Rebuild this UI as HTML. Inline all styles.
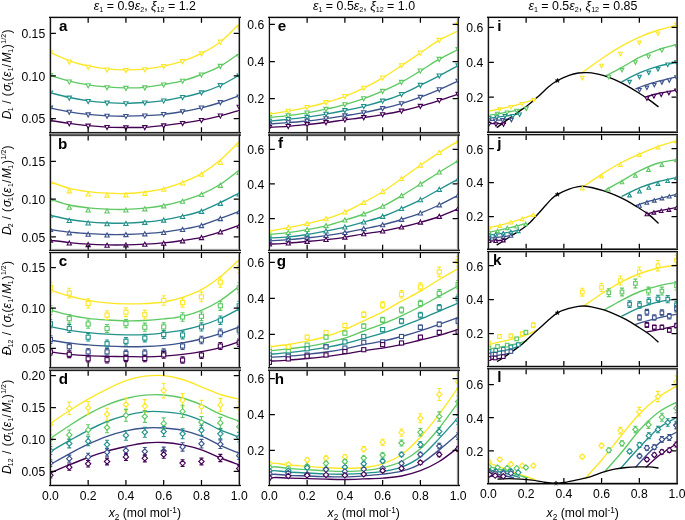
<!DOCTYPE html>
<html><head><meta charset="utf-8"><style>
html,body{margin:0;padding:0;background:#fff;}
svg{display:block;will-change:transform;}
text{font-family:"Liberation Sans",sans-serif;fill:#000;}
.tk{font-size:12.2px;}
.ti{font-size:12.4px;}
.yl{font-size:12.0px;}
.ys{font-size:7.0px;}
.ts{font-size:7.2px;}
.sb{font-size:8.3px;}
.lt{font-size:15.2px;font-weight:bold;}
.st{font-size:7px;}
</style></head><body>
<svg width="685" height="520" viewBox="0 0 685 520">
<rect width="685" height="520" fill="#fff"/>
<clipPath id="c11"><rect x="50.39" y="16.30" width="188.85" height="117.50"/></clipPath>
<g clip-path="url(#c11)">
<path d="M50.39,52.60 C53.54,53.97 62.98,58.58 69.28,60.80 C75.57,63.02 81.86,64.55 88.16,65.90 C94.45,67.25 100.75,68.25 107.05,68.90 C113.34,69.55 119.64,69.77 125.93,69.80 C132.22,69.83 138.52,69.72 144.81,69.10 C151.11,68.48 157.41,67.42 163.70,66.10 C170.00,64.78 176.29,63.32 182.59,61.20 C188.88,59.08 195.18,56.60 201.47,53.40 C207.77,50.20 214.06,46.92 220.36,42.00 C226.65,37.08 236.09,26.92 239.24,23.90" fill="none" stroke="#fde725" stroke-width="1.35"/>
<path d="M50.39,75.50 C53.54,76.43 62.98,79.55 69.28,81.10 C75.57,82.65 81.86,83.83 88.16,84.80 C94.45,85.77 100.75,86.40 107.05,86.90 C113.34,87.40 119.64,87.73 125.93,87.80 C132.22,87.87 138.52,87.85 144.81,87.30 C151.11,86.75 157.41,85.58 163.70,84.50 C170.00,83.42 176.29,82.47 182.59,80.80 C188.88,79.13 195.18,76.93 201.47,74.50 C207.77,72.07 214.06,69.70 220.36,66.20 C226.65,62.70 236.09,55.62 239.24,53.50" fill="none" stroke="#5ec962" stroke-width="1.35"/>
<path d="M50.39,92.80 C53.54,93.58 62.98,96.17 69.28,97.50 C75.57,98.83 81.86,99.95 88.16,100.80 C94.45,101.65 100.75,102.18 107.05,102.60 C113.34,103.02 119.64,103.32 125.93,103.30 C132.22,103.28 138.52,102.93 144.81,102.50 C151.11,102.07 157.41,101.58 163.70,100.70 C170.00,99.82 176.29,98.57 182.59,97.20 C188.88,95.83 195.18,94.45 201.47,92.50 C207.77,90.55 214.06,88.38 220.36,85.50 C226.65,82.62 236.09,76.92 239.24,75.20" fill="none" stroke="#21918c" stroke-width="1.35"/>
<path d="M50.39,108.00 C53.54,108.63 62.98,110.73 69.28,111.80 C75.57,112.87 81.86,113.73 88.16,114.40 C94.45,115.07 100.75,115.50 107.05,115.80 C113.34,116.10 119.64,116.22 125.93,116.20 C132.22,116.18 138.52,116.02 144.81,115.70 C151.11,115.38 157.41,115.00 163.70,114.30 C170.00,113.60 176.29,112.58 182.59,111.50 C188.88,110.42 195.18,109.30 201.47,107.80 C207.77,106.30 214.06,104.52 220.36,102.50 C226.65,100.48 236.09,96.83 239.24,95.70" fill="none" stroke="#3b528b" stroke-width="1.35"/>
<path d="M50.39,120.50 C53.54,120.97 62.98,122.43 69.28,123.30 C75.57,124.17 81.86,125.07 88.16,125.70 C94.45,126.33 100.75,126.80 107.05,127.10 C113.34,127.40 119.64,127.47 125.93,127.50 C132.22,127.53 138.52,127.62 144.81,127.30 C151.11,126.98 157.41,126.28 163.70,125.60 C170.00,124.92 176.29,124.10 182.59,123.20 C188.88,122.30 195.18,121.42 201.47,120.20 C207.77,118.98 214.06,117.53 220.36,115.90 C226.65,114.27 236.09,111.32 239.24,110.40" fill="none" stroke="#440154" stroke-width="1.35"/>
<path d="M48.24,50.77 L52.54,50.77 L50.39,54.86 Z" fill="#fff" stroke="#fde725" stroke-width="1.1"/>
<path d="M67.12,60.17 L71.43,60.17 L69.28,64.26 Z" fill="#fff" stroke="#fde725" stroke-width="1.1"/>
<path d="M86.01,65.27 L90.31,65.27 L88.16,69.36 Z" fill="#fff" stroke="#fde725" stroke-width="1.1"/>
<path d="M104.90,68.03 L109.20,68.03 L107.05,72.12 Z" fill="#fff" stroke="#fde725" stroke-width="1.1"/>
<path d="M123.78,68.47 L128.08,68.47 L125.93,72.56 Z" fill="#fff" stroke="#fde725" stroke-width="1.1"/>
<path d="M142.66,67.77 L146.97,67.77 L144.81,71.86 Z" fill="#fff" stroke="#fde725" stroke-width="1.1"/>
<path d="M161.55,64.57 L165.85,64.57 L163.70,68.66 Z" fill="#fff" stroke="#fde725" stroke-width="1.1"/>
<path d="M180.44,59.67 L184.74,59.67 L182.59,63.76 Z" fill="#fff" stroke="#fde725" stroke-width="1.1"/>
<path d="M199.32,51.87 L203.62,51.87 L201.47,55.96 Z" fill="#fff" stroke="#fde725" stroke-width="1.1"/>
<path d="M218.21,40.17 L222.51,40.17 L220.36,44.26 Z" fill="#fff" stroke="#fde725" stroke-width="1.1"/>
<path d="M237.09,26.17 L241.39,26.17 L239.24,30.26 Z" fill="#fff" stroke="#fde725" stroke-width="1.1"/>
<path d="M48.24,73.67 L52.54,73.67 L50.39,77.76 Z" fill="#fff" stroke="#5ec962" stroke-width="1.1"/>
<path d="M67.12,80.07 L71.43,80.07 L69.28,84.16 Z" fill="#fff" stroke="#5ec962" stroke-width="1.1"/>
<path d="M86.01,83.77 L90.31,83.77 L88.16,87.86 Z" fill="#fff" stroke="#5ec962" stroke-width="1.1"/>
<path d="M104.90,85.71 L109.20,85.71 L107.05,89.80 Z" fill="#fff" stroke="#5ec962" stroke-width="1.1"/>
<path d="M123.78,86.37 L128.08,86.37 L125.93,90.46 Z" fill="#fff" stroke="#5ec962" stroke-width="1.1"/>
<path d="M142.66,85.87 L146.97,85.87 L144.81,89.96 Z" fill="#fff" stroke="#5ec962" stroke-width="1.1"/>
<path d="M161.55,82.97 L165.85,82.97 L163.70,87.06 Z" fill="#fff" stroke="#5ec962" stroke-width="1.1"/>
<path d="M180.44,79.27 L184.74,79.27 L182.59,83.36 Z" fill="#fff" stroke="#5ec962" stroke-width="1.1"/>
<path d="M199.32,72.97 L203.62,72.97 L201.47,77.06 Z" fill="#fff" stroke="#5ec962" stroke-width="1.1"/>
<path d="M218.21,64.37 L222.51,64.37 L220.36,68.46 Z" fill="#fff" stroke="#5ec962" stroke-width="1.1"/>
<path d="M237.09,54.57 L241.39,54.57 L239.24,58.66 Z" fill="#fff" stroke="#5ec962" stroke-width="1.1"/>
<path d="M48.24,90.97 L52.54,90.97 L50.39,95.06 Z" fill="#fff" stroke="#21918c" stroke-width="1.1"/>
<path d="M67.12,96.17 L71.43,96.17 L69.28,100.26 Z" fill="#fff" stroke="#21918c" stroke-width="1.1"/>
<path d="M86.01,99.47 L90.31,99.47 L88.16,103.56 Z" fill="#fff" stroke="#21918c" stroke-width="1.1"/>
<path d="M104.90,101.17 L109.20,101.17 L107.05,105.26 Z" fill="#fff" stroke="#21918c" stroke-width="1.1"/>
<path d="M123.78,101.77 L128.08,101.77 L125.93,105.86 Z" fill="#fff" stroke="#21918c" stroke-width="1.1"/>
<path d="M142.66,100.97 L146.97,100.97 L144.81,105.06 Z" fill="#fff" stroke="#21918c" stroke-width="1.1"/>
<path d="M161.55,99.07 L165.85,99.07 L163.70,103.16 Z" fill="#fff" stroke="#21918c" stroke-width="1.1"/>
<path d="M180.44,95.57 L184.74,95.57 L182.59,99.66 Z" fill="#fff" stroke="#21918c" stroke-width="1.1"/>
<path d="M199.32,90.87 L203.62,90.87 L201.47,94.96 Z" fill="#fff" stroke="#21918c" stroke-width="1.1"/>
<path d="M218.21,83.67 L222.51,83.67 L220.36,87.76 Z" fill="#fff" stroke="#21918c" stroke-width="1.1"/>
<path d="M237.09,74.17 L241.39,74.17 L239.24,78.26 Z" fill="#fff" stroke="#21918c" stroke-width="1.1"/>
<path d="M48.24,106.17 L52.54,106.17 L50.39,110.26 Z" fill="#fff" stroke="#3b528b" stroke-width="1.1"/>
<path d="M67.12,110.27 L71.43,110.27 L69.28,114.36 Z" fill="#fff" stroke="#3b528b" stroke-width="1.1"/>
<path d="M86.01,112.87 L90.31,112.87 L88.16,116.96 Z" fill="#fff" stroke="#3b528b" stroke-width="1.1"/>
<path d="M104.90,114.21 L109.20,114.21 L107.05,118.30 Z" fill="#fff" stroke="#3b528b" stroke-width="1.1"/>
<path d="M123.78,114.57 L128.08,114.57 L125.93,118.66 Z" fill="#fff" stroke="#3b528b" stroke-width="1.1"/>
<path d="M142.66,114.07 L146.97,114.07 L144.81,118.16 Z" fill="#fff" stroke="#3b528b" stroke-width="1.1"/>
<path d="M161.55,112.57 L165.85,112.57 L163.70,116.66 Z" fill="#fff" stroke="#3b528b" stroke-width="1.1"/>
<path d="M180.44,109.77 L184.74,109.77 L182.59,113.86 Z" fill="#fff" stroke="#3b528b" stroke-width="1.1"/>
<path d="M199.32,106.07 L203.62,106.07 L201.47,110.16 Z" fill="#fff" stroke="#3b528b" stroke-width="1.1"/>
<path d="M218.21,100.67 L222.51,100.67 L220.36,104.76 Z" fill="#fff" stroke="#3b528b" stroke-width="1.1"/>
<path d="M237.09,95.17 L241.39,95.17 L239.24,99.26 Z" fill="#fff" stroke="#3b528b" stroke-width="1.1"/>
<path d="M48.24,118.67 L52.54,118.67 L50.39,122.76 Z" fill="#fff" stroke="#440154" stroke-width="1.1"/>
<path d="M67.12,121.77 L71.43,121.77 L69.28,125.86 Z" fill="#fff" stroke="#440154" stroke-width="1.1"/>
<path d="M86.01,124.17 L90.31,124.17 L88.16,128.26 Z" fill="#fff" stroke="#440154" stroke-width="1.1"/>
<path d="M104.90,125.51 L109.20,125.51 L107.05,129.60 Z" fill="#fff" stroke="#440154" stroke-width="1.1"/>
<path d="M123.78,125.87 L128.08,125.87 L125.93,129.96 Z" fill="#fff" stroke="#440154" stroke-width="1.1"/>
<path d="M142.66,125.67 L146.97,125.67 L144.81,129.76 Z" fill="#fff" stroke="#440154" stroke-width="1.1"/>
<path d="M161.55,123.87 L165.85,123.87 L163.70,127.96 Z" fill="#fff" stroke="#440154" stroke-width="1.1"/>
<path d="M180.44,121.47 L184.74,121.47 L182.59,125.56 Z" fill="#fff" stroke="#440154" stroke-width="1.1"/>
<path d="M199.32,118.47 L203.62,118.47 L201.47,122.56 Z" fill="#fff" stroke="#440154" stroke-width="1.1"/>
<path d="M218.21,114.07 L222.51,114.07 L220.36,118.16 Z" fill="#fff" stroke="#440154" stroke-width="1.1"/>
<path d="M237.09,105.27 L241.39,105.27 L239.24,109.36 Z" fill="#fff" stroke="#440154" stroke-width="1.1"/>
</g>
<path d="M50.39,33.30 H55.89 M239.24,33.30 H233.74 M50.39,75.95 H55.89 M239.24,75.95 H233.74 M50.39,118.60 H55.89 M239.24,118.60 H233.74 M88.16,17.30 V22.80 M88.16,132.80 V127.30 M125.93,17.30 V22.80 M125.93,132.80 V127.30 M163.70,17.30 V22.80 M163.70,132.80 V127.30 M201.47,17.30 V22.80 M201.47,132.80 V127.30 " stroke="#000" stroke-width="1.25" fill="none"/>
<text x="45.19" y="38.10" text-anchor="end" class="tk">0.15</text>
<text x="45.19" y="80.75" text-anchor="end" class="tk">0.10</text>
<text x="45.19" y="123.40" text-anchor="end" class="tk">0.05</text>
<text x="58.99" y="30.90" class="lt">a</text>
<clipPath id="c12"><rect x="50.39" y="134.10" width="188.85" height="117.10"/></clipPath>
<g clip-path="url(#c12)">
<path d="M50.39,181.90 C53.54,182.98 62.98,186.78 69.28,188.40 C75.57,190.02 81.86,190.80 88.16,191.60 C94.45,192.40 100.75,192.88 107.05,193.20 C113.34,193.52 119.64,193.70 125.93,193.50 C132.22,193.30 138.52,192.82 144.81,192.00 C151.11,191.18 157.41,190.20 163.70,188.60 C170.00,187.00 176.29,184.90 182.59,182.40 C188.88,179.90 195.18,177.33 201.47,173.60 C207.77,169.87 214.06,165.33 220.36,160.00 C226.65,154.67 236.09,144.67 239.24,141.60" fill="none" stroke="#fde725" stroke-width="1.35"/>
<path d="M50.39,199.20 C53.54,200.17 62.98,203.57 69.28,205.00 C75.57,206.43 81.86,207.10 88.16,207.80 C94.45,208.50 100.75,208.93 107.05,209.20 C113.34,209.47 119.64,209.57 125.93,209.40 C132.22,209.23 138.52,208.85 144.81,208.20 C151.11,207.55 157.41,206.72 163.70,205.50 C170.00,204.28 176.29,202.78 182.59,200.90 C188.88,199.02 195.18,196.97 201.47,194.20 C207.77,191.43 214.06,188.33 220.36,184.30 C226.65,180.27 236.09,172.38 239.24,170.00" fill="none" stroke="#5ec962" stroke-width="1.35"/>
<path d="M50.39,215.40 C53.54,216.08 62.98,218.42 69.28,219.50 C75.57,220.58 81.86,221.32 88.16,221.90 C94.45,222.48 100.75,222.78 107.05,223.00 C113.34,223.22 119.64,223.37 125.93,223.20 C132.22,223.03 138.52,222.57 144.81,222.00 C151.11,221.43 157.41,220.78 163.70,219.80 C170.00,218.82 176.29,217.57 182.59,216.10 C188.88,214.63 195.18,213.25 201.47,211.00 C207.77,208.75 214.06,205.60 220.36,202.60 C226.65,199.60 236.09,194.60 239.24,193.00" fill="none" stroke="#21918c" stroke-width="1.35"/>
<path d="M50.39,229.50 C53.54,229.95 62.98,231.52 69.28,232.20 C75.57,232.88 81.86,233.22 88.16,233.60 C94.45,233.98 100.75,234.35 107.05,234.50 C113.34,234.65 119.64,234.63 125.93,234.50 C132.22,234.37 138.52,234.08 144.81,233.70 C151.11,233.32 157.41,232.95 163.70,232.20 C170.00,231.45 176.29,230.35 182.59,229.20 C188.88,228.05 195.18,227.10 201.47,225.30 C207.77,223.50 214.06,220.73 220.36,218.40 C226.65,216.07 236.09,212.48 239.24,211.30" fill="none" stroke="#3b528b" stroke-width="1.35"/>
<path d="M50.39,240.30 C53.54,240.68 62.98,241.95 69.28,242.60 C75.57,243.25 81.86,243.82 88.16,244.20 C94.45,244.58 100.75,244.78 107.05,244.90 C113.34,245.02 119.64,245.02 125.93,244.90 C132.22,244.78 138.52,244.53 144.81,244.20 C151.11,243.87 157.41,243.52 163.70,242.90 C170.00,242.28 176.29,241.43 182.59,240.50 C188.88,239.57 195.18,238.75 201.47,237.30 C207.77,235.85 214.06,233.80 220.36,231.80 C226.65,229.80 236.09,226.38 239.24,225.30" fill="none" stroke="#440154" stroke-width="1.35"/>
<path d="M48.24,183.73 L52.54,183.73 L50.39,179.64 Z" fill="#fff" stroke="#fde725" stroke-width="1.1"/>
<path d="M67.12,192.83 L71.43,192.83 L69.28,188.74 Z" fill="#fff" stroke="#fde725" stroke-width="1.1"/>
<path d="M86.01,196.03 L90.31,196.03 L88.16,191.94 Z" fill="#fff" stroke="#fde725" stroke-width="1.1"/>
<path d="M104.90,197.11 L109.20,197.11 L107.05,193.02 Z" fill="#fff" stroke="#fde725" stroke-width="1.1"/>
<path d="M123.78,196.83 L128.08,196.83 L125.93,192.74 Z" fill="#fff" stroke="#fde725" stroke-width="1.1"/>
<path d="M142.66,195.33 L146.97,195.33 L144.81,191.24 Z" fill="#fff" stroke="#fde725" stroke-width="1.1"/>
<path d="M161.55,191.23 L165.85,191.23 L163.70,187.14 Z" fill="#fff" stroke="#fde725" stroke-width="1.1"/>
<path d="M180.44,185.03 L184.74,185.03 L182.59,180.94 Z" fill="#fff" stroke="#fde725" stroke-width="1.1"/>
<path d="M199.32,176.23 L203.62,176.23 L201.47,172.14 Z" fill="#fff" stroke="#fde725" stroke-width="1.1"/>
<path d="M218.21,164.33 L222.51,164.33 L220.36,160.24 Z" fill="#fff" stroke="#fde725" stroke-width="1.1"/>
<path d="M237.09,146.33 L241.39,146.33 L239.24,142.24 Z" fill="#fff" stroke="#fde725" stroke-width="1.1"/>
<path d="M48.24,201.03 L52.54,201.03 L50.39,196.94 Z" fill="#fff" stroke="#5ec962" stroke-width="1.1"/>
<path d="M67.12,209.23 L71.43,209.23 L69.28,205.14 Z" fill="#fff" stroke="#5ec962" stroke-width="1.1"/>
<path d="M86.01,212.03 L90.31,212.03 L88.16,207.94 Z" fill="#fff" stroke="#5ec962" stroke-width="1.1"/>
<path d="M104.90,212.95 L109.20,212.95 L107.05,208.86 Z" fill="#fff" stroke="#5ec962" stroke-width="1.1"/>
<path d="M123.78,212.03 L128.08,212.03 L125.93,207.94 Z" fill="#fff" stroke="#5ec962" stroke-width="1.1"/>
<path d="M142.66,210.83 L146.97,210.83 L144.81,206.74 Z" fill="#fff" stroke="#5ec962" stroke-width="1.1"/>
<path d="M161.55,207.83 L165.85,207.83 L163.70,203.74 Z" fill="#fff" stroke="#5ec962" stroke-width="1.1"/>
<path d="M180.44,203.23 L184.74,203.23 L182.59,199.14 Z" fill="#fff" stroke="#5ec962" stroke-width="1.1"/>
<path d="M199.32,196.53 L203.62,196.53 L201.47,192.44 Z" fill="#fff" stroke="#5ec962" stroke-width="1.1"/>
<path d="M218.21,187.33 L222.51,187.33 L220.36,183.24 Z" fill="#fff" stroke="#5ec962" stroke-width="1.1"/>
<path d="M237.09,174.33 L241.39,174.33 L239.24,170.24 Z" fill="#fff" stroke="#5ec962" stroke-width="1.1"/>
<path d="M48.24,217.23 L52.54,217.23 L50.39,213.14 Z" fill="#fff" stroke="#21918c" stroke-width="1.1"/>
<path d="M67.12,222.53 L71.43,222.53 L69.28,218.44 Z" fill="#fff" stroke="#21918c" stroke-width="1.1"/>
<path d="M86.01,224.93 L90.31,224.93 L88.16,220.84 Z" fill="#fff" stroke="#21918c" stroke-width="1.1"/>
<path d="M104.90,225.79 L109.20,225.79 L107.05,221.70 Z" fill="#fff" stroke="#21918c" stroke-width="1.1"/>
<path d="M123.78,225.53 L128.08,225.53 L125.93,221.44 Z" fill="#fff" stroke="#21918c" stroke-width="1.1"/>
<path d="M142.66,224.33 L146.97,224.33 L144.81,220.24 Z" fill="#fff" stroke="#21918c" stroke-width="1.1"/>
<path d="M161.55,222.13 L165.85,222.13 L163.70,218.04 Z" fill="#fff" stroke="#21918c" stroke-width="1.1"/>
<path d="M180.44,218.43 L184.74,218.43 L182.59,214.34 Z" fill="#fff" stroke="#21918c" stroke-width="1.1"/>
<path d="M199.32,213.33 L203.62,213.33 L201.47,209.24 Z" fill="#fff" stroke="#21918c" stroke-width="1.1"/>
<path d="M218.21,205.33 L222.51,205.33 L220.36,201.24 Z" fill="#fff" stroke="#21918c" stroke-width="1.1"/>
<path d="M237.09,195.83 L241.39,195.83 L239.24,191.74 Z" fill="#fff" stroke="#21918c" stroke-width="1.1"/>
<path d="M48.24,231.33 L52.54,231.33 L50.39,227.24 Z" fill="#fff" stroke="#3b528b" stroke-width="1.1"/>
<path d="M67.12,234.83 L71.43,234.83 L69.28,230.74 Z" fill="#fff" stroke="#3b528b" stroke-width="1.1"/>
<path d="M86.01,236.23 L90.31,236.23 L88.16,232.14 Z" fill="#fff" stroke="#3b528b" stroke-width="1.1"/>
<path d="M104.90,236.97 L109.20,236.97 L107.05,232.88 Z" fill="#fff" stroke="#3b528b" stroke-width="1.1"/>
<path d="M123.78,236.63 L128.08,236.63 L125.93,232.54 Z" fill="#fff" stroke="#3b528b" stroke-width="1.1"/>
<path d="M142.66,235.83 L146.97,235.83 L144.81,231.74 Z" fill="#fff" stroke="#3b528b" stroke-width="1.1"/>
<path d="M161.55,234.53 L165.85,234.53 L163.70,230.44 Z" fill="#fff" stroke="#3b528b" stroke-width="1.1"/>
<path d="M180.44,231.53 L184.74,231.53 L182.59,227.44 Z" fill="#fff" stroke="#3b528b" stroke-width="1.1"/>
<path d="M199.32,227.63 L203.62,227.63 L201.47,223.54 Z" fill="#fff" stroke="#3b528b" stroke-width="1.1"/>
<path d="M218.21,220.63 L222.51,220.63 L220.36,216.54 Z" fill="#fff" stroke="#3b528b" stroke-width="1.1"/>
<path d="M237.09,213.63 L241.39,213.63 L239.24,209.54 Z" fill="#fff" stroke="#3b528b" stroke-width="1.1"/>
<path d="M48.24,242.13 L52.54,242.13 L50.39,238.04 Z" fill="#fff" stroke="#440154" stroke-width="1.1"/>
<path d="M67.12,245.03 L71.43,245.03 L69.28,240.94 Z" fill="#fff" stroke="#440154" stroke-width="1.1"/>
<path d="M86.01,246.63 L90.31,246.63 L88.16,242.54 Z" fill="#fff" stroke="#440154" stroke-width="1.1"/>
<path d="M104.90,247.21 L109.20,247.21 L107.05,243.12 Z" fill="#fff" stroke="#440154" stroke-width="1.1"/>
<path d="M123.78,246.93 L128.08,246.93 L125.93,242.84 Z" fill="#fff" stroke="#440154" stroke-width="1.1"/>
<path d="M142.66,246.23 L146.97,246.23 L144.81,242.14 Z" fill="#fff" stroke="#440154" stroke-width="1.1"/>
<path d="M161.55,245.23 L165.85,245.23 L163.70,241.14 Z" fill="#fff" stroke="#440154" stroke-width="1.1"/>
<path d="M180.44,242.83 L184.74,242.83 L182.59,238.74 Z" fill="#fff" stroke="#440154" stroke-width="1.1"/>
<path d="M199.32,239.63 L203.62,239.63 L201.47,235.54 Z" fill="#fff" stroke="#440154" stroke-width="1.1"/>
<path d="M218.21,233.83 L222.51,233.83 L220.36,229.74 Z" fill="#fff" stroke="#440154" stroke-width="1.1"/>
<path d="M237.09,227.83 L241.39,227.83 L239.24,223.74 Z" fill="#fff" stroke="#440154" stroke-width="1.1"/>
</g>
<path d="M50.39,161.30 H55.89 M239.24,161.30 H233.74 M50.39,199.10 H55.89 M239.24,199.10 H233.74 M50.39,236.90 H55.89 M239.24,236.90 H233.74 M88.16,135.10 V140.60 M88.16,250.20 V244.70 M125.93,135.10 V140.60 M125.93,250.20 V244.70 M163.70,135.10 V140.60 M163.70,250.20 V244.70 M201.47,135.10 V140.60 M201.47,250.20 V244.70 " stroke="#000" stroke-width="1.25" fill="none"/>
<text x="45.19" y="166.10" text-anchor="end" class="tk">0.15</text>
<text x="45.19" y="203.90" text-anchor="end" class="tk">0.10</text>
<text x="45.19" y="241.70" text-anchor="end" class="tk">0.05</text>
<text x="58.09" y="148.50" class="lt">b</text>
<clipPath id="c13"><rect x="50.39" y="251.60" width="188.85" height="117.20"/></clipPath>
<g clip-path="url(#c13)">
<path d="M50.39,290.10 C53.54,291.08 62.98,294.28 69.28,296.00 C75.57,297.72 81.86,299.25 88.16,300.40 C94.45,301.55 100.75,302.32 107.05,302.90 C113.34,303.48 119.64,303.78 125.93,303.90 C132.22,304.02 138.52,303.92 144.81,303.60 C151.11,303.28 157.41,303.05 163.70,302.00 C170.00,300.95 176.29,299.37 182.59,297.30 C188.88,295.23 195.18,293.02 201.47,289.60 C207.77,286.18 214.06,281.80 220.36,276.80 C226.65,271.80 236.09,262.47 239.24,259.60" fill="none" stroke="#fde725" stroke-width="1.35"/>
<path d="M50.39,310.20 C53.54,311.02 62.98,313.73 69.28,315.10 C75.57,316.47 81.86,317.58 88.16,318.40 C94.45,319.22 100.75,319.60 107.05,320.00 C113.34,320.40 119.64,320.72 125.93,320.80 C132.22,320.88 138.52,320.82 144.81,320.50 C151.11,320.18 157.41,319.60 163.70,318.90 C170.00,318.20 176.29,317.72 182.59,316.30 C188.88,314.88 195.18,313.03 201.47,310.40 C207.77,307.77 214.06,304.52 220.36,300.50 C226.65,296.48 236.09,288.67 239.24,286.30" fill="none" stroke="#5ec962" stroke-width="1.35"/>
<path d="M50.39,326.60 C53.54,327.22 62.98,329.30 69.28,330.30 C75.57,331.30 81.86,331.95 88.16,332.60 C94.45,333.25 100.75,333.82 107.05,334.20 C113.34,334.58 119.64,334.82 125.93,334.90 C132.22,334.98 138.52,335.03 144.81,334.70 C151.11,334.37 157.41,333.67 163.70,332.90 C170.00,332.13 176.29,331.35 182.59,330.10 C188.88,328.85 195.18,327.33 201.47,325.40 C207.77,323.47 214.06,321.25 220.36,318.50 C226.65,315.75 236.09,310.50 239.24,308.90" fill="none" stroke="#21918c" stroke-width="1.35"/>
<path d="M50.39,340.10 C53.54,340.60 62.98,342.30 69.28,343.10 C75.57,343.90 81.86,344.38 88.16,344.90 C94.45,345.42 100.75,345.90 107.05,346.20 C113.34,346.50 119.64,346.65 125.93,346.70 C132.22,346.75 138.52,346.73 144.81,346.50 C151.11,346.27 157.41,345.92 163.70,345.30 C170.00,344.68 176.29,343.85 182.59,342.80 C188.88,341.75 195.18,340.52 201.47,339.00 C207.77,337.48 214.06,335.72 220.36,333.70 C226.65,331.68 236.09,328.03 239.24,326.90" fill="none" stroke="#3b528b" stroke-width="1.35"/>
<path d="M50.39,351.90 C53.54,352.30 62.98,353.67 69.28,354.30 C75.57,354.93 81.86,355.37 88.16,355.70 C94.45,356.03 100.75,356.15 107.05,356.30 C113.34,356.45 119.64,356.52 125.93,356.60 C132.22,356.68 138.52,356.88 144.81,356.80 C151.11,356.72 157.41,356.50 163.70,356.10 C170.00,355.70 176.29,355.13 182.59,354.40 C188.88,353.67 195.18,352.82 201.47,351.70 C207.77,350.58 214.06,349.37 220.36,347.70 C226.65,346.03 236.09,342.70 239.24,341.70" fill="none" stroke="#440154" stroke-width="1.35"/>
<path d="M50.39,282.37 V292.43 M48.39,282.37 H52.39 M48.39,292.43 H52.39" fill="none" stroke="#fde725" stroke-width="1.1"/>
<rect x="48.34" y="285.35" width="4.10" height="4.10" fill="#fff" stroke="#fde725" stroke-width="1.1"/>
<path d="M69.28,288.21 V297.99 M67.28,288.21 H71.28 M67.28,297.99 H71.28" fill="none" stroke="#fde725" stroke-width="1.1"/>
<rect x="67.23" y="291.05" width="4.10" height="4.10" fill="#fff" stroke="#fde725" stroke-width="1.1"/>
<path d="M88.16,298.77 V308.03 M86.16,298.77 H90.16 M86.16,308.03 H90.16" fill="none" stroke="#fde725" stroke-width="1.1"/>
<rect x="86.11" y="301.35" width="4.10" height="4.10" fill="#fff" stroke="#fde725" stroke-width="1.1"/>
<path d="M107.05,310.76 V319.44 M105.05,310.76 H109.05 M105.05,319.44 H109.05" fill="none" stroke="#fde725" stroke-width="1.1"/>
<rect x="105.00" y="313.05" width="4.10" height="4.10" fill="#fff" stroke="#fde725" stroke-width="1.1"/>
<path d="M125.93,307.79 V316.61 M123.93,307.79 H127.93 M123.93,316.61 H127.93" fill="none" stroke="#fde725" stroke-width="1.1"/>
<rect x="123.88" y="310.15" width="4.10" height="4.10" fill="#fff" stroke="#fde725" stroke-width="1.1"/>
<path d="M144.81,310.35 V319.05 M142.81,310.35 H146.81 M142.81,319.05 H146.81" fill="none" stroke="#fde725" stroke-width="1.1"/>
<rect x="142.76" y="312.65" width="4.10" height="4.10" fill="#fff" stroke="#fde725" stroke-width="1.1"/>
<path d="M163.70,295.80 V305.20 M161.70,295.80 H165.70 M161.70,305.20 H165.70" fill="none" stroke="#fde725" stroke-width="1.1"/>
<rect x="161.65" y="298.45" width="4.10" height="4.10" fill="#fff" stroke="#fde725" stroke-width="1.1"/>
<path d="M182.59,297.95 V307.25 M180.59,297.95 H184.59 M180.59,307.25 H184.59" fill="none" stroke="#fde725" stroke-width="1.1"/>
<rect x="180.54" y="300.55" width="4.10" height="4.10" fill="#fff" stroke="#fde725" stroke-width="1.1"/>
<path d="M201.47,292.10 V301.69 M199.47,292.10 H203.47 M199.47,301.69 H203.47" fill="none" stroke="#fde725" stroke-width="1.1"/>
<rect x="199.42" y="294.85" width="4.10" height="4.10" fill="#fff" stroke="#fde725" stroke-width="1.1"/>
<path d="M220.36,276.94 V287.27 M218.36,276.94 H222.36 M218.36,287.27 H222.36" fill="none" stroke="#fde725" stroke-width="1.1"/>
<rect x="218.31" y="280.05" width="4.10" height="4.10" fill="#fff" stroke="#fde725" stroke-width="1.1"/>
<path d="M239.24,261.76 V272.84 M237.24,261.76 H241.24 M237.24,272.84 H241.24" fill="none" stroke="#fde725" stroke-width="1.1"/>
<rect x="237.19" y="265.25" width="4.10" height="4.10" fill="#fff" stroke="#fde725" stroke-width="1.1"/>
<path d="M50.39,305.43 V314.37 M48.39,305.43 H52.39 M48.39,314.37 H52.39" fill="none" stroke="#5ec962" stroke-width="1.1"/>
<rect x="48.34" y="307.85" width="4.10" height="4.10" fill="#fff" stroke="#5ec962" stroke-width="1.1"/>
<path d="M69.28,314.45 V322.95 M67.28,314.45 H71.28 M67.28,322.95 H71.28" fill="none" stroke="#5ec962" stroke-width="1.1"/>
<rect x="67.23" y="316.65" width="4.10" height="4.10" fill="#fff" stroke="#5ec962" stroke-width="1.1"/>
<path d="M88.16,319.99 V328.22 M86.16,319.99 H90.16 M86.16,328.22 H90.16" fill="none" stroke="#5ec962" stroke-width="1.1"/>
<rect x="86.11" y="322.05" width="4.10" height="4.10" fill="#fff" stroke="#5ec962" stroke-width="1.1"/>
<path d="M107.05,324.50 V332.50 M105.05,324.50 H109.05 M105.05,332.50 H109.05" fill="none" stroke="#5ec962" stroke-width="1.1"/>
<rect x="105.00" y="326.45" width="4.10" height="4.10" fill="#fff" stroke="#5ec962" stroke-width="1.1"/>
<path d="M125.93,319.47 V327.73 M123.93,319.47 H127.93 M123.93,327.73 H127.93" fill="none" stroke="#5ec962" stroke-width="1.1"/>
<rect x="123.88" y="321.55" width="4.10" height="4.10" fill="#fff" stroke="#5ec962" stroke-width="1.1"/>
<path d="M144.81,323.16 V331.24 M142.81,323.16 H146.81 M142.81,331.24 H146.81" fill="none" stroke="#5ec962" stroke-width="1.1"/>
<rect x="142.76" y="325.15" width="4.10" height="4.10" fill="#fff" stroke="#5ec962" stroke-width="1.1"/>
<path d="M163.70,322.85 V330.94 M161.70,322.85 H165.70 M161.70,330.94 H165.70" fill="none" stroke="#5ec962" stroke-width="1.1"/>
<rect x="161.65" y="324.85" width="4.10" height="4.10" fill="#fff" stroke="#5ec962" stroke-width="1.1"/>
<path d="M182.59,312.71 V321.29 M180.59,312.71 H184.59 M180.59,321.29 H184.59" fill="none" stroke="#5ec962" stroke-width="1.1"/>
<rect x="180.54" y="314.95" width="4.10" height="4.10" fill="#fff" stroke="#5ec962" stroke-width="1.1"/>
<path d="M201.47,311.99 V320.61 M199.47,311.99 H203.47 M199.47,320.61 H203.47" fill="none" stroke="#5ec962" stroke-width="1.1"/>
<rect x="199.42" y="314.25" width="4.10" height="4.10" fill="#fff" stroke="#5ec962" stroke-width="1.1"/>
<path d="M220.36,301.23 V310.37 M218.36,301.23 H222.36 M218.36,310.37 H222.36" fill="none" stroke="#5ec962" stroke-width="1.1"/>
<rect x="218.31" y="303.75" width="4.10" height="4.10" fill="#fff" stroke="#5ec962" stroke-width="1.1"/>
<path d="M239.24,282.78 V292.82 M237.24,282.78 H241.24 M237.24,292.82 H241.24" fill="none" stroke="#5ec962" stroke-width="1.1"/>
<rect x="237.19" y="285.75" width="4.10" height="4.10" fill="#fff" stroke="#5ec962" stroke-width="1.1"/>
<path d="M50.39,319.68 V327.92 M48.39,319.68 H52.39 M48.39,327.92 H52.39" fill="none" stroke="#21918c" stroke-width="1.1"/>
<rect x="48.34" y="321.75" width="4.10" height="4.10" fill="#fff" stroke="#21918c" stroke-width="1.1"/>
<path d="M69.28,324.39 V332.41 M67.28,324.39 H71.28 M67.28,332.41 H71.28" fill="none" stroke="#21918c" stroke-width="1.1"/>
<rect x="67.23" y="326.35" width="4.10" height="4.10" fill="#fff" stroke="#21918c" stroke-width="1.1"/>
<path d="M88.16,333.41 V340.99 M86.16,333.41 H90.16 M86.16,340.99 H90.16" fill="none" stroke="#21918c" stroke-width="1.1"/>
<rect x="86.11" y="335.15" width="4.10" height="4.10" fill="#fff" stroke="#21918c" stroke-width="1.1"/>
<path d="M107.05,340.07 V347.32 M105.05,340.07 H109.05 M105.05,347.32 H109.05" fill="none" stroke="#21918c" stroke-width="1.1"/>
<rect x="105.00" y="341.65" width="4.10" height="4.10" fill="#fff" stroke="#21918c" stroke-width="1.1"/>
<path d="M125.93,337.62 V344.99 M123.93,337.62 H127.93 M123.93,344.99 H127.93" fill="none" stroke="#21918c" stroke-width="1.1"/>
<rect x="123.88" y="339.25" width="4.10" height="4.10" fill="#fff" stroke="#21918c" stroke-width="1.1"/>
<path d="M144.81,334.34 V341.87 M142.81,334.34 H146.81 M142.81,341.87 H146.81" fill="none" stroke="#21918c" stroke-width="1.1"/>
<rect x="142.76" y="336.05" width="4.10" height="4.10" fill="#fff" stroke="#21918c" stroke-width="1.1"/>
<path d="M163.70,330.64 V338.36 M161.70,330.64 H165.70 M161.70,338.36 H165.70" fill="none" stroke="#21918c" stroke-width="1.1"/>
<rect x="161.65" y="332.45" width="4.10" height="4.10" fill="#fff" stroke="#21918c" stroke-width="1.1"/>
<path d="M182.59,331.16 V338.84 M180.59,331.16 H184.59 M180.59,338.84 H184.59" fill="none" stroke="#21918c" stroke-width="1.1"/>
<rect x="180.54" y="332.95" width="4.10" height="4.10" fill="#fff" stroke="#21918c" stroke-width="1.1"/>
<path d="M201.47,322.85 V330.94 M199.47,322.85 H203.47 M199.47,330.94 H203.47" fill="none" stroke="#21918c" stroke-width="1.1"/>
<rect x="199.42" y="324.85" width="4.10" height="4.10" fill="#fff" stroke="#21918c" stroke-width="1.1"/>
<path d="M220.36,315.99 V324.41 M218.36,315.99 H222.36 M218.36,324.41 H222.36" fill="none" stroke="#21918c" stroke-width="1.1"/>
<rect x="218.31" y="318.15" width="4.10" height="4.10" fill="#fff" stroke="#21918c" stroke-width="1.1"/>
<path d="M239.24,301.23 V310.37 M237.24,301.23 H241.24 M237.24,310.37 H241.24" fill="none" stroke="#21918c" stroke-width="1.1"/>
<rect x="237.19" y="303.75" width="4.10" height="4.10" fill="#fff" stroke="#21918c" stroke-width="1.1"/>
<path d="M50.39,335.87 V343.33 M48.39,335.87 H52.39 M48.39,343.33 H52.39" fill="none" stroke="#3b528b" stroke-width="1.1"/>
<rect x="48.34" y="337.55" width="4.10" height="4.10" fill="#fff" stroke="#3b528b" stroke-width="1.1"/>
<path d="M69.28,343.15 V350.25 M67.28,343.15 H71.28 M67.28,350.25 H71.28" fill="none" stroke="#3b528b" stroke-width="1.1"/>
<rect x="67.23" y="344.65" width="4.10" height="4.10" fill="#fff" stroke="#3b528b" stroke-width="1.1"/>
<path d="M88.16,348.48 V355.32 M86.16,348.48 H90.16 M86.16,355.32 H90.16" fill="none" stroke="#3b528b" stroke-width="1.1"/>
<rect x="86.11" y="349.85" width="4.10" height="4.10" fill="#fff" stroke="#3b528b" stroke-width="1.1"/>
<path d="M107.05,348.48 V355.32 M105.05,348.48 H109.05 M105.05,355.32 H109.05" fill="none" stroke="#3b528b" stroke-width="1.1"/>
<rect x="105.00" y="349.85" width="4.10" height="4.10" fill="#fff" stroke="#3b528b" stroke-width="1.1"/>
<path d="M125.93,350.12 V356.88 M123.93,350.12 H127.93 M123.93,356.88 H127.93" fill="none" stroke="#3b528b" stroke-width="1.1"/>
<rect x="123.88" y="351.45" width="4.10" height="4.10" fill="#fff" stroke="#3b528b" stroke-width="1.1"/>
<path d="M144.81,349.71 V356.49 M142.81,349.71 H146.81 M142.81,356.49 H146.81" fill="none" stroke="#3b528b" stroke-width="1.1"/>
<rect x="142.76" y="351.05" width="4.10" height="4.10" fill="#fff" stroke="#3b528b" stroke-width="1.1"/>
<path d="M163.70,348.89 V355.71 M161.70,348.89 H165.70 M161.70,355.71 H165.70" fill="none" stroke="#3b528b" stroke-width="1.1"/>
<rect x="161.65" y="350.25" width="4.10" height="4.10" fill="#fff" stroke="#3b528b" stroke-width="1.1"/>
<path d="M182.59,342.43 V349.57 M180.59,342.43 H184.59 M180.59,349.57 H184.59" fill="none" stroke="#3b528b" stroke-width="1.1"/>
<rect x="180.54" y="343.95" width="4.10" height="4.10" fill="#fff" stroke="#3b528b" stroke-width="1.1"/>
<path d="M201.47,336.28 V343.72 M199.47,336.28 H203.47 M199.47,343.72 H203.47" fill="none" stroke="#3b528b" stroke-width="1.1"/>
<rect x="199.42" y="337.95" width="4.10" height="4.10" fill="#fff" stroke="#3b528b" stroke-width="1.1"/>
<path d="M220.36,329.00 V336.79 M218.36,329.00 H222.36 M218.36,336.79 H222.36" fill="none" stroke="#3b528b" stroke-width="1.1"/>
<rect x="218.31" y="330.85" width="4.10" height="4.10" fill="#fff" stroke="#3b528b" stroke-width="1.1"/>
<path d="M239.24,326.14 V334.06 M237.24,326.14 H241.24 M237.24,334.06 H241.24" fill="none" stroke="#3b528b" stroke-width="1.1"/>
<rect x="237.19" y="328.05" width="4.10" height="4.10" fill="#fff" stroke="#3b528b" stroke-width="1.1"/>
<path d="M50.39,348.48 V355.32 M48.39,348.48 H52.39 M48.39,355.32 H52.39" fill="none" stroke="#440154" stroke-width="1.1"/>
<rect x="48.34" y="349.85" width="4.10" height="4.10" fill="#fff" stroke="#440154" stroke-width="1.1"/>
<path d="M69.28,350.94 V357.66 M67.28,350.94 H71.28 M67.28,357.66 H71.28" fill="none" stroke="#440154" stroke-width="1.1"/>
<rect x="67.23" y="352.25" width="4.10" height="4.10" fill="#fff" stroke="#440154" stroke-width="1.1"/>
<path d="M88.16,355.55 V362.05 M86.16,355.55 H90.16 M86.16,362.05 H90.16" fill="none" stroke="#440154" stroke-width="1.1"/>
<rect x="86.11" y="356.75" width="4.10" height="4.10" fill="#fff" stroke="#440154" stroke-width="1.1"/>
<path d="M107.05,356.47 V362.93 M105.05,356.47 H109.05 M105.05,362.93 H109.05" fill="none" stroke="#440154" stroke-width="1.1"/>
<rect x="105.00" y="357.65" width="4.10" height="4.10" fill="#fff" stroke="#440154" stroke-width="1.1"/>
<path d="M125.93,355.14 V361.66 M123.93,355.14 H127.93 M123.93,361.66 H127.93" fill="none" stroke="#440154" stroke-width="1.1"/>
<rect x="123.88" y="356.35" width="4.10" height="4.10" fill="#fff" stroke="#440154" stroke-width="1.1"/>
<path d="M144.81,355.25 V361.75 M142.81,355.25 H146.81 M142.81,361.75 H146.81" fill="none" stroke="#440154" stroke-width="1.1"/>
<rect x="142.76" y="356.45" width="4.10" height="4.10" fill="#fff" stroke="#440154" stroke-width="1.1"/>
<path d="M163.70,351.55 V358.25 M161.70,351.55 H165.70 M161.70,358.25 H165.70" fill="none" stroke="#440154" stroke-width="1.1"/>
<rect x="161.65" y="352.85" width="4.10" height="4.10" fill="#fff" stroke="#440154" stroke-width="1.1"/>
<path d="M182.59,356.89 V363.31 M180.59,356.89 H184.59 M180.59,363.31 H184.59" fill="none" stroke="#440154" stroke-width="1.1"/>
<rect x="180.54" y="358.05" width="4.10" height="4.10" fill="#fff" stroke="#440154" stroke-width="1.1"/>
<path d="M201.47,351.76 V358.44 M199.47,351.76 H203.47 M199.47,358.44 H203.47" fill="none" stroke="#440154" stroke-width="1.1"/>
<rect x="199.42" y="353.05" width="4.10" height="4.10" fill="#fff" stroke="#440154" stroke-width="1.1"/>
<path d="M220.36,342.43 V349.57 M218.36,342.43 H222.36 M218.36,349.57 H222.36" fill="none" stroke="#440154" stroke-width="1.1"/>
<rect x="218.31" y="343.95" width="4.10" height="4.10" fill="#fff" stroke="#440154" stroke-width="1.1"/>
<path d="M239.24,339.15 V346.45 M237.24,339.15 H241.24 M237.24,346.45 H241.24" fill="none" stroke="#440154" stroke-width="1.1"/>
<rect x="237.19" y="340.75" width="4.10" height="4.10" fill="#fff" stroke="#440154" stroke-width="1.1"/>
</g>
<path d="M50.39,267.60 H55.89 M239.24,267.60 H233.74 M50.39,308.00 H55.89 M239.24,308.00 H233.74 M50.39,348.30 H55.89 M239.24,348.30 H233.74 M88.16,252.60 V258.10 M88.16,367.80 V362.30 M125.93,252.60 V258.10 M125.93,367.80 V362.30 M163.70,252.60 V258.10 M163.70,367.80 V362.30 M201.47,252.60 V258.10 M201.47,367.80 V362.30 " stroke="#000" stroke-width="1.25" fill="none"/>
<text x="45.19" y="272.40" text-anchor="end" class="tk">0.15</text>
<text x="45.19" y="312.80" text-anchor="end" class="tk">0.10</text>
<text x="45.19" y="353.10" text-anchor="end" class="tk">0.05</text>
<text x="58.79" y="266.20" class="lt">c</text>
<clipPath id="c14"><rect x="50.39" y="369.30" width="188.85" height="117.20"/></clipPath>
<g clip-path="url(#c14)">
<path d="M50.39,423.40 C53.54,421.28 62.98,414.73 69.28,410.70 C75.57,406.67 81.86,402.78 88.16,399.20 C94.45,395.62 100.75,392.28 107.05,389.20 C113.34,386.12 119.64,382.87 125.93,380.70 C132.22,378.53 138.52,377.05 144.81,376.20 C151.11,375.35 157.41,375.05 163.70,375.60 C170.00,376.15 176.29,377.62 182.59,379.50 C188.88,381.38 195.18,384.40 201.47,386.90 C207.77,389.40 214.06,392.45 220.36,394.50 C226.65,396.55 236.09,398.42 239.24,399.20" fill="none" stroke="#fde725" stroke-width="1.35"/>
<path d="M50.39,438.40 C53.54,436.28 62.98,429.73 69.28,425.70 C75.57,421.67 81.86,417.67 88.16,414.20 C94.45,410.73 100.75,407.52 107.05,404.90 C113.34,402.28 119.64,400.12 125.93,398.50 C132.22,396.88 138.52,395.78 144.81,395.20 C151.11,394.62 157.41,394.53 163.70,395.00 C170.00,395.47 176.29,396.35 182.59,398.00 C188.88,399.65 195.18,402.20 201.47,404.90 C207.77,407.60 214.06,411.50 220.36,414.20 C226.65,416.90 236.09,419.95 239.24,421.10" fill="none" stroke="#5ec962" stroke-width="1.35"/>
<path d="M50.39,451.50 C53.54,449.70 62.98,444.23 69.28,440.70 C75.57,437.17 81.86,433.50 88.16,430.30 C94.45,427.10 100.75,424.00 107.05,421.50 C113.34,419.00 119.64,416.92 125.93,415.30 C132.22,413.68 138.52,412.38 144.81,411.80 C151.11,411.22 157.41,411.40 163.70,411.80 C170.00,412.20 176.29,412.73 182.59,414.20 C188.88,415.67 195.18,417.98 201.47,420.60 C207.77,423.22 214.06,427.13 220.36,429.90 C226.65,432.67 236.09,435.98 239.24,437.20" fill="none" stroke="#21918c" stroke-width="1.35"/>
<path d="M50.39,464.50 C53.54,462.73 62.98,457.28 69.28,453.90 C75.57,450.52 81.86,447.13 88.16,444.20 C94.45,441.27 100.75,438.53 107.05,436.30 C113.34,434.07 119.64,432.18 125.93,430.80 C132.22,429.42 138.52,428.47 144.81,428.00 C151.11,427.53 157.41,427.62 163.70,428.00 C170.00,428.38 176.29,428.95 182.59,430.30 C188.88,431.65 195.18,433.60 201.47,436.10 C207.77,438.60 214.06,442.42 220.36,445.30 C226.65,448.18 236.09,452.05 239.24,453.40" fill="none" stroke="#3b528b" stroke-width="1.35"/>
<path d="M50.39,473.00 C53.54,471.65 62.98,467.48 69.28,464.90 C75.57,462.32 81.86,459.80 88.16,457.50 C94.45,455.20 100.75,452.93 107.05,451.10 C113.34,449.27 119.64,447.85 125.93,446.50 C132.22,445.15 138.52,443.67 144.81,443.00 C151.11,442.33 157.41,442.18 163.70,442.50 C170.00,442.82 176.29,443.67 182.59,444.90 C188.88,446.13 195.18,447.72 201.47,449.90 C207.77,452.08 214.06,455.50 220.36,458.00 C226.65,460.50 236.09,463.75 239.24,464.90" fill="none" stroke="#440154" stroke-width="1.35"/>
<path d="M50.39,419.07 V429.93 M48.39,419.07 H52.39 M48.39,429.93 H52.39" fill="none" stroke="#fde725" stroke-width="1.1"/>
<path d="M50.39,421.80 L53.09,424.50 L50.39,427.20 L47.69,424.50 Z" fill="#fff" stroke="#fde725" stroke-width="1.1"/>
<path d="M69.28,402.09 V414.71 M67.28,402.09 H71.28 M67.28,414.71 H71.28" fill="none" stroke="#fde725" stroke-width="1.1"/>
<path d="M69.28,405.70 L71.98,408.40 L69.28,411.10 L66.58,408.40 Z" fill="#fff" stroke="#fde725" stroke-width="1.1"/>
<path d="M88.16,401.56 V414.24 M86.16,401.56 H90.16 M86.16,414.24 H90.16" fill="none" stroke="#fde725" stroke-width="1.1"/>
<path d="M88.16,405.20 L90.86,407.90 L88.16,410.60 L85.46,407.90 Z" fill="#fff" stroke="#fde725" stroke-width="1.1"/>
<path d="M107.05,408.20 V420.19 M105.05,408.20 H109.05 M105.05,420.19 H109.05" fill="none" stroke="#fde725" stroke-width="1.1"/>
<path d="M107.05,411.50 L109.75,414.20 L107.05,416.90 L104.35,414.20 Z" fill="#fff" stroke="#fde725" stroke-width="1.1"/>
<path d="M125.93,397.97 V411.03 M123.93,397.97 H127.93 M123.93,411.03 H127.93" fill="none" stroke="#fde725" stroke-width="1.1"/>
<path d="M125.93,401.80 L128.63,404.50 L125.93,407.20 L123.23,404.50 Z" fill="#fff" stroke="#fde725" stroke-width="1.1"/>
<path d="M144.81,399.66 V412.54 M142.81,399.66 H146.81 M142.81,412.54 H146.81" fill="none" stroke="#fde725" stroke-width="1.1"/>
<path d="M144.81,403.40 L147.51,406.10 L144.81,408.80 L142.12,406.10 Z" fill="#fff" stroke="#fde725" stroke-width="1.1"/>
<path d="M163.70,383.31 V397.89 M161.70,383.31 H165.70 M161.70,397.89 H165.70" fill="none" stroke="#fde725" stroke-width="1.1"/>
<path d="M163.70,387.90 L166.40,390.60 L163.70,393.30 L161.00,390.60 Z" fill="#fff" stroke="#fde725" stroke-width="1.1"/>
<path d="M182.59,393.54 V407.06 M180.59,393.54 H184.59 M180.59,407.06 H184.59" fill="none" stroke="#fde725" stroke-width="1.1"/>
<path d="M182.59,397.60 L185.29,400.30 L182.59,403.00 L179.89,400.30 Z" fill="#fff" stroke="#fde725" stroke-width="1.1"/>
<path d="M201.47,400.40 V413.20 M199.47,400.40 H203.47 M199.47,413.20 H203.47" fill="none" stroke="#fde725" stroke-width="1.1"/>
<path d="M201.47,404.10 L204.17,406.80 L201.47,409.50 L198.77,406.80 Z" fill="#fff" stroke="#fde725" stroke-width="1.1"/>
<path d="M220.36,398.39 V411.41 M218.36,398.39 H222.36 M218.36,411.41 H222.36" fill="none" stroke="#fde725" stroke-width="1.1"/>
<path d="M220.36,402.20 L223.06,404.90 L220.36,407.60 L217.66,404.90 Z" fill="#fff" stroke="#fde725" stroke-width="1.1"/>
<path d="M239.24,401.35 V414.05 M237.24,401.35 H241.24 M237.24,414.05 H241.24" fill="none" stroke="#fde725" stroke-width="1.1"/>
<path d="M239.24,405.00 L241.94,407.70 L239.24,410.40 L236.54,407.70 Z" fill="#fff" stroke="#fde725" stroke-width="1.1"/>
<path d="M50.39,434.90 V444.10 M48.39,434.90 H52.39 M48.39,444.10 H52.39" fill="none" stroke="#5ec962" stroke-width="1.1"/>
<path d="M50.39,436.80 L53.09,439.50 L50.39,442.20 L47.69,439.50 Z" fill="#fff" stroke="#5ec962" stroke-width="1.1"/>
<path d="M69.28,430.04 V439.76 M67.28,430.04 H71.28 M67.28,439.76 H71.28" fill="none" stroke="#5ec962" stroke-width="1.1"/>
<path d="M69.28,432.20 L71.98,434.90 L69.28,437.60 L66.58,434.90 Z" fill="#fff" stroke="#5ec962" stroke-width="1.1"/>
<path d="M88.16,424.77 V435.03 M86.16,424.77 H90.16 M86.16,435.03 H90.16" fill="none" stroke="#5ec962" stroke-width="1.1"/>
<path d="M88.16,427.20 L90.86,429.90 L88.16,432.60 L85.46,429.90 Z" fill="#fff" stroke="#5ec962" stroke-width="1.1"/>
<path d="M107.05,422.24 V432.76 M105.05,422.24 H109.05 M105.05,432.76 H109.05" fill="none" stroke="#5ec962" stroke-width="1.1"/>
<path d="M107.05,424.80 L109.75,427.50 L107.05,430.20 L104.35,427.50 Z" fill="#fff" stroke="#5ec962" stroke-width="1.1"/>
<path d="M125.93,409.37 V421.23 M123.93,409.37 H127.93 M123.93,421.23 H127.93" fill="none" stroke="#5ec962" stroke-width="1.1"/>
<path d="M125.93,412.60 L128.63,415.30 L125.93,418.00 L123.23,415.30 Z" fill="#fff" stroke="#5ec962" stroke-width="1.1"/>
<path d="M144.81,410.63 V422.37 M142.81,410.63 H146.81 M142.81,422.37 H146.81" fill="none" stroke="#5ec962" stroke-width="1.1"/>
<path d="M144.81,413.80 L147.51,416.50 L144.81,419.20 L142.12,416.50 Z" fill="#fff" stroke="#5ec962" stroke-width="1.1"/>
<path d="M163.70,417.91 V428.89 M161.70,417.91 H165.70 M161.70,428.89 H165.70" fill="none" stroke="#5ec962" stroke-width="1.1"/>
<path d="M163.70,420.70 L166.40,423.40 L163.70,426.10 L161.00,423.40 Z" fill="#fff" stroke="#5ec962" stroke-width="1.1"/>
<path d="M182.59,405.25 V417.55 M180.59,405.25 H184.59 M180.59,417.55 H184.59" fill="none" stroke="#5ec962" stroke-width="1.1"/>
<path d="M182.59,408.70 L185.29,411.40 L182.59,414.10 L179.89,411.40 Z" fill="#fff" stroke="#5ec962" stroke-width="1.1"/>
<path d="M201.47,416.64 V427.75 M199.47,416.64 H203.47 M199.47,427.75 H203.47" fill="none" stroke="#5ec962" stroke-width="1.1"/>
<path d="M201.47,419.50 L204.17,422.20 L201.47,424.90 L198.77,422.20 Z" fill="#fff" stroke="#5ec962" stroke-width="1.1"/>
<path d="M220.36,417.38 V428.42 M218.36,417.38 H222.36 M218.36,428.42 H222.36" fill="none" stroke="#5ec962" stroke-width="1.1"/>
<path d="M220.36,420.20 L223.06,422.90 L220.36,425.60 L217.66,422.90 Z" fill="#fff" stroke="#5ec962" stroke-width="1.1"/>
<path d="M239.24,421.50 V432.10 M237.24,421.50 H241.24 M237.24,432.10 H241.24" fill="none" stroke="#5ec962" stroke-width="1.1"/>
<path d="M239.24,424.10 L241.94,426.80 L239.24,429.50 L236.54,426.80 Z" fill="#fff" stroke="#5ec962" stroke-width="1.1"/>
<path d="M50.39,446.61 V454.59 M48.39,446.61 H52.39 M48.39,454.59 H52.39" fill="none" stroke="#21918c" stroke-width="1.1"/>
<path d="M50.39,447.90 L53.09,450.60 L50.39,453.30 L47.69,450.60 Z" fill="#fff" stroke="#21918c" stroke-width="1.1"/>
<path d="M69.28,439.12 V447.88 M67.28,439.12 H71.28 M67.28,447.88 H71.28" fill="none" stroke="#21918c" stroke-width="1.1"/>
<path d="M69.28,440.80 L71.98,443.50 L69.28,446.20 L66.58,443.50 Z" fill="#fff" stroke="#21918c" stroke-width="1.1"/>
<path d="M88.16,436.69 V445.71 M86.16,436.69 H90.16 M86.16,445.71 H90.16" fill="none" stroke="#21918c" stroke-width="1.1"/>
<path d="M88.16,438.50 L90.86,441.20 L88.16,443.90 L85.46,441.20 Z" fill="#fff" stroke="#21918c" stroke-width="1.1"/>
<path d="M107.05,440.28 V448.92 M105.05,440.28 H109.05 M105.05,448.92 H109.05" fill="none" stroke="#21918c" stroke-width="1.1"/>
<path d="M107.05,441.90 L109.75,444.60 L107.05,447.30 L104.35,444.60 Z" fill="#fff" stroke="#21918c" stroke-width="1.1"/>
<path d="M125.93,430.57 V440.23 M123.93,430.57 H127.93 M123.93,440.23 H127.93" fill="none" stroke="#21918c" stroke-width="1.1"/>
<path d="M125.93,432.70 L128.63,435.40 L125.93,438.10 L123.23,435.40 Z" fill="#fff" stroke="#21918c" stroke-width="1.1"/>
<path d="M144.81,427.19 V437.20 M142.81,427.19 H146.81 M142.81,437.20 H146.81" fill="none" stroke="#21918c" stroke-width="1.1"/>
<path d="M144.81,429.50 L147.51,432.20 L144.81,434.90 L142.12,432.20 Z" fill="#fff" stroke="#21918c" stroke-width="1.1"/>
<path d="M163.70,426.46 V436.54 M161.70,426.46 H165.70 M161.70,436.54 H165.70" fill="none" stroke="#21918c" stroke-width="1.1"/>
<path d="M163.70,428.80 L166.40,431.50 L163.70,434.20 L161.00,431.50 Z" fill="#fff" stroke="#21918c" stroke-width="1.1"/>
<path d="M182.59,428.88 V438.72 M180.59,428.88 H184.59 M180.59,438.72 H184.59" fill="none" stroke="#21918c" stroke-width="1.1"/>
<path d="M182.59,431.10 L185.29,433.80 L182.59,436.50 L179.89,433.80 Z" fill="#fff" stroke="#21918c" stroke-width="1.1"/>
<path d="M201.47,425.19 V435.41 M199.47,425.19 H203.47 M199.47,435.41 H203.47" fill="none" stroke="#21918c" stroke-width="1.1"/>
<path d="M201.47,427.60 L204.17,430.30 L201.47,433.00 L198.77,430.30 Z" fill="#fff" stroke="#21918c" stroke-width="1.1"/>
<path d="M220.36,428.88 V438.72 M218.36,428.88 H222.36 M218.36,438.72 H222.36" fill="none" stroke="#21918c" stroke-width="1.1"/>
<path d="M220.36,431.10 L223.06,433.80 L220.36,436.50 L217.66,433.80 Z" fill="#fff" stroke="#21918c" stroke-width="1.1"/>
<path d="M239.24,432.47 V441.93 M237.24,432.47 H241.24 M237.24,441.93 H241.24" fill="none" stroke="#21918c" stroke-width="1.1"/>
<path d="M239.24,434.50 L241.94,437.20 L239.24,439.90 L236.54,437.20 Z" fill="#fff" stroke="#21918c" stroke-width="1.1"/>
<path d="M50.39,459.79 V466.41 M48.39,459.79 H52.39 M48.39,466.41 H52.39" fill="none" stroke="#3b528b" stroke-width="1.1"/>
<path d="M50.39,460.40 L53.09,463.10 L50.39,465.80 L47.69,463.10 Z" fill="#fff" stroke="#3b528b" stroke-width="1.1"/>
<path d="M69.28,455.15 V462.25 M67.28,455.15 H71.28 M67.28,462.25 H71.28" fill="none" stroke="#3b528b" stroke-width="1.1"/>
<path d="M69.28,456.00 L71.98,458.70 L69.28,461.40 L66.58,458.70 Z" fill="#fff" stroke="#3b528b" stroke-width="1.1"/>
<path d="M88.16,453.25 V460.55 M86.16,453.25 H90.16 M86.16,460.55 H90.16" fill="none" stroke="#3b528b" stroke-width="1.1"/>
<path d="M88.16,454.20 L90.86,456.90 L88.16,459.60 L85.46,456.90 Z" fill="#fff" stroke="#3b528b" stroke-width="1.1"/>
<path d="M107.05,448.30 V456.10 M105.05,448.30 H109.05 M105.05,456.10 H109.05" fill="none" stroke="#3b528b" stroke-width="1.1"/>
<path d="M107.05,449.50 L109.75,452.20 L107.05,454.90 L104.35,452.20 Z" fill="#fff" stroke="#3b528b" stroke-width="1.1"/>
<path d="M125.93,446.61 V454.59 M123.93,446.61 H127.93 M123.93,454.59 H127.93" fill="none" stroke="#3b528b" stroke-width="1.1"/>
<path d="M125.93,447.90 L128.63,450.60 L125.93,453.30 L123.23,450.60 Z" fill="#fff" stroke="#3b528b" stroke-width="1.1"/>
<path d="M144.81,447.56 V455.44 M142.81,447.56 H146.81 M142.81,455.44 H146.81" fill="none" stroke="#3b528b" stroke-width="1.1"/>
<path d="M144.81,448.80 L147.51,451.50 L144.81,454.20 L142.12,451.50 Z" fill="#fff" stroke="#3b528b" stroke-width="1.1"/>
<path d="M163.70,447.13 V455.07 M161.70,447.13 H165.70 M161.70,455.07 H165.70" fill="none" stroke="#3b528b" stroke-width="1.1"/>
<path d="M163.70,448.40 L166.40,451.10 L163.70,453.80 L161.00,451.10 Z" fill="#fff" stroke="#3b528b" stroke-width="1.1"/>
<path d="M182.59,442.70 V451.10 M180.59,442.70 H184.59 M180.59,451.10 H184.59" fill="none" stroke="#3b528b" stroke-width="1.1"/>
<path d="M182.59,444.20 L185.29,446.90 L182.59,449.60 L179.89,446.90 Z" fill="#fff" stroke="#3b528b" stroke-width="1.1"/>
<path d="M201.47,439.33 V448.07 M199.47,439.33 H203.47 M199.47,448.07 H203.47" fill="none" stroke="#3b528b" stroke-width="1.1"/>
<path d="M201.47,441.00 L204.17,443.70 L201.47,446.40 L198.77,443.70 Z" fill="#fff" stroke="#3b528b" stroke-width="1.1"/>
<path d="M220.36,439.85 V448.55 M218.36,439.85 H222.36 M218.36,448.55 H222.36" fill="none" stroke="#3b528b" stroke-width="1.1"/>
<path d="M220.36,441.50 L223.06,444.20 L220.36,446.90 L217.66,444.20 Z" fill="#fff" stroke="#3b528b" stroke-width="1.1"/>
<path d="M239.24,451.99 V459.41 M237.24,451.99 H241.24 M237.24,459.41 H241.24" fill="none" stroke="#3b528b" stroke-width="1.1"/>
<path d="M239.24,453.00 L241.94,455.70 L239.24,458.40 L236.54,455.70 Z" fill="#fff" stroke="#3b528b" stroke-width="1.1"/>
<path d="M50.39,472.67 V477.93 M48.39,472.67 H52.39 M48.39,477.93 H52.39" fill="none" stroke="#440154" stroke-width="1.1"/>
<path d="M50.39,472.60 L53.09,475.30 L50.39,478.00 L47.69,475.30 Z" fill="#fff" stroke="#440154" stroke-width="1.1"/>
<path d="M69.28,464.12 V470.28 M67.28,464.12 H71.28 M67.28,470.28 H71.28" fill="none" stroke="#440154" stroke-width="1.1"/>
<path d="M69.28,464.50 L71.98,467.20 L69.28,469.90 L66.58,467.20 Z" fill="#fff" stroke="#440154" stroke-width="1.1"/>
<path d="M88.16,460.53 V467.07 M86.16,460.53 H90.16 M86.16,467.07 H90.16" fill="none" stroke="#440154" stroke-width="1.1"/>
<path d="M88.16,461.10 L90.86,463.80 L88.16,466.50 L85.46,463.80 Z" fill="#fff" stroke="#440154" stroke-width="1.1"/>
<path d="M107.05,458.11 V464.89 M105.05,458.11 H109.05 M105.05,464.89 H109.05" fill="none" stroke="#440154" stroke-width="1.1"/>
<path d="M107.05,458.80 L109.75,461.50 L107.05,464.20 L104.35,461.50 Z" fill="#fff" stroke="#440154" stroke-width="1.1"/>
<path d="M125.93,453.25 V460.55 M123.93,453.25 H127.93 M123.93,460.55 H127.93" fill="none" stroke="#440154" stroke-width="1.1"/>
<path d="M125.93,454.20 L128.63,456.90 L125.93,459.60 L123.23,456.90 Z" fill="#fff" stroke="#440154" stroke-width="1.1"/>
<path d="M144.81,454.73 V461.87 M142.81,454.73 H146.81 M142.81,461.87 H146.81" fill="none" stroke="#440154" stroke-width="1.1"/>
<path d="M144.81,455.60 L147.51,458.30 L144.81,461.00 L142.12,458.30 Z" fill="#fff" stroke="#440154" stroke-width="1.1"/>
<path d="M163.70,450.72 V458.28 M161.70,450.72 H165.70 M161.70,458.28 H165.70" fill="none" stroke="#440154" stroke-width="1.1"/>
<path d="M163.70,451.80 L166.40,454.50 L163.70,457.20 L161.00,454.50 Z" fill="#fff" stroke="#440154" stroke-width="1.1"/>
<path d="M182.59,459.79 V466.41 M180.59,459.79 H184.59 M180.59,466.41 H184.59" fill="none" stroke="#440154" stroke-width="1.1"/>
<path d="M182.59,460.40 L185.29,463.10 L182.59,465.80 L179.89,463.10 Z" fill="#fff" stroke="#440154" stroke-width="1.1"/>
<path d="M201.47,458.11 V464.89 M199.47,458.11 H203.47 M199.47,464.89 H203.47" fill="none" stroke="#440154" stroke-width="1.1"/>
<path d="M201.47,458.80 L204.17,461.50 L201.47,464.20 L198.77,461.50 Z" fill="#fff" stroke="#440154" stroke-width="1.1"/>
<path d="M220.36,454.41 V461.59 M218.36,454.41 H222.36 M218.36,461.59 H222.36" fill="none" stroke="#440154" stroke-width="1.1"/>
<path d="M220.36,455.30 L223.06,458.00 L220.36,460.70 L217.66,458.00 Z" fill="#fff" stroke="#440154" stroke-width="1.1"/>
<path d="M239.24,465.39 V471.41 M237.24,465.39 H241.24 M237.24,471.41 H241.24" fill="none" stroke="#440154" stroke-width="1.1"/>
<path d="M239.24,465.70 L241.94,468.40 L239.24,471.10 L236.54,468.40 Z" fill="#fff" stroke="#440154" stroke-width="1.1"/>
</g>
<path d="M50.39,375.60 H55.89 M239.24,375.60 H233.74 M50.39,407.50 H55.89 M239.24,407.50 H233.74 M50.39,439.40 H55.89 M239.24,439.40 H233.74 M50.39,471.30 H55.89 M239.24,471.30 H233.74 M88.16,370.30 V375.80 M88.16,485.50 V480.00 M125.93,370.30 V375.80 M125.93,485.50 V480.00 M163.70,370.30 V375.80 M163.70,485.50 V480.00 M201.47,370.30 V375.80 M201.47,485.50 V480.00 " stroke="#000" stroke-width="1.25" fill="none"/>
<text x="45.19" y="380.40" text-anchor="end" class="tk">0.20</text>
<text x="45.19" y="412.30" text-anchor="end" class="tk">0.15</text>
<text x="45.19" y="444.20" text-anchor="end" class="tk">0.10</text>
<text x="45.19" y="476.10" text-anchor="end" class="tk">0.05</text>
<text x="58.69" y="383.70" class="lt">d</text>
<clipPath id="c21"><rect x="269.38" y="16.30" width="188.76" height="117.50"/></clipPath>
<g clip-path="url(#c21)">
<path d="M269.38,114.10 C272.53,113.60 281.96,112.22 288.26,111.10 C294.55,109.98 300.84,108.83 307.13,107.40 C313.42,105.97 319.72,104.35 326.01,102.50 C332.30,100.65 338.59,98.70 344.88,96.30 C351.18,93.90 357.47,91.17 363.76,88.10 C370.05,85.03 376.34,81.65 382.64,77.90 C388.93,74.15 395.22,69.77 401.51,65.60 C407.80,61.43 414.10,57.13 420.39,52.90 C426.68,48.67 432.97,43.85 439.26,40.20 C445.56,36.55 454.99,32.53 458.14,31.00" fill="none" stroke="#fde725" stroke-width="1.35"/>
<path d="M269.38,117.50 C272.53,117.20 281.96,116.47 288.26,115.70 C294.55,114.93 300.84,113.98 307.13,112.90 C313.42,111.82 319.72,110.58 326.01,109.20 C332.30,107.82 338.59,106.37 344.88,104.60 C351.18,102.83 357.47,100.83 363.76,98.60 C370.05,96.37 376.34,93.93 382.64,91.20 C388.93,88.47 395.22,85.58 401.51,82.20 C407.80,78.82 414.10,74.73 420.39,70.90 C426.68,67.07 432.97,62.77 439.26,59.20 C445.56,55.63 454.99,51.12 458.14,49.50" fill="none" stroke="#5ec962" stroke-width="1.35"/>
<path d="M269.38,121.10 C272.53,120.80 281.96,119.95 288.26,119.30 C294.55,118.65 300.84,118.07 307.13,117.20 C313.42,116.33 319.72,115.22 326.01,114.10 C332.30,112.98 338.59,111.80 344.88,110.50 C351.18,109.20 357.47,107.88 363.76,106.30 C370.05,104.72 376.34,103.00 382.64,101.00 C388.93,99.00 395.22,96.93 401.51,94.30 C407.80,91.67 414.10,88.28 420.39,85.20 C426.68,82.12 432.97,79.07 439.26,75.80 C445.56,72.53 454.99,67.30 458.14,65.60" fill="none" stroke="#21918c" stroke-width="1.35"/>
<path d="M269.38,124.00 C272.53,123.77 281.96,123.10 288.26,122.60 C294.55,122.10 300.84,121.67 307.13,121.00 C313.42,120.33 319.72,119.48 326.01,118.60 C332.30,117.72 338.59,116.70 344.88,115.70 C351.18,114.70 357.47,113.80 363.76,112.60 C370.05,111.40 376.34,110.00 382.64,108.50 C388.93,107.00 395.22,105.48 401.51,103.60 C407.80,101.72 414.10,99.53 420.39,97.20 C426.68,94.87 432.97,92.28 439.26,89.60 C445.56,86.92 454.99,82.52 458.14,81.10" fill="none" stroke="#3b528b" stroke-width="1.35"/>
<path d="M269.38,127.30 C272.53,127.13 281.96,126.77 288.26,126.30 C294.55,125.83 300.84,125.13 307.13,124.50 C313.42,123.87 319.72,123.27 326.01,122.50 C332.30,121.73 338.59,120.73 344.88,119.90 C351.18,119.07 357.47,118.38 363.76,117.50 C370.05,116.62 376.34,115.68 382.64,114.60 C388.93,113.52 395.22,112.40 401.51,111.00 C407.80,109.60 414.10,107.97 420.39,106.20 C426.68,104.43 432.97,102.40 439.26,100.40 C445.56,98.40 454.99,95.23 458.14,94.20" fill="none" stroke="#440154" stroke-width="1.35"/>
<path d="M267.23,112.27 L271.53,112.27 L269.38,116.36 Z" fill="#fff" stroke="#fde725" stroke-width="1.1"/>
<path d="M286.11,109.27 L290.41,109.27 L288.26,113.36 Z" fill="#fff" stroke="#fde725" stroke-width="1.1"/>
<path d="M304.98,105.57 L309.28,105.57 L307.13,109.66 Z" fill="#fff" stroke="#fde725" stroke-width="1.1"/>
<path d="M323.86,100.67 L328.16,100.67 L326.01,104.76 Z" fill="#fff" stroke="#fde725" stroke-width="1.1"/>
<path d="M342.73,94.47 L347.03,94.47 L344.88,98.56 Z" fill="#fff" stroke="#fde725" stroke-width="1.1"/>
<path d="M361.61,86.27 L365.91,86.27 L363.76,90.36 Z" fill="#fff" stroke="#fde725" stroke-width="1.1"/>
<path d="M380.49,76.07 L384.79,76.07 L382.64,80.16 Z" fill="#fff" stroke="#fde725" stroke-width="1.1"/>
<path d="M399.36,63.77 L403.66,63.77 L401.51,67.86 Z" fill="#fff" stroke="#fde725" stroke-width="1.1"/>
<path d="M418.24,51.07 L422.54,51.07 L420.39,55.16 Z" fill="#fff" stroke="#fde725" stroke-width="1.1"/>
<path d="M437.11,38.37 L441.41,38.37 L439.26,42.46 Z" fill="#fff" stroke="#fde725" stroke-width="1.1"/>
<path d="M455.99,22.87 L460.29,22.87 L458.14,26.96 Z" fill="#fff" stroke="#fde725" stroke-width="1.1"/>
<path d="M267.23,115.67 L271.53,115.67 L269.38,119.76 Z" fill="#fff" stroke="#5ec962" stroke-width="1.1"/>
<path d="M286.11,113.87 L290.41,113.87 L288.26,117.96 Z" fill="#fff" stroke="#5ec962" stroke-width="1.1"/>
<path d="M304.98,111.07 L309.28,111.07 L307.13,115.16 Z" fill="#fff" stroke="#5ec962" stroke-width="1.1"/>
<path d="M323.86,107.37 L328.16,107.37 L326.01,111.46 Z" fill="#fff" stroke="#5ec962" stroke-width="1.1"/>
<path d="M342.73,102.77 L347.03,102.77 L344.88,106.86 Z" fill="#fff" stroke="#5ec962" stroke-width="1.1"/>
<path d="M361.61,96.77 L365.91,96.77 L363.76,100.86 Z" fill="#fff" stroke="#5ec962" stroke-width="1.1"/>
<path d="M380.49,89.37 L384.79,89.37 L382.64,93.46 Z" fill="#fff" stroke="#5ec962" stroke-width="1.1"/>
<path d="M399.36,80.37 L403.66,80.37 L401.51,84.46 Z" fill="#fff" stroke="#5ec962" stroke-width="1.1"/>
<path d="M418.24,69.07 L422.54,69.07 L420.39,73.16 Z" fill="#fff" stroke="#5ec962" stroke-width="1.1"/>
<path d="M437.11,57.37 L441.41,57.37 L439.26,61.46 Z" fill="#fff" stroke="#5ec962" stroke-width="1.1"/>
<path d="M455.99,47.67 L460.29,47.67 L458.14,51.76 Z" fill="#fff" stroke="#5ec962" stroke-width="1.1"/>
<path d="M267.23,119.27 L271.53,119.27 L269.38,123.36 Z" fill="#fff" stroke="#21918c" stroke-width="1.1"/>
<path d="M286.11,117.47 L290.41,117.47 L288.26,121.56 Z" fill="#fff" stroke="#21918c" stroke-width="1.1"/>
<path d="M304.98,115.37 L309.28,115.37 L307.13,119.46 Z" fill="#fff" stroke="#21918c" stroke-width="1.1"/>
<path d="M323.86,112.27 L328.16,112.27 L326.01,116.36 Z" fill="#fff" stroke="#21918c" stroke-width="1.1"/>
<path d="M342.73,108.67 L347.03,108.67 L344.88,112.76 Z" fill="#fff" stroke="#21918c" stroke-width="1.1"/>
<path d="M361.61,104.47 L365.91,104.47 L363.76,108.56 Z" fill="#fff" stroke="#21918c" stroke-width="1.1"/>
<path d="M380.49,99.17 L384.79,99.17 L382.64,103.26 Z" fill="#fff" stroke="#21918c" stroke-width="1.1"/>
<path d="M399.36,92.47 L403.66,92.47 L401.51,96.56 Z" fill="#fff" stroke="#21918c" stroke-width="1.1"/>
<path d="M418.24,83.37 L422.54,83.37 L420.39,87.46 Z" fill="#fff" stroke="#21918c" stroke-width="1.1"/>
<path d="M437.11,73.97 L441.41,73.97 L439.26,78.06 Z" fill="#fff" stroke="#21918c" stroke-width="1.1"/>
<path d="M455.99,63.77 L460.29,63.77 L458.14,67.86 Z" fill="#fff" stroke="#21918c" stroke-width="1.1"/>
<path d="M267.23,122.17 L271.53,122.17 L269.38,126.26 Z" fill="#fff" stroke="#3b528b" stroke-width="1.1"/>
<path d="M286.11,120.77 L290.41,120.77 L288.26,124.86 Z" fill="#fff" stroke="#3b528b" stroke-width="1.1"/>
<path d="M304.98,119.17 L309.28,119.17 L307.13,123.26 Z" fill="#fff" stroke="#3b528b" stroke-width="1.1"/>
<path d="M323.86,116.77 L328.16,116.77 L326.01,120.86 Z" fill="#fff" stroke="#3b528b" stroke-width="1.1"/>
<path d="M342.73,113.87 L347.03,113.87 L344.88,117.96 Z" fill="#fff" stroke="#3b528b" stroke-width="1.1"/>
<path d="M361.61,110.77 L365.91,110.77 L363.76,114.86 Z" fill="#fff" stroke="#3b528b" stroke-width="1.1"/>
<path d="M380.49,106.67 L384.79,106.67 L382.64,110.76 Z" fill="#fff" stroke="#3b528b" stroke-width="1.1"/>
<path d="M399.36,101.77 L403.66,101.77 L401.51,105.86 Z" fill="#fff" stroke="#3b528b" stroke-width="1.1"/>
<path d="M418.24,95.37 L422.54,95.37 L420.39,99.46 Z" fill="#fff" stroke="#3b528b" stroke-width="1.1"/>
<path d="M437.11,87.77 L441.41,87.77 L439.26,91.86 Z" fill="#fff" stroke="#3b528b" stroke-width="1.1"/>
<path d="M455.99,79.27 L460.29,79.27 L458.14,83.36 Z" fill="#fff" stroke="#3b528b" stroke-width="1.1"/>
<path d="M267.23,125.47 L271.53,125.47 L269.38,129.56 Z" fill="#fff" stroke="#440154" stroke-width="1.1"/>
<path d="M286.11,124.47 L290.41,124.47 L288.26,128.56 Z" fill="#fff" stroke="#440154" stroke-width="1.1"/>
<path d="M304.98,122.67 L309.28,122.67 L307.13,126.76 Z" fill="#fff" stroke="#440154" stroke-width="1.1"/>
<path d="M323.86,120.67 L328.16,120.67 L326.01,124.76 Z" fill="#fff" stroke="#440154" stroke-width="1.1"/>
<path d="M342.73,118.07 L347.03,118.07 L344.88,122.16 Z" fill="#fff" stroke="#440154" stroke-width="1.1"/>
<path d="M361.61,115.67 L365.91,115.67 L363.76,119.76 Z" fill="#fff" stroke="#440154" stroke-width="1.1"/>
<path d="M380.49,112.77 L384.79,112.77 L382.64,116.86 Z" fill="#fff" stroke="#440154" stroke-width="1.1"/>
<path d="M399.36,109.17 L403.66,109.17 L401.51,113.26 Z" fill="#fff" stroke="#440154" stroke-width="1.1"/>
<path d="M418.24,104.37 L422.54,104.37 L420.39,108.46 Z" fill="#fff" stroke="#440154" stroke-width="1.1"/>
<path d="M437.11,98.57 L441.41,98.57 L439.26,102.66 Z" fill="#fff" stroke="#440154" stroke-width="1.1"/>
<path d="M455.99,92.37 L460.29,92.37 L458.14,96.46 Z" fill="#fff" stroke="#440154" stroke-width="1.1"/>
</g>
<path d="M269.38,24.35 H274.88 M458.14,24.35 H452.64 M269.38,61.50 H274.88 M458.14,61.50 H452.64 M269.38,98.65 H274.88 M458.14,98.65 H452.64 M307.13,17.30 V22.80 M307.13,132.80 V127.30 M344.88,17.30 V22.80 M344.88,132.80 V127.30 M382.64,17.30 V22.80 M382.64,132.80 V127.30 M420.39,17.30 V22.80 M420.39,132.80 V127.30 " stroke="#000" stroke-width="1.25" fill="none"/>
<text x="264.18" y="29.15" text-anchor="end" class="tk">0.6</text>
<text x="264.18" y="66.30" text-anchor="end" class="tk">0.4</text>
<text x="264.18" y="103.45" text-anchor="end" class="tk">0.2</text>
<text x="277.68" y="31.00" class="lt">e</text>
<clipPath id="c22"><rect x="269.38" y="134.10" width="188.76" height="117.10"/></clipPath>
<g clip-path="url(#c22)">
<path d="M269.38,231.10 C272.53,230.52 281.96,228.83 288.26,227.60 C294.55,226.37 300.84,225.15 307.13,223.70 C313.42,222.25 319.72,220.82 326.01,218.90 C332.30,216.98 338.59,214.93 344.88,212.20 C351.18,209.47 357.47,205.90 363.76,202.50 C370.05,199.10 376.34,195.77 382.64,191.80 C388.93,187.83 395.22,183.12 401.51,178.70 C407.80,174.28 414.10,169.65 420.39,165.30 C426.68,160.95 432.97,156.63 439.26,152.60 C445.56,148.57 454.99,143.02 458.14,141.10" fill="none" stroke="#fde725" stroke-width="1.35"/>
<path d="M269.38,234.50 C272.53,234.20 281.96,233.50 288.26,232.70 C294.55,231.90 300.84,230.85 307.13,229.70 C313.42,228.55 319.72,227.38 326.01,225.80 C332.30,224.22 338.59,222.17 344.88,220.20 C351.18,218.23 357.47,216.30 363.76,214.00 C370.05,211.70 376.34,209.43 382.64,206.40 C388.93,203.37 395.22,199.50 401.51,195.80 C407.80,192.10 414.10,188.13 420.39,184.20 C426.68,180.27 432.97,176.12 439.26,172.20 C445.56,168.28 454.99,162.62 458.14,160.70" fill="none" stroke="#5ec962" stroke-width="1.35"/>
<path d="M269.38,238.00 C272.53,237.82 281.96,237.48 288.26,236.90 C294.55,236.32 300.84,235.47 307.13,234.50 C313.42,233.53 319.72,232.32 326.01,231.10 C332.30,229.88 338.59,228.70 344.88,227.20 C351.18,225.70 357.47,223.88 363.76,222.10 C370.05,220.32 376.34,218.73 382.64,216.50 C388.93,214.27 395.22,211.47 401.51,208.70 C407.80,205.93 414.10,203.10 420.39,199.90 C426.68,196.70 432.97,192.95 439.26,189.50 C445.56,186.05 454.99,180.92 458.14,179.20" fill="none" stroke="#21918c" stroke-width="1.35"/>
<path d="M269.38,240.80 C272.53,240.60 281.96,240.07 288.26,239.60 C294.55,239.13 300.84,238.65 307.13,238.00 C313.42,237.35 319.72,236.58 326.01,235.70 C332.30,234.82 338.59,233.85 344.88,232.70 C351.18,231.55 357.47,230.10 363.76,228.80 C370.05,227.50 376.34,226.45 382.64,224.90 C388.93,223.35 395.22,221.47 401.51,219.50 C407.80,217.53 414.10,215.52 420.39,213.10 C426.68,210.68 432.97,207.97 439.26,205.00 C445.56,202.03 454.99,196.92 458.14,195.30" fill="none" stroke="#3b528b" stroke-width="1.35"/>
<path d="M269.38,244.20 C272.53,244.02 281.96,243.55 288.26,243.10 C294.55,242.65 300.84,242.08 307.13,241.50 C313.42,240.92 319.72,240.30 326.01,239.60 C332.30,238.90 338.59,238.25 344.88,237.30 C351.18,236.35 357.47,234.93 363.76,233.90 C370.05,232.87 376.34,232.22 382.64,231.10 C388.93,229.98 395.22,228.67 401.51,227.20 C407.80,225.73 414.10,224.08 420.39,222.30 C426.68,220.52 432.97,218.77 439.26,216.50 C445.56,214.23 454.99,210.00 458.14,208.70" fill="none" stroke="#440154" stroke-width="1.35"/>
<path d="M267.23,232.93 L271.53,232.93 L269.38,228.84 Z" fill="#fff" stroke="#fde725" stroke-width="1.1"/>
<path d="M286.11,229.43 L290.41,229.43 L288.26,225.34 Z" fill="#fff" stroke="#fde725" stroke-width="1.1"/>
<path d="M304.98,225.53 L309.28,225.53 L307.13,221.44 Z" fill="#fff" stroke="#fde725" stroke-width="1.1"/>
<path d="M323.86,220.73 L328.16,220.73 L326.01,216.64 Z" fill="#fff" stroke="#fde725" stroke-width="1.1"/>
<path d="M342.73,214.03 L347.03,214.03 L344.88,209.94 Z" fill="#fff" stroke="#fde725" stroke-width="1.1"/>
<path d="M361.61,204.33 L365.91,204.33 L363.76,200.24 Z" fill="#fff" stroke="#fde725" stroke-width="1.1"/>
<path d="M380.49,193.63 L384.79,193.63 L382.64,189.54 Z" fill="#fff" stroke="#fde725" stroke-width="1.1"/>
<path d="M399.36,180.53 L403.66,180.53 L401.51,176.44 Z" fill="#fff" stroke="#fde725" stroke-width="1.1"/>
<path d="M418.24,167.13 L422.54,167.13 L420.39,163.04 Z" fill="#fff" stroke="#fde725" stroke-width="1.1"/>
<path d="M437.11,154.43 L441.41,154.43 L439.26,150.34 Z" fill="#fff" stroke="#fde725" stroke-width="1.1"/>
<path d="M455.99,142.93 L460.29,142.93 L458.14,138.84 Z" fill="#fff" stroke="#fde725" stroke-width="1.1"/>
<path d="M267.23,236.33 L271.53,236.33 L269.38,232.24 Z" fill="#fff" stroke="#5ec962" stroke-width="1.1"/>
<path d="M286.11,234.53 L290.41,234.53 L288.26,230.44 Z" fill="#fff" stroke="#5ec962" stroke-width="1.1"/>
<path d="M304.98,231.53 L309.28,231.53 L307.13,227.44 Z" fill="#fff" stroke="#5ec962" stroke-width="1.1"/>
<path d="M323.86,227.63 L328.16,227.63 L326.01,223.54 Z" fill="#fff" stroke="#5ec962" stroke-width="1.1"/>
<path d="M342.73,222.03 L347.03,222.03 L344.88,217.94 Z" fill="#fff" stroke="#5ec962" stroke-width="1.1"/>
<path d="M361.61,215.83 L365.91,215.83 L363.76,211.74 Z" fill="#fff" stroke="#5ec962" stroke-width="1.1"/>
<path d="M380.49,208.23 L384.79,208.23 L382.64,204.14 Z" fill="#fff" stroke="#5ec962" stroke-width="1.1"/>
<path d="M399.36,197.63 L403.66,197.63 L401.51,193.54 Z" fill="#fff" stroke="#5ec962" stroke-width="1.1"/>
<path d="M418.24,186.03 L422.54,186.03 L420.39,181.94 Z" fill="#fff" stroke="#5ec962" stroke-width="1.1"/>
<path d="M437.11,174.03 L441.41,174.03 L439.26,169.94 Z" fill="#fff" stroke="#5ec962" stroke-width="1.1"/>
<path d="M455.99,162.53 L460.29,162.53 L458.14,158.44 Z" fill="#fff" stroke="#5ec962" stroke-width="1.1"/>
<path d="M267.23,239.83 L271.53,239.83 L269.38,235.74 Z" fill="#fff" stroke="#21918c" stroke-width="1.1"/>
<path d="M286.11,238.73 L290.41,238.73 L288.26,234.64 Z" fill="#fff" stroke="#21918c" stroke-width="1.1"/>
<path d="M304.98,236.33 L309.28,236.33 L307.13,232.24 Z" fill="#fff" stroke="#21918c" stroke-width="1.1"/>
<path d="M323.86,232.93 L328.16,232.93 L326.01,228.84 Z" fill="#fff" stroke="#21918c" stroke-width="1.1"/>
<path d="M342.73,229.03 L347.03,229.03 L344.88,224.94 Z" fill="#fff" stroke="#21918c" stroke-width="1.1"/>
<path d="M361.61,223.93 L365.91,223.93 L363.76,219.84 Z" fill="#fff" stroke="#21918c" stroke-width="1.1"/>
<path d="M380.49,218.33 L384.79,218.33 L382.64,214.24 Z" fill="#fff" stroke="#21918c" stroke-width="1.1"/>
<path d="M399.36,210.53 L403.66,210.53 L401.51,206.44 Z" fill="#fff" stroke="#21918c" stroke-width="1.1"/>
<path d="M418.24,201.73 L422.54,201.73 L420.39,197.64 Z" fill="#fff" stroke="#21918c" stroke-width="1.1"/>
<path d="M437.11,191.33 L441.41,191.33 L439.26,187.24 Z" fill="#fff" stroke="#21918c" stroke-width="1.1"/>
<path d="M455.99,181.03 L460.29,181.03 L458.14,176.94 Z" fill="#fff" stroke="#21918c" stroke-width="1.1"/>
<path d="M267.23,242.63 L271.53,242.63 L269.38,238.54 Z" fill="#fff" stroke="#3b528b" stroke-width="1.1"/>
<path d="M286.11,241.43 L290.41,241.43 L288.26,237.34 Z" fill="#fff" stroke="#3b528b" stroke-width="1.1"/>
<path d="M304.98,239.83 L309.28,239.83 L307.13,235.74 Z" fill="#fff" stroke="#3b528b" stroke-width="1.1"/>
<path d="M323.86,237.53 L328.16,237.53 L326.01,233.44 Z" fill="#fff" stroke="#3b528b" stroke-width="1.1"/>
<path d="M342.73,234.53 L347.03,234.53 L344.88,230.44 Z" fill="#fff" stroke="#3b528b" stroke-width="1.1"/>
<path d="M361.61,230.63 L365.91,230.63 L363.76,226.54 Z" fill="#fff" stroke="#3b528b" stroke-width="1.1"/>
<path d="M380.49,226.73 L384.79,226.73 L382.64,222.64 Z" fill="#fff" stroke="#3b528b" stroke-width="1.1"/>
<path d="M399.36,221.33 L403.66,221.33 L401.51,217.24 Z" fill="#fff" stroke="#3b528b" stroke-width="1.1"/>
<path d="M418.24,214.93 L422.54,214.93 L420.39,210.84 Z" fill="#fff" stroke="#3b528b" stroke-width="1.1"/>
<path d="M437.11,206.83 L441.41,206.83 L439.26,202.74 Z" fill="#fff" stroke="#3b528b" stroke-width="1.1"/>
<path d="M455.99,197.13 L460.29,197.13 L458.14,193.04 Z" fill="#fff" stroke="#3b528b" stroke-width="1.1"/>
<path d="M267.23,246.03 L271.53,246.03 L269.38,241.94 Z" fill="#fff" stroke="#440154" stroke-width="1.1"/>
<path d="M286.11,244.93 L290.41,244.93 L288.26,240.84 Z" fill="#fff" stroke="#440154" stroke-width="1.1"/>
<path d="M304.98,243.33 L309.28,243.33 L307.13,239.24 Z" fill="#fff" stroke="#440154" stroke-width="1.1"/>
<path d="M323.86,241.43 L328.16,241.43 L326.01,237.34 Z" fill="#fff" stroke="#440154" stroke-width="1.1"/>
<path d="M342.73,239.13 L347.03,239.13 L344.88,235.04 Z" fill="#fff" stroke="#440154" stroke-width="1.1"/>
<path d="M361.61,235.73 L365.91,235.73 L363.76,231.64 Z" fill="#fff" stroke="#440154" stroke-width="1.1"/>
<path d="M380.49,232.93 L384.79,232.93 L382.64,228.84 Z" fill="#fff" stroke="#440154" stroke-width="1.1"/>
<path d="M399.36,229.03 L403.66,229.03 L401.51,224.94 Z" fill="#fff" stroke="#440154" stroke-width="1.1"/>
<path d="M418.24,224.13 L422.54,224.13 L420.39,220.04 Z" fill="#fff" stroke="#440154" stroke-width="1.1"/>
<path d="M437.11,218.33 L441.41,218.33 L439.26,214.24 Z" fill="#fff" stroke="#440154" stroke-width="1.1"/>
<path d="M455.99,210.53 L460.29,210.53 L458.14,206.44 Z" fill="#fff" stroke="#440154" stroke-width="1.1"/>
</g>
<path d="M269.38,149.40 H274.88 M458.14,149.40 H452.64 M269.38,183.95 H274.88 M458.14,183.95 H452.64 M269.38,218.50 H274.88 M458.14,218.50 H452.64 M307.13,135.10 V140.60 M307.13,250.20 V244.70 M344.88,135.10 V140.60 M344.88,250.20 V244.70 M382.64,135.10 V140.60 M382.64,250.20 V244.70 M420.39,135.10 V140.60 M420.39,250.20 V244.70 " stroke="#000" stroke-width="1.25" fill="none"/>
<text x="264.18" y="154.20" text-anchor="end" class="tk">0.6</text>
<text x="264.18" y="188.75" text-anchor="end" class="tk">0.4</text>
<text x="264.18" y="223.30" text-anchor="end" class="tk">0.2</text>
<text x="277.98" y="148.30" class="lt">f</text>
<clipPath id="c23"><rect x="269.38" y="251.60" width="188.76" height="117.20"/></clipPath>
<g clip-path="url(#c23)">
<path d="M269.38,346.90 C272.53,346.50 281.96,345.45 288.26,344.50 C294.55,343.55 300.84,342.53 307.13,341.20 C313.42,339.87 319.72,338.43 326.01,336.50 C332.30,334.57 338.59,332.20 344.88,329.60 C351.18,327.00 357.47,323.87 363.76,320.90 C370.05,317.93 376.34,315.08 382.64,311.80 C388.93,308.52 395.22,304.65 401.51,301.20 C407.80,297.75 414.10,294.72 420.39,291.10 C426.68,287.48 432.97,283.27 439.26,279.50 C445.56,275.73 454.99,270.33 458.14,268.50" fill="none" stroke="#fde725" stroke-width="1.35"/>
<path d="M269.38,350.90 C272.53,350.55 281.96,349.53 288.26,348.80 C294.55,348.07 300.84,347.50 307.13,346.50 C313.42,345.50 319.72,344.18 326.01,342.80 C332.30,341.42 338.59,340.17 344.88,338.20 C351.18,336.23 357.47,333.38 363.76,331.00 C370.05,328.62 376.34,326.43 382.64,323.90 C388.93,321.37 395.22,318.70 401.51,315.80 C407.80,312.90 414.10,309.77 420.39,306.50 C426.68,303.23 432.97,299.65 439.26,296.20 C445.56,292.75 454.99,287.53 458.14,285.80" fill="none" stroke="#5ec962" stroke-width="1.35"/>
<path d="M269.38,354.30 C272.53,354.03 281.96,353.35 288.26,352.70 C294.55,352.05 300.84,351.28 307.13,350.40 C313.42,349.52 319.72,348.55 326.01,347.40 C332.30,346.25 338.59,345.00 344.88,343.50 C351.18,342.00 357.47,340.13 363.76,338.40 C370.05,336.67 376.34,335.07 382.64,333.10 C388.93,331.13 395.22,328.92 401.51,326.60 C407.80,324.28 414.10,321.77 420.39,319.20 C426.68,316.63 432.97,313.88 439.26,311.20 C445.56,308.52 454.99,304.45 458.14,303.10" fill="none" stroke="#21918c" stroke-width="1.35"/>
<path d="M269.38,357.30 C272.53,357.12 281.96,356.70 288.26,356.20 C294.55,355.70 300.84,355.00 307.13,354.30 C313.42,353.60 319.72,352.92 326.01,352.00 C332.30,351.08 338.59,350.03 344.88,348.80 C351.18,347.57 357.47,345.87 363.76,344.60 C370.05,343.33 376.34,342.55 382.64,341.20 C388.93,339.85 395.22,338.23 401.51,336.50 C407.80,334.77 414.10,332.83 420.39,330.80 C426.68,328.77 432.97,326.53 439.26,324.30 C445.56,322.07 454.99,318.55 458.14,317.40" fill="none" stroke="#3b528b" stroke-width="1.35"/>
<path d="M269.38,361.20 C272.53,361.02 281.96,360.55 288.26,360.10 C294.55,359.65 300.84,359.08 307.13,358.50 C313.42,357.92 319.72,357.37 326.01,356.60 C332.30,355.83 338.59,354.90 344.88,353.90 C351.18,352.90 357.47,351.57 363.76,350.60 C370.05,349.63 376.34,349.10 382.64,348.10 C388.93,347.10 395.22,345.95 401.51,344.60 C407.80,343.25 414.10,341.53 420.39,340.00 C426.68,338.47 432.97,337.13 439.26,335.40 C445.56,333.67 454.99,330.57 458.14,329.60" fill="none" stroke="#440154" stroke-width="1.35"/>
<path d="M269.38,346.80 V349.40 M267.38,346.80 H271.38 M267.38,349.40 H271.38" fill="none" stroke="#fde725" stroke-width="1.1"/>
<rect x="267.33" y="346.05" width="4.10" height="4.10" fill="#fff" stroke="#fde725" stroke-width="1.1"/>
<path d="M288.26,345.55 V348.25 M286.26,345.55 H290.26 M286.26,348.25 H290.26" fill="none" stroke="#fde725" stroke-width="1.1"/>
<rect x="286.21" y="344.85" width="4.10" height="4.10" fill="#fff" stroke="#fde725" stroke-width="1.1"/>
<path d="M307.13,335.41 V338.99 M305.13,335.41 H309.13 M305.13,338.99 H309.13" fill="none" stroke="#fde725" stroke-width="1.1"/>
<rect x="305.08" y="335.15" width="4.10" height="4.10" fill="#fff" stroke="#fde725" stroke-width="1.1"/>
<path d="M326.01,330.60 V334.60 M324.01,330.60 H328.01 M324.01,334.60 H328.01" fill="none" stroke="#fde725" stroke-width="1.1"/>
<rect x="323.96" y="330.55" width="4.10" height="4.10" fill="#fff" stroke="#fde725" stroke-width="1.1"/>
<path d="M344.88,323.18 V327.82 M342.88,323.18 H346.88 M342.88,327.82 H346.88" fill="none" stroke="#fde725" stroke-width="1.1"/>
<rect x="342.83" y="323.45" width="4.10" height="4.10" fill="#fff" stroke="#fde725" stroke-width="1.1"/>
<path d="M363.76,311.79 V317.41 M361.76,311.79 H365.76 M361.76,317.41 H365.76" fill="none" stroke="#fde725" stroke-width="1.1"/>
<rect x="361.71" y="312.55" width="4.10" height="4.10" fill="#fff" stroke="#fde725" stroke-width="1.1"/>
<path d="M382.64,301.66 V308.14 M380.64,301.66 H384.64 M380.64,308.14 H384.64" fill="none" stroke="#fde725" stroke-width="1.1"/>
<rect x="380.59" y="302.85" width="4.10" height="4.10" fill="#fff" stroke="#fde725" stroke-width="1.1"/>
<path d="M401.51,290.58 V298.02 M399.51,290.58 H403.51 M399.51,298.02 H403.51" fill="none" stroke="#fde725" stroke-width="1.1"/>
<rect x="399.46" y="292.25" width="4.10" height="4.10" fill="#fff" stroke="#fde725" stroke-width="1.1"/>
<path d="M420.39,282.85 V290.95 M418.39,282.85 H422.39 M418.39,290.95 H422.39" fill="none" stroke="#fde725" stroke-width="1.1"/>
<rect x="418.34" y="284.85" width="4.10" height="4.10" fill="#fff" stroke="#fde725" stroke-width="1.1"/>
<path d="M439.26,267.17 V276.63 M437.26,267.17 H441.26 M437.26,276.63 H441.26" fill="none" stroke="#fde725" stroke-width="1.1"/>
<rect x="437.21" y="269.85" width="4.10" height="4.10" fill="#fff" stroke="#fde725" stroke-width="1.1"/>
<path d="M458.14,256.30 V266.70 M456.14,256.30 H460.14 M456.14,266.70 H460.14" fill="none" stroke="#fde725" stroke-width="1.1"/>
<rect x="456.09" y="259.45" width="4.10" height="4.10" fill="#fff" stroke="#fde725" stroke-width="1.1"/>

<rect x="267.33" y="349.45" width="4.10" height="4.10" fill="#fff" stroke="#5ec962" stroke-width="1.1"/>

<rect x="286.21" y="349.45" width="4.10" height="4.10" fill="#fff" stroke="#5ec962" stroke-width="1.1"/>
<path d="M307.13,343.67 V346.53 M305.13,343.67 H309.13 M305.13,346.53 H309.13" fill="none" stroke="#5ec962" stroke-width="1.1"/>
<rect x="305.08" y="343.05" width="4.10" height="4.10" fill="#fff" stroke="#5ec962" stroke-width="1.1"/>
<path d="M326.01,335.41 V338.99 M324.01,335.41 H328.01 M324.01,338.99 H328.01" fill="none" stroke="#5ec962" stroke-width="1.1"/>
<rect x="323.96" y="335.15" width="4.10" height="4.10" fill="#fff" stroke="#5ec962" stroke-width="1.1"/>
<path d="M344.88,331.13 V335.07 M342.88,331.13 H346.88 M342.88,335.07 H346.88" fill="none" stroke="#5ec962" stroke-width="1.1"/>
<rect x="342.83" y="331.05" width="4.10" height="4.10" fill="#fff" stroke="#5ec962" stroke-width="1.1"/>
<path d="M363.76,323.92 V328.48 M361.76,323.92 H365.76 M361.76,328.48 H365.76" fill="none" stroke="#5ec962" stroke-width="1.1"/>
<rect x="361.71" y="324.15" width="4.10" height="4.10" fill="#fff" stroke="#5ec962" stroke-width="1.1"/>
<path d="M382.64,317.33 V322.47 M380.64,317.33 H384.64 M380.64,322.47 H384.64" fill="none" stroke="#5ec962" stroke-width="1.1"/>
<rect x="380.59" y="317.85" width="4.10" height="4.10" fill="#fff" stroke="#5ec962" stroke-width="1.1"/>
<path d="M401.51,306.99 V313.01 M399.51,306.99 H403.51 M399.51,313.01 H403.51" fill="none" stroke="#5ec962" stroke-width="1.1"/>
<rect x="399.46" y="307.95" width="4.10" height="4.10" fill="#fff" stroke="#5ec962" stroke-width="1.1"/>
<path d="M420.39,300.19 V306.81 M418.39,300.19 H422.39 M418.39,306.81 H422.39" fill="none" stroke="#5ec962" stroke-width="1.1"/>
<rect x="418.34" y="301.45" width="4.10" height="4.10" fill="#fff" stroke="#5ec962" stroke-width="1.1"/>
<path d="M439.26,289.64 V297.16 M437.26,289.64 H441.26 M437.26,297.16 H441.26" fill="none" stroke="#5ec962" stroke-width="1.1"/>
<rect x="437.21" y="291.35" width="4.10" height="4.10" fill="#fff" stroke="#5ec962" stroke-width="1.1"/>
<path d="M458.14,280.44 V288.76 M456.14,280.44 H460.14 M456.14,288.76 H460.14" fill="none" stroke="#5ec962" stroke-width="1.1"/>
<rect x="456.09" y="282.55" width="4.10" height="4.10" fill="#fff" stroke="#5ec962" stroke-width="1.1"/>

<rect x="267.33" y="352.95" width="4.10" height="4.10" fill="#fff" stroke="#21918c" stroke-width="1.1"/>

<rect x="286.21" y="352.95" width="4.10" height="4.10" fill="#fff" stroke="#21918c" stroke-width="1.1"/>
<path d="M307.13,347.53 V350.07 M305.13,347.53 H309.13 M305.13,350.07 H309.13" fill="none" stroke="#21918c" stroke-width="1.1"/>
<rect x="305.08" y="346.75" width="4.10" height="4.10" fill="#fff" stroke="#21918c" stroke-width="1.1"/>
<path d="M326.01,345.13 V347.87 M324.01,345.13 H328.01 M324.01,347.87 H328.01" fill="none" stroke="#21918c" stroke-width="1.1"/>
<rect x="323.96" y="344.45" width="4.10" height="4.10" fill="#fff" stroke="#21918c" stroke-width="1.1"/>
<path d="M344.88,340.32 V343.48 M342.88,340.32 H346.88 M342.88,343.48 H346.88" fill="none" stroke="#21918c" stroke-width="1.1"/>
<rect x="342.83" y="339.85" width="4.10" height="4.10" fill="#fff" stroke="#21918c" stroke-width="1.1"/>
<path d="M363.76,334.68 V338.32 M361.76,334.68 H365.76 M361.76,338.32 H365.76" fill="none" stroke="#21918c" stroke-width="1.1"/>
<rect x="361.71" y="334.45" width="4.10" height="4.10" fill="#fff" stroke="#21918c" stroke-width="1.1"/>
<path d="M382.64,327.47 V331.73 M380.64,327.47 H384.64 M380.64,331.73 H384.64" fill="none" stroke="#21918c" stroke-width="1.1"/>
<rect x="380.59" y="327.55" width="4.10" height="4.10" fill="#fff" stroke="#21918c" stroke-width="1.1"/>
<path d="M401.51,318.59 V323.61 M399.51,318.59 H403.51 M399.51,323.61 H403.51" fill="none" stroke="#21918c" stroke-width="1.1"/>
<rect x="399.46" y="319.05" width="4.10" height="4.10" fill="#fff" stroke="#21918c" stroke-width="1.1"/>
<path d="M420.39,312.32 V317.88 M418.39,312.32 H422.39 M418.39,317.88 H422.39" fill="none" stroke="#21918c" stroke-width="1.1"/>
<rect x="418.34" y="313.05" width="4.10" height="4.10" fill="#fff" stroke="#21918c" stroke-width="1.1"/>
<path d="M439.26,304.58 V310.82 M437.26,304.58 H441.26 M437.26,310.82 H441.26" fill="none" stroke="#21918c" stroke-width="1.1"/>
<rect x="437.21" y="305.65" width="4.10" height="4.10" fill="#fff" stroke="#21918c" stroke-width="1.1"/>
<path d="M458.14,294.97 V302.03 M456.14,294.97 H460.14 M456.14,302.03 H460.14" fill="none" stroke="#21918c" stroke-width="1.1"/>
<rect x="456.09" y="296.45" width="4.10" height="4.10" fill="#fff" stroke="#21918c" stroke-width="1.1"/>

<rect x="267.33" y="355.95" width="4.10" height="4.10" fill="#fff" stroke="#3b528b" stroke-width="1.1"/>

<rect x="286.21" y="354.15" width="4.10" height="4.10" fill="#fff" stroke="#3b528b" stroke-width="1.1"/>

<rect x="305.08" y="352.95" width="4.10" height="4.10" fill="#fff" stroke="#3b528b" stroke-width="1.1"/>
<path d="M326.01,345.55 V348.25 M324.01,345.55 H328.01 M324.01,348.25 H328.01" fill="none" stroke="#3b528b" stroke-width="1.1"/>
<rect x="323.96" y="344.85" width="4.10" height="4.10" fill="#fff" stroke="#3b528b" stroke-width="1.1"/>
<path d="M344.88,346.80 V349.40 M342.88,346.80 H346.88 M342.88,349.40 H346.88" fill="none" stroke="#3b528b" stroke-width="1.1"/>
<rect x="342.83" y="346.05" width="4.10" height="4.10" fill="#fff" stroke="#3b528b" stroke-width="1.1"/>
<path d="M363.76,340.74 V343.86 M361.76,340.74 H365.76 M361.76,343.86 H365.76" fill="none" stroke="#3b528b" stroke-width="1.1"/>
<rect x="361.71" y="340.25" width="4.10" height="4.10" fill="#fff" stroke="#3b528b" stroke-width="1.1"/>
<path d="M382.64,340.32 V343.48 M380.64,340.32 H384.64 M380.64,343.48 H384.64" fill="none" stroke="#3b528b" stroke-width="1.1"/>
<rect x="380.59" y="339.85" width="4.10" height="4.10" fill="#fff" stroke="#3b528b" stroke-width="1.1"/>
<path d="M401.51,334.68 V338.32 M399.51,334.68 H403.51 M399.51,338.32 H403.51" fill="none" stroke="#3b528b" stroke-width="1.1"/>
<rect x="399.46" y="334.45" width="4.10" height="4.10" fill="#fff" stroke="#3b528b" stroke-width="1.1"/>
<path d="M420.39,325.06 V329.54 M418.39,325.06 H422.39 M418.39,329.54 H422.39" fill="none" stroke="#3b528b" stroke-width="1.1"/>
<rect x="418.34" y="325.25" width="4.10" height="4.10" fill="#fff" stroke="#3b528b" stroke-width="1.1"/>
<path d="M439.26,321.93 V326.67 M437.26,321.93 H441.26 M437.26,326.67 H441.26" fill="none" stroke="#3b528b" stroke-width="1.1"/>
<rect x="437.21" y="322.25" width="4.10" height="4.10" fill="#fff" stroke="#3b528b" stroke-width="1.1"/>
<path d="M458.14,318.59 V323.61 M456.14,318.59 H460.14 M456.14,323.61 H460.14" fill="none" stroke="#3b528b" stroke-width="1.1"/>
<rect x="456.09" y="319.05" width="4.10" height="4.10" fill="#fff" stroke="#3b528b" stroke-width="1.1"/>

<rect x="267.33" y="360.35" width="4.10" height="4.10" fill="#fff" stroke="#440154" stroke-width="1.1"/>

<rect x="286.21" y="356.85" width="4.10" height="4.10" fill="#fff" stroke="#440154" stroke-width="1.1"/>

<rect x="305.08" y="354.15" width="4.10" height="4.10" fill="#fff" stroke="#440154" stroke-width="1.1"/>

<rect x="323.96" y="352.95" width="4.10" height="4.10" fill="#fff" stroke="#440154" stroke-width="1.1"/>

<rect x="342.83" y="349.45" width="4.10" height="4.10" fill="#fff" stroke="#440154" stroke-width="1.1"/>
<path d="M363.76,348.47 V350.93 M361.76,348.47 H365.76 M361.76,350.93 H365.76" fill="none" stroke="#440154" stroke-width="1.1"/>
<rect x="361.71" y="347.65" width="4.10" height="4.10" fill="#fff" stroke="#440154" stroke-width="1.1"/>
<path d="M382.64,343.14 V346.06 M380.64,343.14 H384.64 M380.64,346.06 H384.64" fill="none" stroke="#440154" stroke-width="1.1"/>
<rect x="380.59" y="342.55" width="4.10" height="4.10" fill="#fff" stroke="#440154" stroke-width="1.1"/>
<path d="M401.51,341.47 V344.53 M399.51,341.47 H403.51 M399.51,344.53 H403.51" fill="none" stroke="#440154" stroke-width="1.1"/>
<rect x="399.46" y="340.95" width="4.10" height="4.10" fill="#fff" stroke="#440154" stroke-width="1.1"/>
<path d="M420.39,335.41 V338.99 M418.39,335.41 H422.39 M418.39,338.99 H422.39" fill="none" stroke="#440154" stroke-width="1.1"/>
<rect x="418.34" y="335.15" width="4.10" height="4.10" fill="#fff" stroke="#440154" stroke-width="1.1"/>
<path d="M439.26,330.39 V334.41 M437.26,330.39 H441.26 M437.26,334.41 H441.26" fill="none" stroke="#440154" stroke-width="1.1"/>
<rect x="437.21" y="330.35" width="4.10" height="4.10" fill="#fff" stroke="#440154" stroke-width="1.1"/>
<path d="M458.14,329.87 V333.93 M456.14,329.87 H460.14 M456.14,333.93 H460.14" fill="none" stroke="#440154" stroke-width="1.1"/>
<rect x="456.09" y="329.85" width="4.10" height="4.10" fill="#fff" stroke="#440154" stroke-width="1.1"/>
</g>
<path d="M269.38,262.30 H274.88 M458.14,262.30 H452.64 M269.38,298.30 H274.88 M458.14,298.30 H452.64 M269.38,334.30 H274.88 M458.14,334.30 H452.64 M307.13,252.60 V258.10 M307.13,367.80 V362.30 M344.88,252.60 V258.10 M344.88,367.80 V362.30 M382.64,252.60 V258.10 M382.64,367.80 V362.30 M420.39,252.60 V258.10 M420.39,367.80 V362.30 " stroke="#000" stroke-width="1.25" fill="none"/>
<text x="264.18" y="267.10" text-anchor="end" class="tk">0.6</text>
<text x="264.18" y="303.10" text-anchor="end" class="tk">0.4</text>
<text x="264.18" y="339.10" text-anchor="end" class="tk">0.2</text>
<text x="276.78" y="266.40" class="lt">g</text>
<clipPath id="c24"><rect x="269.38" y="369.30" width="188.76" height="117.20"/></clipPath>
<g clip-path="url(#c24)">
<path d="M269.38,467.00 C270.01,466.37 270.01,463.53 273.16,463.20 C276.30,462.87 282.59,464.48 288.26,465.00 C293.92,465.52 300.84,465.85 307.13,466.30 C313.42,466.75 319.72,467.35 326.01,467.70 C332.30,468.05 338.59,468.43 344.88,468.40 C351.18,468.37 357.47,468.27 363.76,467.50 C370.05,466.73 376.34,465.97 382.64,463.80 C388.93,461.63 395.22,458.93 401.51,454.50 C407.80,450.07 414.10,443.92 420.39,437.20 C426.68,430.48 432.97,422.47 439.26,414.20 C445.56,405.93 454.99,392.03 458.14,387.60" fill="none" stroke="#fde725" stroke-width="1.35"/>
<path d="M269.38,470.00 C270.01,469.47 270.01,467.07 273.16,466.80 C276.30,466.53 282.59,467.92 288.26,468.40 C293.92,468.88 300.84,469.28 307.13,469.70 C313.42,470.12 319.72,470.62 326.01,470.90 C332.30,471.18 338.59,471.43 344.88,471.40 C351.18,471.37 357.47,471.32 363.76,470.70 C370.05,470.08 376.34,469.23 382.64,467.70 C388.93,466.17 395.22,464.65 401.51,461.50 C407.80,458.35 414.10,454.38 420.39,448.80 C426.68,443.22 432.97,435.70 439.26,428.00 C445.56,420.30 454.99,406.83 458.14,402.60" fill="none" stroke="#5ec962" stroke-width="1.35"/>
<path d="M269.38,473.50 C270.01,473.03 270.01,470.95 273.16,470.70 C276.30,470.45 282.59,471.62 288.26,472.00 C293.92,472.38 300.84,472.68 307.13,473.00 C313.42,473.32 319.72,473.70 326.01,473.90 C332.30,474.10 338.59,474.30 344.88,474.20 C351.18,474.10 357.47,473.77 363.76,473.30 C370.05,472.83 376.34,472.42 382.64,471.40 C388.93,470.38 395.22,469.62 401.51,467.20 C407.80,464.78 414.10,461.70 420.39,456.90 C426.68,452.10 432.97,444.95 439.26,438.40 C445.56,431.85 454.99,421.07 458.14,417.60" fill="none" stroke="#21918c" stroke-width="1.35"/>
<path d="M269.38,477.00 C270.01,476.55 270.01,474.58 273.16,474.30 C276.30,474.02 282.59,475.02 288.26,475.30 C293.92,475.58 300.84,475.77 307.13,476.00 C313.42,476.23 319.72,476.55 326.01,476.70 C332.30,476.85 338.59,477.03 344.88,476.90 C351.18,476.77 357.47,476.35 363.76,475.90 C370.05,475.45 376.34,474.98 382.64,474.20 C388.93,473.42 395.22,472.93 401.51,471.20 C407.80,469.47 414.10,467.35 420.39,463.80 C426.68,460.25 432.97,454.90 439.26,449.90 C445.56,444.90 454.99,436.48 458.14,433.80" fill="none" stroke="#3b528b" stroke-width="1.35"/>
<path d="M269.38,481.50 C270.01,480.87 270.01,478.27 273.16,477.70 C276.30,477.13 282.59,477.95 288.26,478.10 C293.92,478.25 300.84,478.42 307.13,478.60 C313.42,478.78 319.72,479.05 326.01,479.20 C332.30,479.35 338.59,479.55 344.88,479.50 C351.18,479.45 357.47,479.13 363.76,478.90 C370.05,478.67 376.34,478.58 382.64,478.10 C388.93,477.62 395.22,477.23 401.51,476.00 C407.80,474.77 414.10,473.12 420.39,470.70 C426.68,468.28 432.97,465.35 439.26,461.50 C445.56,457.65 454.99,449.92 458.14,447.60" fill="none" stroke="#440154" stroke-width="1.35"/>
<path d="M269.38,461.79 V465.21 M267.38,461.79 H271.38 M267.38,465.21 H271.38" fill="none" stroke="#fde725" stroke-width="1.1"/>
<path d="M269.38,460.80 L272.08,463.50 L269.38,466.20 L266.68,463.50 Z" fill="#fff" stroke="#fde725" stroke-width="1.1"/>
<path d="M288.26,462.85 V466.15 M286.26,462.85 H290.26 M286.26,466.15 H290.26" fill="none" stroke="#fde725" stroke-width="1.1"/>
<path d="M288.26,461.80 L290.96,464.50 L288.26,467.20 L285.56,464.50 Z" fill="#fff" stroke="#fde725" stroke-width="1.1"/>
<path d="M307.13,457.96 V461.84 M305.13,457.96 H309.13 M305.13,461.84 H309.13" fill="none" stroke="#fde725" stroke-width="1.1"/>
<path d="M307.13,457.20 L309.83,459.90 L307.13,462.60 L304.43,459.90 Z" fill="#fff" stroke="#fde725" stroke-width="1.1"/>
<path d="M326.01,455.95 V460.05 M324.01,455.95 H328.01 M324.01,460.05 H328.01" fill="none" stroke="#fde725" stroke-width="1.1"/>
<path d="M326.01,455.30 L328.71,458.00 L326.01,460.70 L323.31,458.00 Z" fill="#fff" stroke="#fde725" stroke-width="1.1"/>
<path d="M344.88,454.78 V459.02 M342.88,454.78 H346.88 M342.88,459.02 H346.88" fill="none" stroke="#fde725" stroke-width="1.1"/>
<path d="M344.88,454.20 L347.58,456.90 L344.88,459.60 L342.18,456.90 Z" fill="#fff" stroke="#fde725" stroke-width="1.1"/>
<path d="M363.76,446.60 V451.80 M361.76,446.60 H365.76 M361.76,451.80 H365.76" fill="none" stroke="#fde725" stroke-width="1.1"/>
<path d="M363.76,446.50 L366.46,449.20 L363.76,451.90 L361.06,449.20 Z" fill="#fff" stroke="#fde725" stroke-width="1.1"/>
<path d="M382.64,439.27 V445.33 M380.64,439.27 H384.64 M380.64,445.33 H384.64" fill="none" stroke="#fde725" stroke-width="1.1"/>
<path d="M382.64,439.60 L385.34,442.30 L382.64,445.00 L379.94,442.30 Z" fill="#fff" stroke="#fde725" stroke-width="1.1"/>
<path d="M401.51,428.97 V436.23 M399.51,428.97 H403.51 M399.51,436.23 H403.51" fill="none" stroke="#fde725" stroke-width="1.1"/>
<path d="M401.51,429.90 L404.21,432.60 L401.51,435.30 L398.81,432.60 Z" fill="#fff" stroke="#fde725" stroke-width="1.1"/>
<path d="M420.39,413.78 V422.82 M418.39,413.78 H422.39 M418.39,422.82 H422.39" fill="none" stroke="#fde725" stroke-width="1.1"/>
<path d="M420.39,415.60 L423.09,418.30 L420.39,421.00 L417.69,418.30 Z" fill="#fff" stroke="#fde725" stroke-width="1.1"/>
<path d="M439.26,388.51 V400.49 M437.26,388.51 H441.26 M437.26,400.49 H441.26" fill="none" stroke="#fde725" stroke-width="1.1"/>
<path d="M439.26,391.80 L441.96,394.50 L439.26,397.20 L436.56,394.50 Z" fill="#fff" stroke="#fde725" stroke-width="1.1"/>
<path d="M458.14,375.02 V388.58 M456.14,375.02 H460.14 M456.14,388.58 H460.14" fill="none" stroke="#fde725" stroke-width="1.1"/>
<path d="M458.14,379.10 L460.84,381.80 L458.14,384.50 L455.44,381.80 Z" fill="#fff" stroke="#fde725" stroke-width="1.1"/>
<path d="M269.38,465.72 V468.68 M267.38,465.72 H271.38 M267.38,468.68 H271.38" fill="none" stroke="#5ec962" stroke-width="1.1"/>
<path d="M269.38,464.50 L272.08,467.20 L269.38,469.90 L266.68,467.20 Z" fill="#fff" stroke="#5ec962" stroke-width="1.1"/>
<path d="M288.26,466.99 V469.81 M286.26,466.99 H290.26 M286.26,469.81 H290.26" fill="none" stroke="#5ec962" stroke-width="1.1"/>
<path d="M288.26,465.70 L290.96,468.40 L288.26,471.10 L285.56,468.40 Z" fill="#fff" stroke="#5ec962" stroke-width="1.1"/>
<path d="M307.13,464.55 V467.65 M305.13,464.55 H309.13 M305.13,467.65 H309.13" fill="none" stroke="#5ec962" stroke-width="1.1"/>
<path d="M307.13,463.40 L309.83,466.10 L307.13,468.80 L304.43,466.10 Z" fill="#fff" stroke="#5ec962" stroke-width="1.1"/>
<path d="M326.01,461.57 V465.03 M324.01,461.57 H328.01 M324.01,465.03 H328.01" fill="none" stroke="#5ec962" stroke-width="1.1"/>
<path d="M326.01,460.60 L328.71,463.30 L326.01,466.00 L323.31,463.30 Z" fill="#fff" stroke="#5ec962" stroke-width="1.1"/>
<path d="M344.88,459.66 V463.34 M342.88,459.66 H346.88 M342.88,463.34 H346.88" fill="none" stroke="#5ec962" stroke-width="1.1"/>
<path d="M344.88,458.80 L347.58,461.50 L344.88,464.20 L342.18,461.50 Z" fill="#fff" stroke="#5ec962" stroke-width="1.1"/>
<path d="M363.76,455.95 V460.05 M361.76,455.95 H365.76 M361.76,460.05 H365.76" fill="none" stroke="#5ec962" stroke-width="1.1"/>
<path d="M363.76,455.30 L366.46,458.00 L363.76,460.70 L361.06,458.00 Z" fill="#fff" stroke="#5ec962" stroke-width="1.1"/>
<path d="M382.64,452.76 V457.24 M380.64,452.76 H384.64 M380.64,457.24 H384.64" fill="none" stroke="#5ec962" stroke-width="1.1"/>
<path d="M382.64,452.30 L385.34,455.00 L382.64,457.70 L379.94,455.00 Z" fill="#fff" stroke="#5ec962" stroke-width="1.1"/>
<path d="M401.51,440.02 V445.98 M399.51,440.02 H403.51 M399.51,445.98 H403.51" fill="none" stroke="#5ec962" stroke-width="1.1"/>
<path d="M401.51,440.30 L404.21,443.00 L401.51,445.70 L398.81,443.00 Z" fill="#fff" stroke="#5ec962" stroke-width="1.1"/>
<path d="M420.39,428.55 V435.85 M418.39,428.55 H422.39 M418.39,435.85 H422.39" fill="none" stroke="#5ec962" stroke-width="1.1"/>
<path d="M420.39,429.50 L423.09,432.20 L420.39,434.90 L417.69,432.20 Z" fill="#fff" stroke="#5ec962" stroke-width="1.1"/>
<path d="M439.26,411.87 V421.13 M437.26,411.87 H441.26 M437.26,421.13 H441.26" fill="none" stroke="#5ec962" stroke-width="1.1"/>
<path d="M439.26,413.80 L441.96,416.50 L439.26,419.20 L436.56,416.50 Z" fill="#fff" stroke="#5ec962" stroke-width="1.1"/>
<path d="M458.14,395.94 V407.06 M456.14,395.94 H460.14 M456.14,407.06 H460.14" fill="none" stroke="#5ec962" stroke-width="1.1"/>
<path d="M458.14,398.80 L460.84,401.50 L458.14,404.20 L455.44,401.50 Z" fill="#fff" stroke="#5ec962" stroke-width="1.1"/>
<path d="M269.38,469.43 V471.97 M267.38,469.43 H271.38 M267.38,471.97 H271.38" fill="none" stroke="#21918c" stroke-width="1.1"/>
<path d="M269.38,468.00 L272.08,470.70 L269.38,473.40 L266.68,470.70 Z" fill="#fff" stroke="#21918c" stroke-width="1.1"/>
<path d="M288.26,469.43 V471.97 M286.26,469.43 H290.26 M286.26,471.97 H290.26" fill="none" stroke="#21918c" stroke-width="1.1"/>
<path d="M288.26,468.00 L290.96,470.70 L288.26,473.40 L285.56,470.70 Z" fill="#fff" stroke="#21918c" stroke-width="1.1"/>
<path d="M307.13,466.25 V469.15 M305.13,466.25 H309.13 M305.13,469.15 H309.13" fill="none" stroke="#21918c" stroke-width="1.1"/>
<path d="M307.13,465.00 L309.83,467.70 L307.13,470.40 L304.43,467.70 Z" fill="#fff" stroke="#21918c" stroke-width="1.1"/>
<path d="M326.01,467.52 V470.28 M324.01,467.52 H328.01 M324.01,470.28 H328.01" fill="none" stroke="#21918c" stroke-width="1.1"/>
<path d="M326.01,466.20 L328.71,468.90 L326.01,471.60 L323.31,468.90 Z" fill="#fff" stroke="#21918c" stroke-width="1.1"/>
<path d="M344.88,465.72 V468.68 M342.88,465.72 H346.88 M342.88,468.68 H346.88" fill="none" stroke="#21918c" stroke-width="1.1"/>
<path d="M344.88,464.50 L347.58,467.20 L344.88,469.90 L342.18,467.20 Z" fill="#fff" stroke="#21918c" stroke-width="1.1"/>
<path d="M363.76,462.11 V465.50 M361.76,462.11 H365.76 M361.76,465.50 H365.76" fill="none" stroke="#21918c" stroke-width="1.1"/>
<path d="M363.76,461.10 L366.46,463.80 L363.76,466.50 L361.06,463.80 Z" fill="#fff" stroke="#21918c" stroke-width="1.1"/>
<path d="M382.64,459.13 V462.87 M380.64,459.13 H384.64 M380.64,462.87 H384.64" fill="none" stroke="#21918c" stroke-width="1.1"/>
<path d="M382.64,458.30 L385.34,461.00 L382.64,463.70 L379.94,461.00 Z" fill="#fff" stroke="#21918c" stroke-width="1.1"/>
<path d="M401.51,452.23 V456.77 M399.51,452.23 H403.51 M399.51,456.77 H403.51" fill="none" stroke="#21918c" stroke-width="1.1"/>
<path d="M401.51,451.80 L404.21,454.50 L401.51,457.20 L398.81,454.50 Z" fill="#fff" stroke="#21918c" stroke-width="1.1"/>
<path d="M420.39,441.71 V447.49 M418.39,441.71 H422.39 M418.39,447.49 H422.39" fill="none" stroke="#21918c" stroke-width="1.1"/>
<path d="M420.39,441.90 L423.09,444.60 L420.39,447.30 L417.69,444.60 Z" fill="#fff" stroke="#21918c" stroke-width="1.1"/>
<path d="M439.26,427.80 V435.20 M437.26,427.80 H441.26 M437.26,435.20 H441.26" fill="none" stroke="#21918c" stroke-width="1.1"/>
<path d="M439.26,428.80 L441.96,431.50 L439.26,434.20 L436.56,431.50 Z" fill="#fff" stroke="#21918c" stroke-width="1.1"/>
<path d="M458.14,415.48 V424.32 M456.14,415.48 H460.14 M456.14,424.32 H460.14" fill="none" stroke="#21918c" stroke-width="1.1"/>
<path d="M458.14,417.20 L460.84,419.90 L458.14,422.60 L455.44,419.90 Z" fill="#fff" stroke="#21918c" stroke-width="1.1"/>

<path d="M269.38,470.80 L272.08,473.50 L269.38,476.20 L266.68,473.50 Z" fill="#fff" stroke="#3b528b" stroke-width="1.1"/>

<path d="M288.26,470.30 L290.96,473.00 L288.26,475.70 L285.56,473.00 Z" fill="#fff" stroke="#3b528b" stroke-width="1.1"/>

<path d="M307.13,471.50 L309.83,474.20 L307.13,476.90 L304.43,474.20 Z" fill="#fff" stroke="#3b528b" stroke-width="1.1"/>
<path d="M326.01,468.16 V470.84 M324.01,468.16 H328.01 M324.01,470.84 H328.01" fill="none" stroke="#3b528b" stroke-width="1.1"/>
<path d="M326.01,466.80 L328.71,469.50 L326.01,472.20 L323.31,469.50 Z" fill="#fff" stroke="#3b528b" stroke-width="1.1"/>
<path d="M344.88,470.18 V472.62 M342.88,470.18 H346.88 M342.88,472.62 H346.88" fill="none" stroke="#3b528b" stroke-width="1.1"/>
<path d="M344.88,468.70 L347.58,471.40 L344.88,474.10 L342.18,471.40 Z" fill="#fff" stroke="#3b528b" stroke-width="1.1"/>
<path d="M363.76,467.73 V470.47 M361.76,467.73 H365.76 M361.76,470.47 H365.76" fill="none" stroke="#3b528b" stroke-width="1.1"/>
<path d="M363.76,466.40 L366.46,469.10 L363.76,471.80 L361.06,469.10 Z" fill="#fff" stroke="#3b528b" stroke-width="1.1"/>
<path d="M382.64,466.99 V469.81 M380.64,466.99 H384.64 M380.64,469.81 H384.64" fill="none" stroke="#3b528b" stroke-width="1.1"/>
<path d="M382.64,465.70 L385.34,468.40 L382.64,471.10 L379.94,468.40 Z" fill="#fff" stroke="#3b528b" stroke-width="1.1"/>
<path d="M401.51,461.57 V465.03 M399.51,461.57 H403.51 M399.51,465.03 H403.51" fill="none" stroke="#3b528b" stroke-width="1.1"/>
<path d="M401.51,460.60 L404.21,463.30 L401.51,466.00 L398.81,463.30 Z" fill="#fff" stroke="#3b528b" stroke-width="1.1"/>
<path d="M420.39,452.23 V456.77 M418.39,452.23 H422.39 M418.39,456.77 H422.39" fill="none" stroke="#3b528b" stroke-width="1.1"/>
<path d="M420.39,451.80 L423.09,454.50 L420.39,457.20 L417.69,454.50 Z" fill="#fff" stroke="#3b528b" stroke-width="1.1"/>
<path d="M439.26,443.20 V448.80 M437.26,443.20 H441.26 M437.26,448.80 H441.26" fill="none" stroke="#3b528b" stroke-width="1.1"/>
<path d="M439.26,443.30 L441.96,446.00 L439.26,448.70 L436.56,446.00 Z" fill="#fff" stroke="#3b528b" stroke-width="1.1"/>
<path d="M458.14,432.69 V439.51 M456.14,432.69 H460.14 M456.14,439.51 H460.14" fill="none" stroke="#3b528b" stroke-width="1.1"/>
<path d="M458.14,433.40 L460.84,436.10 L458.14,438.80 L455.44,436.10 Z" fill="#fff" stroke="#3b528b" stroke-width="1.1"/>

<path d="M269.38,474.90 L272.08,477.60 L269.38,480.30 L266.68,477.60 Z" fill="#fff" stroke="#440154" stroke-width="1.1"/>

<path d="M288.26,473.30 L290.96,476.00 L288.26,478.70 L285.56,476.00 Z" fill="#fff" stroke="#440154" stroke-width="1.1"/>

<path d="M307.13,472.60 L309.83,475.30 L307.13,478.00 L304.43,475.30 Z" fill="#fff" stroke="#440154" stroke-width="1.1"/>

<path d="M326.01,472.20 L328.71,474.90 L326.01,477.60 L323.31,474.90 Z" fill="#fff" stroke="#440154" stroke-width="1.1"/>

<path d="M344.88,472.60 L347.58,475.30 L344.88,478.00 L342.18,475.30 Z" fill="#fff" stroke="#440154" stroke-width="1.1"/>

<path d="M363.76,471.50 L366.46,474.20 L363.76,476.90 L361.06,474.20 Z" fill="#fff" stroke="#440154" stroke-width="1.1"/>
<path d="M382.64,469.43 V471.97 M380.64,469.43 H384.64 M380.64,471.97 H384.64" fill="none" stroke="#440154" stroke-width="1.1"/>
<path d="M382.64,468.00 L385.34,470.70 L382.64,473.40 L379.94,470.70 Z" fill="#fff" stroke="#440154" stroke-width="1.1"/>
<path d="M401.51,466.99 V469.81 M399.51,466.99 H403.51 M399.51,469.81 H403.51" fill="none" stroke="#440154" stroke-width="1.1"/>
<path d="M401.51,465.70 L404.21,468.40 L401.51,471.10 L398.81,468.40 Z" fill="#fff" stroke="#440154" stroke-width="1.1"/>
<path d="M420.39,460.83 V464.37 M418.39,460.83 H422.39 M418.39,464.37 H422.39" fill="none" stroke="#440154" stroke-width="1.1"/>
<path d="M420.39,459.90 L423.09,462.60 L420.39,465.30 L417.69,462.60 Z" fill="#fff" stroke="#440154" stroke-width="1.1"/>
<path d="M439.26,452.23 V456.77 M437.26,452.23 H441.26 M437.26,456.77 H441.26" fill="none" stroke="#440154" stroke-width="1.1"/>
<path d="M439.26,451.80 L441.96,454.50 L439.26,457.20 L436.56,454.50 Z" fill="#fff" stroke="#440154" stroke-width="1.1"/>
<path d="M458.14,446.18 V451.43 M456.14,446.18 H460.14 M456.14,451.43 H460.14" fill="none" stroke="#440154" stroke-width="1.1"/>
<path d="M458.14,446.10 L460.84,448.80 L458.14,451.50 L455.44,448.80 Z" fill="#fff" stroke="#440154" stroke-width="1.1"/>
</g>
<path d="M269.38,378.60 H274.88 M458.14,378.60 H452.64 M269.38,414.50 H274.88 M458.14,414.50 H452.64 M269.38,450.40 H274.88 M458.14,450.40 H452.64 M307.13,370.30 V375.80 M307.13,485.50 V480.00 M344.88,370.30 V375.80 M344.88,485.50 V480.00 M382.64,370.30 V375.80 M382.64,485.50 V480.00 M420.39,370.30 V375.80 M420.39,485.50 V480.00 " stroke="#000" stroke-width="1.25" fill="none"/>
<text x="264.18" y="383.40" text-anchor="end" class="tk">0.6</text>
<text x="264.18" y="419.30" text-anchor="end" class="tk">0.4</text>
<text x="264.18" y="455.20" text-anchor="end" class="tk">0.2</text>
<text x="274.78" y="383.80" class="lt">h</text>
<clipPath id="c31"><rect x="488.39" y="16.30" width="188.68" height="117.00"/></clipPath>
<g clip-path="url(#c31)">
<path d="M488.60,111.20 C490.43,110.82 495.87,109.70 499.60,108.90 C503.33,108.10 507.28,107.33 511.00,106.40 C514.72,105.47 518.12,104.48 521.90,103.30 C525.68,102.12 531.08,100.37 533.70,99.30 C536.32,98.23 536.95,97.30 537.60,96.90" fill="none" stroke="#fde725" stroke-width="1.35"/>
<path d="M582.50,72.40 C585.93,69.95 596.60,62.07 603.10,57.70 C609.60,53.33 615.35,49.67 621.50,46.20 C627.65,42.73 633.83,39.60 640.00,36.90 C646.17,34.20 652.30,31.95 658.50,30.00 C664.70,28.05 674.08,26.00 677.20,25.20" fill="none" stroke="#fde725" stroke-width="1.35"/>
<path d="M488.60,115.40 C490.07,115.15 494.33,114.43 497.40,113.90 C500.47,113.37 503.80,112.80 507.00,112.20 C510.20,111.60 513.38,111.02 516.60,110.30 C519.82,109.58 524.32,108.48 526.30,107.90 C528.28,107.32 528.13,106.98 528.50,106.80" fill="none" stroke="#5ec962" stroke-width="1.35"/>
<path d="M605.40,76.20 C608.08,74.77 615.73,70.77 621.50,67.60 C627.27,64.43 633.83,60.20 640.00,57.20 C646.17,54.20 652.30,51.72 658.50,49.60 C664.70,47.48 674.08,45.35 677.20,44.50" fill="none" stroke="#5ec962" stroke-width="1.35"/>
<path d="M488.60,118.20 C489.97,118.03 494.07,117.53 496.80,117.20 C499.53,116.87 502.32,116.57 505.00,116.20 C507.68,115.83 510.43,115.45 512.90,115.00 C515.37,114.55 518.65,113.75 519.80,113.50" fill="none" stroke="#21918c" stroke-width="1.35"/>
<path d="M621.50,81.90 C624.58,80.37 633.83,75.32 640.00,72.70 C646.17,70.08 652.30,67.93 658.50,66.20 C664.70,64.47 674.08,62.95 677.20,62.30" fill="none" stroke="#21918c" stroke-width="1.35"/>
<path d="M488.60,120.50 C489.67,120.45 492.77,120.32 495.00,120.20 C497.23,120.08 499.58,120.00 502.00,119.80 C504.42,119.60 507.75,119.22 509.50,119.00 C511.25,118.78 512.00,118.58 512.50,118.50" fill="none" stroke="#3b528b" stroke-width="1.35"/>
<path d="M635.40,88.80 C637.70,87.97 644.58,85.25 649.20,83.80 C653.82,82.35 658.43,81.25 663.10,80.10 C667.77,78.95 674.85,77.43 677.20,76.90" fill="none" stroke="#3b528b" stroke-width="1.35"/>
<path d="M488.60,123.70 C489.83,123.68 493.52,123.62 496.00,123.60 C498.48,123.58 501.83,123.70 503.50,123.60 C505.17,123.50 505.58,123.10 506.00,123.00" fill="none" stroke="#440154" stroke-width="1.35"/>
<path d="M645.80,96.90 C647.92,96.33 653.27,94.65 658.50,93.50 C663.73,92.35 674.08,90.58 677.20,90.00" fill="none" stroke="#440154" stroke-width="1.35"/>
<path d="M496.80,127.60 C499.38,125.72 507.23,119.93 512.30,116.30 C517.37,112.67 522.83,109.15 527.20,105.80 C531.57,102.45 534.98,99.33 538.50,96.20 C542.02,93.07 545.13,89.62 548.30,87.00 C551.47,84.38 554.03,82.45 557.50,80.50 C560.97,78.55 565.63,76.55 569.10,75.30 C572.57,74.05 575.48,73.45 578.30,73.00 C581.12,72.55 583.80,72.62 586.00,72.60 C588.20,72.58 588.65,72.45 591.50,72.90 C594.35,73.35 599.25,74.18 603.10,75.30 C606.95,76.42 610.75,77.92 614.60,79.60 C618.45,81.28 622.35,83.28 626.20,85.40 C630.05,87.52 633.87,89.88 637.70,92.30 C641.53,94.72 645.73,97.47 649.20,99.90 C652.67,102.33 656.95,105.73 658.50,106.90" fill="none" stroke="#000" stroke-width="1.35"/>
<path d="M497.75,107.83 L501.45,107.83 L499.60,111.34 Z" fill="#fff" stroke="#fde725" stroke-width="1.1"/>
<path d="M509.15,105.43 L512.85,105.43 L511.00,108.94 Z" fill="#fff" stroke="#fde725" stroke-width="1.1"/>
<path d="M520.05,102.43 L523.75,102.43 L521.90,105.94 Z" fill="#fff" stroke="#fde725" stroke-width="1.1"/>
<path d="M531.85,98.43 L535.55,98.43 L533.70,101.94 Z" fill="#fff" stroke="#fde725" stroke-width="1.1"/>
<path d="M580.45,76.23 L584.15,76.23 L582.30,79.74 Z" fill="#fff" stroke="#fde725" stroke-width="1.1"/>
<path d="M599.65,64.23 L603.35,64.23 L601.50,67.74 Z" fill="#fff" stroke="#fde725" stroke-width="1.1"/>
<path d="M618.55,52.23 L622.25,52.23 L620.40,55.74 Z" fill="#fff" stroke="#fde725" stroke-width="1.1"/>
<path d="M637.45,41.13 L641.15,41.13 L639.30,44.64 Z" fill="#fff" stroke="#fde725" stroke-width="1.1"/>
<path d="M656.15,31.93 L659.85,31.93 L658.00,35.44 Z" fill="#fff" stroke="#fde725" stroke-width="1.1"/>
<path d="M674.65,23.13 L678.35,23.13 L676.50,26.64 Z" fill="#fff" stroke="#fde725" stroke-width="1.1"/>
<path d="M495.55,112.23 L499.25,112.23 L497.40,115.74 Z" fill="#fff" stroke="#5ec962" stroke-width="1.1"/>
<path d="M505.15,110.93 L508.85,110.93 L507.00,114.44 Z" fill="#fff" stroke="#5ec962" stroke-width="1.1"/>
<path d="M514.75,109.23 L518.45,109.23 L516.60,112.74 Z" fill="#fff" stroke="#5ec962" stroke-width="1.1"/>
<path d="M524.45,107.03 L528.15,107.03 L526.30,110.54 Z" fill="#fff" stroke="#5ec962" stroke-width="1.1"/>
<path d="M606.95,75.23 L610.65,75.23 L608.80,78.74 Z" fill="#fff" stroke="#5ec962" stroke-width="1.1"/>
<path d="M620.15,68.33 L623.85,68.33 L622.00,71.84 Z" fill="#fff" stroke="#5ec962" stroke-width="1.1"/>
<path d="M633.55,60.73 L637.25,60.73 L635.40,64.24 Z" fill="#fff" stroke="#5ec962" stroke-width="1.1"/>
<path d="M646.65,54.93 L650.35,54.93 L648.50,58.44 Z" fill="#fff" stroke="#5ec962" stroke-width="1.1"/>
<path d="M660.05,48.53 L663.75,48.53 L661.90,52.04 Z" fill="#fff" stroke="#5ec962" stroke-width="1.1"/>
<path d="M674.65,44.63 L678.35,44.63 L676.50,48.14 Z" fill="#fff" stroke="#5ec962" stroke-width="1.1"/>
<path d="M487.15,116.43 L490.85,116.43 L489.00,119.94 Z" fill="#fff" stroke="#21918c" stroke-width="1.1"/>
<path d="M494.95,115.73 L498.65,115.73 L496.80,119.24 Z" fill="#fff" stroke="#21918c" stroke-width="1.1"/>
<path d="M503.15,114.63 L506.85,114.63 L505.00,118.14 Z" fill="#fff" stroke="#21918c" stroke-width="1.1"/>
<path d="M511.05,114.43 L514.75,114.43 L512.90,117.94 Z" fill="#fff" stroke="#21918c" stroke-width="1.1"/>
<path d="M517.75,113.03 L521.45,113.03 L519.60,116.54 Z" fill="#fff" stroke="#21918c" stroke-width="1.1"/>
<path d="M627.75,80.33 L631.45,80.33 L629.60,83.84 Z" fill="#fff" stroke="#21918c" stroke-width="1.1"/>
<path d="M637.65,75.23 L641.35,75.23 L639.50,78.74 Z" fill="#fff" stroke="#21918c" stroke-width="1.1"/>
<path d="M646.95,71.13 L650.65,71.13 L648.80,74.64 Z" fill="#fff" stroke="#21918c" stroke-width="1.1"/>
<path d="M656.15,67.63 L659.85,67.63 L658.00,71.14 Z" fill="#fff" stroke="#21918c" stroke-width="1.1"/>
<path d="M665.85,63.03 L669.55,63.03 L667.70,66.54 Z" fill="#fff" stroke="#21918c" stroke-width="1.1"/>
<path d="M674.65,60.73 L678.35,60.73 L676.50,64.24 Z" fill="#fff" stroke="#21918c" stroke-width="1.1"/>
<path d="M487.15,118.93 L490.85,118.93 L489.00,122.44 Z" fill="#fff" stroke="#3b528b" stroke-width="1.1"/>
<path d="M493.65,119.03 L497.35,119.03 L495.50,122.54 Z" fill="#fff" stroke="#3b528b" stroke-width="1.1"/>
<path d="M500.65,118.63 L504.35,118.63 L502.50,122.14 Z" fill="#fff" stroke="#3b528b" stroke-width="1.1"/>
<path d="M509.55,118.23 L513.25,118.23 L511.40,121.74 Z" fill="#fff" stroke="#3b528b" stroke-width="1.1"/>
<path d="M637.65,88.43 L641.35,88.43 L639.50,91.94 Z" fill="#fff" stroke="#3b528b" stroke-width="1.1"/>
<path d="M645.05,86.13 L648.75,86.13 L646.90,89.64 Z" fill="#fff" stroke="#3b528b" stroke-width="1.1"/>
<path d="M652.45,83.33 L656.15,83.33 L654.30,86.84 Z" fill="#fff" stroke="#3b528b" stroke-width="1.1"/>
<path d="M660.05,80.83 L663.75,80.83 L661.90,84.34 Z" fill="#fff" stroke="#3b528b" stroke-width="1.1"/>
<path d="M667.45,78.73 L671.15,78.73 L669.30,82.24 Z" fill="#fff" stroke="#3b528b" stroke-width="1.1"/>
<path d="M674.65,75.73 L678.35,75.73 L676.50,79.24 Z" fill="#fff" stroke="#3b528b" stroke-width="1.1"/>
<path d="M487.15,122.43 L490.85,122.43 L489.00,125.94 Z" fill="#fff" stroke="#440154" stroke-width="1.1"/>
<path d="M494.15,122.83 L497.85,122.83 L496.00,126.34 Z" fill="#fff" stroke="#440154" stroke-width="1.1"/>
<path d="M501.65,122.83 L505.35,122.83 L503.50,126.34 Z" fill="#fff" stroke="#440154" stroke-width="1.1"/>
<path d="M645.05,96.93 L648.75,96.93 L646.90,100.44 Z" fill="#fff" stroke="#440154" stroke-width="1.1"/>
<path d="M652.05,94.63 L655.75,94.63 L653.90,98.14 Z" fill="#fff" stroke="#440154" stroke-width="1.1"/>
<path d="M659.35,93.03 L663.05,93.03 L661.20,96.54 Z" fill="#fff" stroke="#440154" stroke-width="1.1"/>
<path d="M667.05,91.23 L670.75,91.23 L668.90,94.74 Z" fill="#fff" stroke="#440154" stroke-width="1.1"/>
<path d="M674.65,88.93 L678.35,88.93 L676.50,92.44 Z" fill="#fff" stroke="#440154" stroke-width="1.1"/>
</g>
<polygon points="557.50,78.15 558.12,79.75 559.83,79.84 558.50,80.92 558.94,82.58 557.50,81.65 556.06,82.58 556.50,80.92 555.17,79.84 556.88,79.75" fill="#000" stroke="#000" stroke-width="0.4"/>
<path d="M488.39,27.30 H493.89 M677.07,27.30 H671.57 M488.39,62.25 H493.89 M677.07,62.25 H671.57 M488.39,97.20 H493.89 M677.07,97.20 H671.57 M526.13,17.30 V22.80 M526.13,132.30 V126.80 M563.86,17.30 V22.80 M563.86,132.30 V126.80 M601.60,17.30 V22.80 M601.60,132.30 V126.80 M639.33,17.30 V22.80 M639.33,132.30 V126.80 " stroke="#000" stroke-width="1.25" fill="none"/>
<text x="483.19" y="32.10" text-anchor="end" class="tk">0.6</text>
<text x="483.19" y="67.05" text-anchor="end" class="tk">0.4</text>
<text x="483.19" y="102.00" text-anchor="end" class="tk">0.2</text>
<text x="497.29" y="30.70" class="lt">i</text>
<clipPath id="c32"><rect x="488.39" y="133.60" width="188.68" height="116.70"/></clipPath>
<g clip-path="url(#c32)">
<path d="M488.60,227.60 C490.47,227.22 496.08,226.20 499.80,225.30 C503.52,224.40 507.17,223.28 510.90,222.20 C514.63,221.12 518.35,220.07 522.20,218.80 C526.05,217.53 532.03,215.30 534.00,214.60" fill="none" stroke="#fde725" stroke-width="1.35"/>
<path d="M583.50,186.50 C586.77,184.32 596.77,177.40 603.10,173.40 C609.43,169.40 615.35,165.77 621.50,162.50 C627.65,159.23 633.83,156.48 640.00,153.80 C646.17,151.12 652.30,148.60 658.50,146.40 C664.70,144.20 674.08,141.57 677.20,140.60" fill="none" stroke="#fde725" stroke-width="1.35"/>
<path d="M488.60,232.20 C490.08,231.93 494.40,231.25 497.50,230.60 C500.60,229.95 504.00,229.07 507.20,228.30 C510.40,227.53 513.82,226.78 516.70,226.00 C519.58,225.22 523.20,224.00 524.50,223.60" fill="none" stroke="#5ec962" stroke-width="1.35"/>
<path d="M605.40,190.20 C608.08,188.67 615.73,184.27 621.50,181.00 C627.27,177.73 633.83,173.60 640.00,170.60 C646.17,167.60 652.30,164.85 658.50,163.00 C664.70,161.15 674.08,160.08 677.20,159.50" fill="none" stroke="#5ec962" stroke-width="1.35"/>
<path d="M488.60,235.20 C489.78,235.05 493.25,234.63 495.70,234.30 C498.15,233.97 500.77,233.58 503.30,233.20 C505.83,232.82 508.37,232.53 510.90,232.00 C513.43,231.47 517.23,230.33 518.50,230.00" fill="none" stroke="#21918c" stroke-width="1.35"/>
<path d="M621.50,196.50 C624.58,195.03 633.83,190.20 640.00,187.70 C646.17,185.20 652.30,183.23 658.50,181.50 C664.70,179.77 674.08,178.00 677.20,177.30" fill="none" stroke="#21918c" stroke-width="1.35"/>
<path d="M488.60,238.00 C489.70,237.93 492.75,237.82 495.20,237.60 C497.65,237.38 500.58,237.08 503.30,236.70 C506.02,236.32 510.13,235.53 511.50,235.30" fill="none" stroke="#3b528b" stroke-width="1.35"/>
<path d="M635.40,205.70 C637.70,204.93 644.58,202.45 649.20,201.10 C653.82,199.75 658.43,198.75 663.10,197.60 C667.77,196.45 674.85,194.77 677.20,194.20" fill="none" stroke="#3b528b" stroke-width="1.35"/>
<path d="M488.60,241.00 C489.78,240.97 493.25,240.97 495.70,240.80 C498.15,240.63 501.67,240.23 503.30,240.00 C504.93,239.77 505.13,239.50 505.50,239.40" fill="none" stroke="#440154" stroke-width="1.35"/>
<path d="M645.80,214.20 C647.92,213.67 653.27,212.15 658.50,211.00 C663.73,209.85 674.08,207.92 677.20,207.30" fill="none" stroke="#440154" stroke-width="1.35"/>
<path d="M496.60,245.00 C497.92,244.22 501.88,241.93 504.50,240.30 C507.12,238.67 509.88,236.75 512.30,235.20 C514.72,233.65 516.82,232.45 519.00,231.00 C521.18,229.55 523.57,227.92 525.40,226.50 C527.23,225.08 528.53,223.90 530.00,222.50 C531.47,221.10 532.53,219.88 534.20,218.10 C535.87,216.32 538.03,213.98 540.00,211.80 C541.97,209.62 544.08,207.13 546.00,205.00 C547.92,202.87 549.58,200.77 551.50,199.00 C553.42,197.23 554.57,196.05 557.50,194.40 C560.43,192.75 565.63,190.38 569.10,189.10 C572.57,187.82 575.82,187.17 578.30,186.70 C580.78,186.23 581.80,186.17 584.00,186.30 C586.20,186.43 588.32,186.77 591.50,187.50 C594.68,188.23 599.25,189.47 603.10,190.70 C606.95,191.93 610.75,193.28 614.60,194.90 C618.45,196.52 622.35,198.33 626.20,200.40 C630.05,202.47 633.87,204.88 637.70,207.30 C641.53,209.72 645.73,212.20 649.20,214.90 C652.67,217.60 656.95,222.07 658.50,223.50" fill="none" stroke="#000" stroke-width="1.35"/>
<path d="M487.15,229.07 L490.85,229.07 L489.00,225.56 Z" fill="#fff" stroke="#fde725" stroke-width="1.1"/>
<path d="M497.95,227.37 L501.65,227.37 L499.80,223.86 Z" fill="#fff" stroke="#fde725" stroke-width="1.1"/>
<path d="M509.05,224.07 L512.75,224.07 L510.90,220.56 Z" fill="#fff" stroke="#fde725" stroke-width="1.1"/>
<path d="M520.35,220.67 L524.05,220.67 L522.20,217.16 Z" fill="#fff" stroke="#fde725" stroke-width="1.1"/>
<path d="M531.45,216.47 L535.15,216.47 L533.30,212.96 Z" fill="#fff" stroke="#fde725" stroke-width="1.1"/>
<path d="M580.45,189.97 L584.15,189.97 L582.30,186.46 Z" fill="#fff" stroke="#fde725" stroke-width="1.1"/>
<path d="M599.65,177.97 L603.35,177.97 L601.50,174.46 Z" fill="#fff" stroke="#fde725" stroke-width="1.1"/>
<path d="M618.55,166.37 L622.25,166.37 L620.40,162.86 Z" fill="#fff" stroke="#fde725" stroke-width="1.1"/>
<path d="M637.45,156.47 L641.15,156.47 L639.30,152.96 Z" fill="#fff" stroke="#fde725" stroke-width="1.1"/>
<path d="M656.15,148.87 L659.85,148.87 L658.00,145.36 Z" fill="#fff" stroke="#fde725" stroke-width="1.1"/>
<path d="M674.65,142.67 L678.35,142.67 L676.50,139.16 Z" fill="#fff" stroke="#fde725" stroke-width="1.1"/>
<path d="M487.15,233.57 L490.85,233.57 L489.00,230.06 Z" fill="#fff" stroke="#5ec962" stroke-width="1.1"/>
<path d="M495.65,232.67 L499.35,232.67 L497.50,229.16 Z" fill="#fff" stroke="#5ec962" stroke-width="1.1"/>
<path d="M505.35,229.67 L509.05,229.67 L507.20,226.16 Z" fill="#fff" stroke="#5ec962" stroke-width="1.1"/>
<path d="M514.85,228.07 L518.55,228.07 L516.70,224.56 Z" fill="#fff" stroke="#5ec962" stroke-width="1.1"/>
<path d="M523.85,225.77 L527.55,225.77 L525.70,222.26 Z" fill="#fff" stroke="#5ec962" stroke-width="1.1"/>
<path d="M606.35,191.07 L610.05,191.07 L608.20,187.56 Z" fill="#fff" stroke="#5ec962" stroke-width="1.1"/>
<path d="M620.15,183.77 L623.85,183.77 L622.00,180.26 Z" fill="#fff" stroke="#5ec962" stroke-width="1.1"/>
<path d="M633.55,177.27 L637.25,177.27 L635.40,173.76 Z" fill="#fff" stroke="#5ec962" stroke-width="1.1"/>
<path d="M646.65,171.47 L650.35,171.47 L648.50,167.96 Z" fill="#fff" stroke="#5ec962" stroke-width="1.1"/>
<path d="M660.05,166.37 L663.75,166.37 L661.90,162.86 Z" fill="#fff" stroke="#5ec962" stroke-width="1.1"/>
<path d="M674.65,161.77 L678.35,161.77 L676.50,158.26 Z" fill="#fff" stroke="#5ec962" stroke-width="1.1"/>
<path d="M487.15,236.57 L490.85,236.57 L489.00,233.06 Z" fill="#fff" stroke="#21918c" stroke-width="1.1"/>
<path d="M493.85,236.07 L497.55,236.07 L495.70,232.56 Z" fill="#fff" stroke="#21918c" stroke-width="1.1"/>
<path d="M501.45,234.97 L505.15,234.97 L503.30,231.46 Z" fill="#fff" stroke="#21918c" stroke-width="1.1"/>
<path d="M509.05,233.77 L512.75,233.77 L510.90,230.26 Z" fill="#fff" stroke="#21918c" stroke-width="1.1"/>
<path d="M516.45,232.67 L520.15,232.67 L518.30,229.16 Z" fill="#fff" stroke="#21918c" stroke-width="1.1"/>
<path d="M627.75,196.87 L631.45,196.87 L629.60,193.36 Z" fill="#fff" stroke="#21918c" stroke-width="1.1"/>
<path d="M637.65,192.97 L641.35,192.97 L639.50,189.46 Z" fill="#fff" stroke="#21918c" stroke-width="1.1"/>
<path d="M646.95,189.27 L650.65,189.27 L648.80,185.76 Z" fill="#fff" stroke="#21918c" stroke-width="1.1"/>
<path d="M656.15,185.37 L659.85,185.37 L658.00,181.86 Z" fill="#fff" stroke="#21918c" stroke-width="1.1"/>
<path d="M665.85,182.57 L669.55,182.57 L667.70,179.06 Z" fill="#fff" stroke="#21918c" stroke-width="1.1"/>
<path d="M674.65,179.57 L678.35,179.57 L676.50,176.06 Z" fill="#fff" stroke="#21918c" stroke-width="1.1"/>
<path d="M487.15,239.57 L490.85,239.57 L489.00,236.06 Z" fill="#fff" stroke="#3b528b" stroke-width="1.1"/>
<path d="M493.35,239.57 L497.05,239.57 L495.20,236.06 Z" fill="#fff" stroke="#3b528b" stroke-width="1.1"/>
<path d="M501.45,238.47 L505.15,238.47 L503.30,234.96 Z" fill="#fff" stroke="#3b528b" stroke-width="1.1"/>
<path d="M509.05,237.27 L512.75,237.27 L510.90,233.76 Z" fill="#fff" stroke="#3b528b" stroke-width="1.1"/>
<path d="M637.65,207.27 L641.35,207.27 L639.50,203.76 Z" fill="#fff" stroke="#3b528b" stroke-width="1.1"/>
<path d="M645.05,204.27 L648.75,204.27 L646.90,200.76 Z" fill="#fff" stroke="#3b528b" stroke-width="1.1"/>
<path d="M652.45,202.17 L656.15,202.17 L654.30,198.66 Z" fill="#fff" stroke="#3b528b" stroke-width="1.1"/>
<path d="M660.05,199.87 L663.75,199.87 L661.90,196.36 Z" fill="#fff" stroke="#3b528b" stroke-width="1.1"/>
<path d="M667.45,198.07 L671.15,198.07 L669.30,194.56 Z" fill="#fff" stroke="#3b528b" stroke-width="1.1"/>
<path d="M674.65,196.47 L678.35,196.47 L676.50,192.96 Z" fill="#fff" stroke="#3b528b" stroke-width="1.1"/>
<path d="M487.15,242.57 L490.85,242.57 L489.00,239.06 Z" fill="#fff" stroke="#440154" stroke-width="1.1"/>
<path d="M493.85,242.57 L497.55,242.57 L495.70,239.06 Z" fill="#fff" stroke="#440154" stroke-width="1.1"/>
<path d="M501.45,241.87 L505.15,241.87 L503.30,238.36 Z" fill="#fff" stroke="#440154" stroke-width="1.1"/>
<path d="M645.05,215.77 L648.75,215.77 L646.90,212.26 Z" fill="#fff" stroke="#440154" stroke-width="1.1"/>
<path d="M652.05,214.17 L655.75,214.17 L653.90,210.66 Z" fill="#fff" stroke="#440154" stroke-width="1.1"/>
<path d="M659.35,212.57 L663.05,212.57 L661.20,209.06 Z" fill="#fff" stroke="#440154" stroke-width="1.1"/>
<path d="M667.05,211.37 L670.75,211.37 L668.90,207.86 Z" fill="#fff" stroke="#440154" stroke-width="1.1"/>
<path d="M674.65,209.57 L678.35,209.57 L676.50,206.06 Z" fill="#fff" stroke="#440154" stroke-width="1.1"/>
</g>
<polygon points="557.50,191.95 558.12,193.55 559.83,193.64 558.50,194.72 558.94,196.38 557.50,195.45 556.06,196.38 556.50,194.72 555.17,193.64 556.88,193.55" fill="#000" stroke="#000" stroke-width="0.4"/>
<path d="M488.39,148.70 H493.89 M677.07,148.70 H671.57 M488.39,182.65 H493.89 M677.07,182.65 H671.57 M488.39,216.60 H493.89 M677.07,216.60 H671.57 M526.13,134.60 V140.10 M526.13,249.30 V243.80 M563.86,134.60 V140.10 M563.86,249.30 V243.80 M601.60,134.60 V140.10 M601.60,249.30 V243.80 M639.33,134.60 V140.10 M639.33,249.30 V243.80 " stroke="#000" stroke-width="1.25" fill="none"/>
<text x="483.19" y="153.50" text-anchor="end" class="tk">0.6</text>
<text x="483.19" y="187.45" text-anchor="end" class="tk">0.4</text>
<text x="483.19" y="221.40" text-anchor="end" class="tk">0.2</text>
<text x="497.29" y="148.20" class="lt">j</text>
<clipPath id="c33"><rect x="488.39" y="250.60" width="188.68" height="116.90"/></clipPath>
<g clip-path="url(#c33)">
<path d="M488.60,344.60 C490.50,344.17 496.10,342.90 500.00,342.00 C503.90,341.10 508.00,340.23 512.00,339.20 C516.00,338.17 519.75,337.42 524.00,335.80 C528.25,334.18 535.25,330.55 537.50,329.50" fill="none" stroke="#fde725" stroke-width="1.35"/>
<path d="M583.80,306.00 C587.02,303.78 596.82,296.73 603.10,292.70 C609.38,288.67 615.35,285.00 621.50,281.80 C627.65,278.60 633.83,275.80 640.00,273.50 C646.17,271.20 652.30,269.42 658.50,268.00 C664.70,266.58 674.08,265.50 677.20,265.00" fill="none" stroke="#fde725" stroke-width="1.35"/>
<path d="M488.60,349.20 C490.17,348.93 494.77,348.17 498.00,347.60 C501.23,347.03 504.67,346.48 508.00,345.80 C511.33,345.12 514.83,344.38 518.00,343.50 C521.17,342.62 525.50,341.00 527.00,340.50" fill="none" stroke="#5ec962" stroke-width="1.35"/>
<path d="M604.20,310.00 C607.08,308.38 615.53,303.38 621.50,300.30 C627.47,297.22 633.83,293.92 640.00,291.50 C646.17,289.08 652.30,287.33 658.50,285.80 C664.70,284.27 674.08,282.88 677.20,282.30" fill="none" stroke="#5ec962" stroke-width="1.35"/>
<path d="M488.60,352.80 C489.83,352.63 493.43,352.18 496.00,351.80 C498.57,351.42 501.33,351.03 504.00,350.50 C506.67,349.97 509.50,349.35 512.00,348.60 C514.50,347.85 517.83,346.43 519.00,346.00" fill="none" stroke="#21918c" stroke-width="1.35"/>
<path d="M621.50,316.20 C624.58,314.78 633.83,310.08 640.00,307.70 C646.17,305.32 652.30,303.37 658.50,301.90 C664.70,300.43 674.08,299.40 677.20,298.90" fill="none" stroke="#21918c" stroke-width="1.35"/>
<path d="M488.60,356.30 C489.83,356.18 493.43,355.93 496.00,355.60 C498.57,355.27 501.33,354.77 504.00,354.30 C506.67,353.83 510.67,353.05 512.00,352.80" fill="none" stroke="#3b528b" stroke-width="1.35"/>
<path d="M635.40,324.30 C637.70,323.65 644.58,321.63 649.20,320.40 C653.82,319.17 658.43,317.93 663.10,316.90 C667.77,315.87 674.85,314.65 677.20,314.20" fill="none" stroke="#3b528b" stroke-width="1.35"/>
<path d="M488.60,359.50 C489.83,359.42 493.27,359.33 496.00,359.00 C498.73,358.67 503.50,357.75 505.00,357.50" fill="none" stroke="#440154" stroke-width="1.35"/>
<path d="M646.50,331.90 C648.50,331.52 653.38,330.63 658.50,329.60 C663.62,328.57 674.08,326.35 677.20,325.70" fill="none" stroke="#440154" stroke-width="1.35"/>
<path d="M497.10,361.60 C498.33,360.82 501.73,358.75 504.50,356.90 C507.27,355.05 510.63,352.73 513.70,350.50 C516.77,348.27 519.82,346.12 522.90,343.50 C525.98,340.88 529.12,337.62 532.20,334.80 C535.28,331.98 538.60,329.15 541.40,326.60 C544.20,324.05 546.32,321.80 549.00,319.50 C551.68,317.20 554.15,314.65 557.50,312.80 C560.85,310.95 565.63,309.48 569.10,308.40 C572.57,307.32 575.82,306.70 578.30,306.30 C580.78,305.90 581.80,305.90 584.00,306.00 C586.20,306.10 588.32,306.28 591.50,306.90 C594.68,307.52 599.25,308.48 603.10,309.70 C606.95,310.92 610.75,312.53 614.60,314.20 C618.45,315.87 622.35,317.63 626.20,319.70 C630.05,321.77 633.87,324.18 637.70,326.60 C641.53,329.02 645.73,331.58 649.20,334.20 C652.67,336.82 656.95,340.95 658.50,342.30" fill="none" stroke="#000" stroke-width="1.35"/>
<path d="M489.00,341.53 V344.47 M487.00,341.53 H491.00 M487.00,344.47 H491.00" fill="none" stroke="#fde725" stroke-width="1.1"/>
<rect x="487.20" y="341.20" width="3.60" height="3.60" fill="#fff" stroke="#fde725" stroke-width="1.1"/>
<path d="M499.40,334.72 V338.28 M497.40,334.72 H501.40 M497.40,338.28 H501.40" fill="none" stroke="#fde725" stroke-width="1.1"/>
<rect x="497.60" y="334.70" width="3.60" height="3.60" fill="#fff" stroke="#fde725" stroke-width="1.1"/>
<path d="M510.90,334.09 V337.71 M508.90,334.09 H512.90 M508.90,337.71 H512.90" fill="none" stroke="#fde725" stroke-width="1.1"/>
<rect x="509.10" y="334.10" width="3.60" height="3.60" fill="#fff" stroke="#fde725" stroke-width="1.1"/>
<path d="M522.20,331.89 V335.71 M520.20,331.89 H524.20 M520.20,335.71 H524.20" fill="none" stroke="#fde725" stroke-width="1.1"/>
<rect x="520.40" y="332.00" width="3.60" height="3.60" fill="#fff" stroke="#fde725" stroke-width="1.1"/>
<path d="M533.30,322.87 V327.53 M531.30,322.87 H535.30 M531.30,327.53 H535.30" fill="none" stroke="#fde725" stroke-width="1.1"/>
<rect x="531.50" y="323.40" width="3.60" height="3.60" fill="#fff" stroke="#fde725" stroke-width="1.1"/>
<path d="M582.30,288.29 V296.11 M580.30,288.29 H584.30 M580.30,296.11 H584.30" fill="none" stroke="#fde725" stroke-width="1.1"/>
<rect x="580.50" y="290.40" width="3.60" height="3.60" fill="#fff" stroke="#fde725" stroke-width="1.1"/>
<path d="M601.50,283.26 V291.54 M599.50,283.26 H603.50 M599.50,291.54 H603.50" fill="none" stroke="#fde725" stroke-width="1.1"/>
<rect x="599.70" y="285.60" width="3.60" height="3.60" fill="#fff" stroke="#fde725" stroke-width="1.1"/>
<path d="M620.40,276.03 V284.97 M618.40,276.03 H622.40 M618.40,284.97 H622.40" fill="none" stroke="#fde725" stroke-width="1.1"/>
<rect x="618.60" y="278.70" width="3.60" height="3.60" fill="#fff" stroke="#fde725" stroke-width="1.1"/>
<path d="M639.30,267.02 V276.78 M637.30,267.02 H641.30 M637.30,276.78 H641.30" fill="none" stroke="#fde725" stroke-width="1.1"/>
<rect x="637.50" y="270.10" width="3.60" height="3.60" fill="#fff" stroke="#fde725" stroke-width="1.1"/>
<path d="M658.00,260.52 V270.88 M656.00,260.52 H660.00 M656.00,270.88 H660.00" fill="none" stroke="#fde725" stroke-width="1.1"/>
<rect x="656.20" y="263.90" width="3.60" height="3.60" fill="#fff" stroke="#fde725" stroke-width="1.1"/>
<path d="M676.50,254.96 V265.84 M674.50,254.96 H678.50 M674.50,265.84 H678.50" fill="none" stroke="#fde725" stroke-width="1.1"/>
<rect x="674.70" y="258.60" width="3.60" height="3.60" fill="#fff" stroke="#fde725" stroke-width="1.1"/>
<path d="M489.00,346.77 V349.23 M487.00,346.77 H491.00 M487.00,349.23 H491.00" fill="none" stroke="#5ec962" stroke-width="1.1"/>
<rect x="487.20" y="346.20" width="3.60" height="3.60" fill="#fff" stroke="#5ec962" stroke-width="1.1"/>
<path d="M497.50,345.20 V347.80 M495.50,345.20 H499.50 M495.50,347.80 H499.50" fill="none" stroke="#5ec962" stroke-width="1.1"/>
<rect x="495.70" y="344.70" width="3.60" height="3.60" fill="#fff" stroke="#5ec962" stroke-width="1.1"/>
<path d="M507.20,343.73 V346.47 M505.20,343.73 H509.20 M505.20,346.47 H509.20" fill="none" stroke="#5ec962" stroke-width="1.1"/>
<rect x="505.40" y="343.30" width="3.60" height="3.60" fill="#fff" stroke="#5ec962" stroke-width="1.1"/>
<path d="M516.70,337.23 V340.57 M514.70,337.23 H518.70 M514.70,340.57 H518.70" fill="none" stroke="#5ec962" stroke-width="1.1"/>
<rect x="514.90" y="337.10" width="3.60" height="3.60" fill="#fff" stroke="#5ec962" stroke-width="1.1"/>
<path d="M525.90,330.42 V334.38 M523.90,330.42 H527.90 M523.90,334.38 H527.90" fill="none" stroke="#5ec962" stroke-width="1.1"/>
<rect x="524.10" y="330.60" width="3.60" height="3.60" fill="#fff" stroke="#5ec962" stroke-width="1.1"/>
<path d="M608.80,288.81 V296.59 M606.80,288.81 H610.80 M606.80,296.59 H610.80" fill="none" stroke="#5ec962" stroke-width="1.1"/>
<rect x="607.00" y="290.90" width="3.60" height="3.60" fill="#fff" stroke="#5ec962" stroke-width="1.1"/>
<path d="M622.00,288.08 V295.92 M620.00,288.08 H624.00 M620.00,295.92 H624.00" fill="none" stroke="#5ec962" stroke-width="1.1"/>
<rect x="620.20" y="290.20" width="3.60" height="3.60" fill="#fff" stroke="#5ec962" stroke-width="1.1"/>
<path d="M635.40,279.17 V287.83 M633.40,279.17 H637.40 M633.40,287.83 H637.40" fill="none" stroke="#5ec962" stroke-width="1.1"/>
<rect x="633.60" y="281.70" width="3.60" height="3.60" fill="#fff" stroke="#5ec962" stroke-width="1.1"/>
<path d="M648.50,287.14 V295.06 M646.50,287.14 H650.50 M646.50,295.06 H650.50" fill="none" stroke="#5ec962" stroke-width="1.1"/>
<rect x="646.70" y="289.30" width="3.60" height="3.60" fill="#fff" stroke="#5ec962" stroke-width="1.1"/>
<path d="M661.90,287.14 V295.06 M659.90,287.14 H663.90 M659.90,295.06 H663.90" fill="none" stroke="#5ec962" stroke-width="1.1"/>
<rect x="660.10" y="289.30" width="3.60" height="3.60" fill="#fff" stroke="#5ec962" stroke-width="1.1"/>
<path d="M676.50,281.58 V290.02 M674.50,281.58 H678.50 M674.50,290.02 H678.50" fill="none" stroke="#5ec962" stroke-width="1.1"/>
<rect x="674.70" y="284.00" width="3.60" height="3.60" fill="#fff" stroke="#5ec962" stroke-width="1.1"/>

<rect x="487.20" y="349.70" width="3.60" height="3.60" fill="#fff" stroke="#21918c" stroke-width="1.1"/>

<rect x="493.90" y="348.60" width="3.60" height="3.60" fill="#fff" stroke="#21918c" stroke-width="1.1"/>

<rect x="501.50" y="347.40" width="3.60" height="3.60" fill="#fff" stroke="#21918c" stroke-width="1.1"/>
<path d="M510.90,345.62 V348.18 M508.90,345.62 H512.90 M508.90,348.18 H512.90" fill="none" stroke="#21918c" stroke-width="1.1"/>
<rect x="509.10" y="345.10" width="3.60" height="3.60" fill="#fff" stroke="#21918c" stroke-width="1.1"/>
<path d="M518.30,343.21 V345.99 M516.30,343.21 H520.30 M516.30,345.99 H520.30" fill="none" stroke="#21918c" stroke-width="1.1"/>
<rect x="516.50" y="342.80" width="3.60" height="3.60" fill="#fff" stroke="#21918c" stroke-width="1.1"/>
<path d="M629.60,300.87 V307.53 M627.60,300.87 H631.60 M627.60,307.53 H631.60" fill="none" stroke="#21918c" stroke-width="1.1"/>
<rect x="627.80" y="302.40" width="3.60" height="3.60" fill="#fff" stroke="#21918c" stroke-width="1.1"/>
<path d="M639.50,301.60 V308.20 M637.50,301.60 H641.50 M637.50,308.20 H641.50" fill="none" stroke="#21918c" stroke-width="1.1"/>
<rect x="637.70" y="303.10" width="3.60" height="3.60" fill="#fff" stroke="#21918c" stroke-width="1.1"/>
<path d="M648.80,297.72 V304.68 M646.80,297.72 H650.80 M646.80,304.68 H650.80" fill="none" stroke="#21918c" stroke-width="1.1"/>
<rect x="647.00" y="299.40" width="3.60" height="3.60" fill="#fff" stroke="#21918c" stroke-width="1.1"/>
<path d="M658.00,295.31 V302.49 M656.00,295.31 H660.00 M656.00,302.49 H660.00" fill="none" stroke="#21918c" stroke-width="1.1"/>
<rect x="656.20" y="297.10" width="3.60" height="3.60" fill="#fff" stroke="#21918c" stroke-width="1.1"/>
<path d="M667.70,295.63 V302.77 M665.70,295.63 H669.70 M665.70,302.77 H669.70" fill="none" stroke="#21918c" stroke-width="1.1"/>
<rect x="665.90" y="297.40" width="3.60" height="3.60" fill="#fff" stroke="#21918c" stroke-width="1.1"/>
<path d="M676.50,301.60 V308.20 M674.50,301.60 H678.50 M674.50,308.20 H678.50" fill="none" stroke="#21918c" stroke-width="1.1"/>
<rect x="674.70" y="303.10" width="3.60" height="3.60" fill="#fff" stroke="#21918c" stroke-width="1.1"/>

<rect x="487.20" y="353.20" width="3.60" height="3.60" fill="#fff" stroke="#3b528b" stroke-width="1.1"/>

<rect x="493.40" y="352.50" width="3.60" height="3.60" fill="#fff" stroke="#3b528b" stroke-width="1.1"/>

<rect x="501.50" y="350.90" width="3.60" height="3.60" fill="#fff" stroke="#3b528b" stroke-width="1.1"/>

<rect x="509.10" y="349.70" width="3.60" height="3.60" fill="#fff" stroke="#3b528b" stroke-width="1.1"/>
<path d="M639.50,314.70 V320.10 M637.50,314.70 H641.50 M637.50,320.10 H641.50" fill="none" stroke="#3b528b" stroke-width="1.1"/>
<rect x="637.70" y="315.60" width="3.60" height="3.60" fill="#fff" stroke="#3b528b" stroke-width="1.1"/>
<path d="M646.90,309.36 V315.24 M644.90,309.36 H648.90 M644.90,315.24 H648.90" fill="none" stroke="#3b528b" stroke-width="1.1"/>
<rect x="645.10" y="310.50" width="3.60" height="3.60" fill="#fff" stroke="#3b528b" stroke-width="1.1"/>
<path d="M654.30,314.91 V320.29 M652.30,314.91 H656.30 M652.30,320.29 H656.30" fill="none" stroke="#3b528b" stroke-width="1.1"/>
<rect x="652.50" y="315.80" width="3.60" height="3.60" fill="#fff" stroke="#3b528b" stroke-width="1.1"/>
<path d="M661.90,309.88 V315.72 M659.90,309.88 H663.90 M659.90,315.72 H663.90" fill="none" stroke="#3b528b" stroke-width="1.1"/>
<rect x="660.10" y="311.00" width="3.60" height="3.60" fill="#fff" stroke="#3b528b" stroke-width="1.1"/>
<path d="M669.30,313.44 V318.96 M667.30,313.44 H671.30 M667.30,318.96 H671.30" fill="none" stroke="#3b528b" stroke-width="1.1"/>
<rect x="667.50" y="314.40" width="3.60" height="3.60" fill="#fff" stroke="#3b528b" stroke-width="1.1"/>
<path d="M676.50,305.69 V311.91 M674.50,305.69 H678.50 M674.50,311.91 H678.50" fill="none" stroke="#3b528b" stroke-width="1.1"/>
<rect x="674.70" y="307.00" width="3.60" height="3.60" fill="#fff" stroke="#3b528b" stroke-width="1.1"/>

<rect x="487.20" y="356.70" width="3.60" height="3.60" fill="#fff" stroke="#440154" stroke-width="1.1"/>

<rect x="493.40" y="356.20" width="3.60" height="3.60" fill="#fff" stroke="#440154" stroke-width="1.1"/>

<rect x="501.50" y="354.80" width="3.60" height="3.60" fill="#fff" stroke="#440154" stroke-width="1.1"/>
<path d="M646.90,322.66 V327.34 M644.90,322.66 H648.90 M644.90,327.34 H648.90" fill="none" stroke="#440154" stroke-width="1.1"/>
<rect x="645.10" y="323.20" width="3.60" height="3.60" fill="#fff" stroke="#440154" stroke-width="1.1"/>
<path d="M654.30,325.08 V329.52 M652.30,325.08 H656.30 M652.30,329.52 H656.30" fill="none" stroke="#440154" stroke-width="1.1"/>
<rect x="652.50" y="325.50" width="3.60" height="3.60" fill="#fff" stroke="#440154" stroke-width="1.1"/>
<path d="M661.90,325.08 V329.52 M659.90,325.08 H663.90 M659.90,329.52 H663.90" fill="none" stroke="#440154" stroke-width="1.1"/>
<rect x="660.10" y="325.50" width="3.60" height="3.60" fill="#fff" stroke="#440154" stroke-width="1.1"/>
<path d="M669.30,328.22 V332.38 M667.30,328.22 H671.30 M667.30,332.38 H671.30" fill="none" stroke="#440154" stroke-width="1.1"/>
<rect x="667.50" y="328.50" width="3.60" height="3.60" fill="#fff" stroke="#440154" stroke-width="1.1"/>
<path d="M676.50,323.40 V328.00 M674.50,323.40 H678.50 M674.50,328.00 H678.50" fill="none" stroke="#440154" stroke-width="1.1"/>
<rect x="674.70" y="323.90" width="3.60" height="3.60" fill="#fff" stroke="#440154" stroke-width="1.1"/>
</g>
<polygon points="557.50,310.35 558.12,311.95 559.83,312.04 558.50,313.12 558.94,314.78 557.50,313.85 556.06,314.78 556.50,313.12 555.17,312.04 556.88,311.95" fill="#000" stroke="#000" stroke-width="0.4"/>
<path d="M488.39,265.70 H493.89 M677.07,265.70 H671.57 M488.39,299.60 H493.89 M677.07,299.60 H671.57 M488.39,333.50 H493.89 M677.07,333.50 H671.57 M526.13,251.60 V257.10 M526.13,366.50 V361.00 M563.86,251.60 V257.10 M563.86,366.50 V361.00 M601.60,251.60 V257.10 M601.60,366.50 V361.00 M639.33,251.60 V257.10 M639.33,366.50 V361.00 " stroke="#000" stroke-width="1.25" fill="none"/>
<text x="483.19" y="270.50" text-anchor="end" class="tk">0.6</text>
<text x="483.19" y="304.40" text-anchor="end" class="tk">0.4</text>
<text x="483.19" y="338.30" text-anchor="end" class="tk">0.2</text>
<text x="493.09" y="265.20" class="lt">k</text>
<clipPath id="c34"><rect x="488.39" y="367.80" width="188.68" height="116.80"/></clipPath>
<g clip-path="url(#c34)">
<path d="M488.60,462.90 C490.50,463.58 496.10,465.57 500.00,467.00 C503.90,468.43 508.00,470.00 512.00,471.50 C516.00,473.00 520.00,474.62 524.00,476.00 C528.00,477.38 534.00,479.17 536.00,479.80" fill="none" stroke="#fde725" stroke-width="1.35"/>
<path d="M584.60,479.10 C587.68,475.63 596.95,465.62 603.10,458.30 C609.25,450.98 615.35,442.70 621.50,435.20 C627.65,427.70 633.83,419.63 640.00,413.30 C646.17,406.97 652.30,401.82 658.50,397.20 C664.70,392.58 674.08,387.53 677.20,385.60" fill="none" stroke="#fde725" stroke-width="1.35"/>
<path d="M488.60,466.40 C490.50,466.92 496.10,468.40 500.00,469.50 C503.90,470.60 508.00,471.75 512.00,473.00 C516.00,474.25 521.33,476.17 524.00,477.00 C526.67,477.83 527.33,477.83 528.00,478.00" fill="none" stroke="#5ec962" stroke-width="1.35"/>
<path d="M604.20,472.20 C607.08,468.92 615.53,459.62 621.50,452.50 C627.47,445.38 633.83,436.22 640.00,429.50 C646.17,422.78 652.30,416.82 658.50,412.20 C664.70,407.58 674.08,403.53 677.20,401.80" fill="none" stroke="#5ec962" stroke-width="1.35"/>
<path d="M488.60,470.00 C490.50,470.33 496.43,471.25 500.00,472.00 C503.57,472.75 506.67,473.58 510.00,474.50 C513.33,475.42 518.33,477.00 520.00,477.50" fill="none" stroke="#21918c" stroke-width="1.35"/>
<path d="M620.40,468.70 C623.67,465.05 633.65,453.53 640.00,446.80 C646.35,440.07 652.30,433.23 658.50,428.30 C664.70,423.37 674.08,419.05 677.20,417.20" fill="none" stroke="#21918c" stroke-width="1.35"/>
<path d="M488.60,473.00 C490.17,473.25 494.77,473.92 498.00,474.50 C501.23,475.08 505.33,475.92 508.00,476.50 C510.67,477.08 513.00,477.75 514.00,478.00" fill="none" stroke="#3b528b" stroke-width="1.35"/>
<path d="M635.40,467.50 C637.70,465.00 644.58,457.10 649.20,452.50 C653.82,447.90 658.43,443.35 663.10,439.90 C667.77,436.45 674.85,433.15 677.20,431.80" fill="none" stroke="#3b528b" stroke-width="1.35"/>
<path d="M488.60,476.00 C490.00,476.08 494.27,476.17 497.00,476.50 C499.73,476.83 503.67,477.75 505.00,478.00" fill="none" stroke="#440154" stroke-width="1.35"/>
<path d="M645.80,467.50 C647.92,465.58 653.27,460.03 658.50,456.00 C663.73,451.97 674.08,445.42 677.20,443.30" fill="none" stroke="#440154" stroke-width="1.35"/>
<path d="M497.50,479.10 C499.43,479.02 505.25,478.60 509.10,478.60 C512.95,478.60 516.75,478.83 520.60,479.10 C524.45,479.37 528.35,479.70 532.20,480.20 C536.05,480.70 539.87,481.58 543.70,482.10 C547.53,482.62 551.73,483.23 555.20,483.30 C558.67,483.37 560.65,483.12 564.50,482.50 C568.35,481.88 573.80,480.63 578.30,479.60 C582.80,478.57 587.37,477.53 591.50,476.30 C595.63,475.07 599.25,473.38 603.10,472.20 C606.95,471.02 610.75,469.98 614.60,469.20 C618.45,468.42 622.35,467.88 626.20,467.50 C630.05,467.12 633.87,467.00 637.70,466.90 C641.53,466.80 645.73,466.72 649.20,466.90 C652.67,467.08 656.95,467.82 658.50,468.00" fill="none" stroke="#000" stroke-width="1.35"/>
<path d="M488.80,460.27 V463.33 M486.80,460.27 H490.80 M486.80,463.33 H490.80" fill="none" stroke="#fde725" stroke-width="1.1"/>
<path d="M488.80,459.10 L491.50,461.80 L488.80,464.50 L486.10,461.80 Z" fill="#fff" stroke="#fde725" stroke-width="1.1"/>
<path d="M499.80,457.85 V461.15 M497.80,457.85 H501.80 M497.80,461.15 H501.80" fill="none" stroke="#fde725" stroke-width="1.1"/>
<path d="M499.80,456.80 L502.50,459.50 L499.80,462.20 L497.10,459.50 Z" fill="#fff" stroke="#fde725" stroke-width="1.1"/>
<path d="M510.90,462.70 V465.50 M508.90,462.70 H512.90 M508.90,465.50 H512.90" fill="none" stroke="#fde725" stroke-width="1.1"/>
<path d="M510.90,461.40 L513.60,464.10 L510.90,466.80 L508.20,464.10 Z" fill="#fff" stroke="#fde725" stroke-width="1.1"/>
<path d="M522.20,464.39 V467.01 M520.20,464.39 H524.20 M520.20,467.01 H524.20" fill="none" stroke="#fde725" stroke-width="1.1"/>
<path d="M522.20,463.00 L524.90,465.70 L522.20,468.40 L519.50,465.70 Z" fill="#fff" stroke="#fde725" stroke-width="1.1"/>
<path d="M533.30,464.39 V467.01 M531.30,464.39 H535.30 M531.30,467.01 H535.30" fill="none" stroke="#fde725" stroke-width="1.1"/>
<path d="M533.30,463.00 L536.00,465.70 L533.30,468.40 L530.60,465.70 Z" fill="#fff" stroke="#fde725" stroke-width="1.1"/>
<path d="M582.30,454.89 V458.51 M580.30,454.89 H584.30 M580.30,458.51 H584.30" fill="none" stroke="#fde725" stroke-width="1.1"/>
<path d="M582.30,454.00 L585.00,456.70 L582.30,459.40 L579.60,456.70 Z" fill="#fff" stroke="#fde725" stroke-width="1.1"/>
<path d="M601.50,443.18 V448.02 M599.50,443.18 H603.50 M599.50,448.02 H603.50" fill="none" stroke="#fde725" stroke-width="1.1"/>
<path d="M601.50,442.90 L604.20,445.60 L601.50,448.30 L598.80,445.60 Z" fill="#fff" stroke="#fde725" stroke-width="1.1"/>
<path d="M620.40,427.36 V433.84 M618.40,427.36 H622.40 M618.40,433.84 H622.40" fill="none" stroke="#fde725" stroke-width="1.1"/>
<path d="M620.40,427.90 L623.10,430.60 L620.40,433.30 L617.70,430.60 Z" fill="#fff" stroke="#fde725" stroke-width="1.1"/>
<path d="M639.30,407.42 V415.98 M637.30,407.42 H641.30 M637.30,415.98 H641.30" fill="none" stroke="#fde725" stroke-width="1.1"/>
<path d="M639.30,409.00 L642.00,411.70 L639.30,414.40 L636.60,411.70 Z" fill="#fff" stroke="#fde725" stroke-width="1.1"/>
<path d="M658.00,391.38 V401.62 M656.00,391.38 H660.00 M656.00,401.62 H660.00" fill="none" stroke="#fde725" stroke-width="1.1"/>
<path d="M658.00,393.80 L660.70,396.50 L658.00,399.20 L655.30,396.50 Z" fill="#fff" stroke="#fde725" stroke-width="1.1"/>
<path d="M676.50,375.77 V387.63 M674.50,375.77 H678.50 M674.50,387.63 H678.50" fill="none" stroke="#fde725" stroke-width="1.1"/>
<path d="M676.50,379.00 L679.20,381.70 L676.50,384.40 L673.80,381.70 Z" fill="#fff" stroke="#fde725" stroke-width="1.1"/>
<path d="M488.80,465.65 V468.15 M486.80,465.65 H490.80 M486.80,468.15 H490.80" fill="none" stroke="#5ec962" stroke-width="1.1"/>
<path d="M488.80,464.20 L491.50,466.90 L488.80,469.60 L486.10,466.90 Z" fill="#fff" stroke="#5ec962" stroke-width="1.1"/>
<path d="M497.50,466.29 V468.71 M495.50,466.29 H499.50 M495.50,468.71 H499.50" fill="none" stroke="#5ec962" stroke-width="1.1"/>
<path d="M497.50,464.80 L500.20,467.50 L497.50,470.20 L494.80,467.50 Z" fill="#fff" stroke="#5ec962" stroke-width="1.1"/>

<path d="M507.20,465.30 L509.90,468.00 L507.20,470.70 L504.50,468.00 Z" fill="#fff" stroke="#5ec962" stroke-width="1.1"/>

<path d="M516.70,465.50 L519.40,468.20 L516.70,470.90 L514.00,468.20 Z" fill="#fff" stroke="#5ec962" stroke-width="1.1"/>
<path d="M525.90,466.29 V468.71 M523.90,466.29 H527.90 M523.90,468.71 H527.90" fill="none" stroke="#5ec962" stroke-width="1.1"/>
<path d="M525.90,464.80 L528.60,467.50 L525.90,470.20 L523.20,467.50 Z" fill="#fff" stroke="#5ec962" stroke-width="1.1"/>
<path d="M608.80,448.04 V452.36 M606.80,448.04 H610.80 M606.80,452.36 H610.80" fill="none" stroke="#5ec962" stroke-width="1.1"/>
<path d="M608.80,447.50 L611.50,450.20 L608.80,452.90 L606.10,450.20 Z" fill="#fff" stroke="#5ec962" stroke-width="1.1"/>
<path d="M622.00,440.76 V445.84 M620.00,440.76 H624.00 M620.00,445.84 H624.00" fill="none" stroke="#5ec962" stroke-width="1.1"/>
<path d="M622.00,440.60 L624.70,443.30 L622.00,446.00 L619.30,443.30 Z" fill="#fff" stroke="#5ec962" stroke-width="1.1"/>
<path d="M635.40,426.20 V432.80 M633.40,426.20 H637.40 M633.40,432.80 H637.40" fill="none" stroke="#5ec962" stroke-width="1.1"/>
<path d="M635.40,426.80 L638.10,429.50 L635.40,432.20 L632.70,429.50 Z" fill="#fff" stroke="#5ec962" stroke-width="1.1"/>
<path d="M648.50,421.24 V428.36 M646.50,421.24 H650.50 M646.50,428.36 H650.50" fill="none" stroke="#5ec962" stroke-width="1.1"/>
<path d="M648.50,422.10 L651.20,424.80 L648.50,427.50 L645.80,424.80 Z" fill="#fff" stroke="#5ec962" stroke-width="1.1"/>
<path d="M661.90,413.22 V421.18 M659.90,413.22 H663.90 M659.90,421.18 H663.90" fill="none" stroke="#5ec962" stroke-width="1.1"/>
<path d="M661.90,414.50 L664.60,417.20 L661.90,419.90 L659.20,417.20 Z" fill="#fff" stroke="#5ec962" stroke-width="1.1"/>
<path d="M676.50,403.73 V412.67 M674.50,403.73 H678.50 M674.50,412.67 H678.50" fill="none" stroke="#5ec962" stroke-width="1.1"/>
<path d="M676.50,405.50 L679.20,408.20 L676.50,410.90 L673.80,408.20 Z" fill="#fff" stroke="#5ec962" stroke-width="1.1"/>

<path d="M489.50,468.30 L492.20,471.00 L489.50,473.70 L486.80,471.00 Z" fill="#fff" stroke="#21918c" stroke-width="1.1"/>

<path d="M495.70,468.30 L498.40,471.00 L495.70,473.70 L493.00,471.00 Z" fill="#fff" stroke="#21918c" stroke-width="1.1"/>

<path d="M503.30,469.00 L506.00,471.70 L503.30,474.40 L500.60,471.70 Z" fill="#fff" stroke="#21918c" stroke-width="1.1"/>

<path d="M510.90,468.30 L513.60,471.00 L510.90,473.70 L508.20,471.00 Z" fill="#fff" stroke="#21918c" stroke-width="1.1"/>

<path d="M518.30,469.90 L521.00,472.60 L518.30,475.30 L515.60,472.60 Z" fill="#fff" stroke="#21918c" stroke-width="1.1"/>
<path d="M629.60,449.30 V453.50 M627.60,449.30 H631.60 M627.60,453.50 H631.60" fill="none" stroke="#21918c" stroke-width="1.1"/>
<path d="M629.60,448.70 L632.30,451.40 L629.60,454.10 L626.90,451.40 Z" fill="#fff" stroke="#21918c" stroke-width="1.1"/>
<path d="M639.50,442.44 V447.36 M637.50,442.44 H641.50 M637.50,447.36 H641.50" fill="none" stroke="#21918c" stroke-width="1.1"/>
<path d="M639.50,442.20 L642.20,444.90 L639.50,447.60 L636.80,444.90 Z" fill="#fff" stroke="#21918c" stroke-width="1.1"/>
<path d="M648.80,432.74 V438.66 M646.80,432.74 H650.80 M646.80,438.66 H650.80" fill="none" stroke="#21918c" stroke-width="1.1"/>
<path d="M648.80,433.00 L651.50,435.70 L648.80,438.40 L646.10,435.70 Z" fill="#fff" stroke="#21918c" stroke-width="1.1"/>
<path d="M658.00,426.20 V432.80 M656.00,426.20 H660.00 M656.00,432.80 H660.00" fill="none" stroke="#21918c" stroke-width="1.1"/>
<path d="M658.00,426.80 L660.70,429.50 L658.00,432.20 L655.30,429.50 Z" fill="#fff" stroke="#21918c" stroke-width="1.1"/>
<path d="M667.70,418.81 V426.19 M665.70,418.81 H669.70 M665.70,426.19 H669.70" fill="none" stroke="#21918c" stroke-width="1.1"/>
<path d="M667.70,419.80 L670.40,422.50 L667.70,425.20 L665.00,422.50 Z" fill="#fff" stroke="#21918c" stroke-width="1.1"/>
<path d="M676.50,421.24 V428.36 M674.50,421.24 H678.50 M674.50,428.36 H678.50" fill="none" stroke="#21918c" stroke-width="1.1"/>
<path d="M676.50,422.10 L679.20,424.80 L676.50,427.50 L673.80,424.80 Z" fill="#fff" stroke="#21918c" stroke-width="1.1"/>

<path d="M489.50,469.90 L492.20,472.60 L489.50,475.30 L486.80,472.60 Z" fill="#fff" stroke="#3b528b" stroke-width="1.1"/>

<path d="M495.20,470.60 L497.90,473.30 L495.20,476.00 L492.50,473.30 Z" fill="#fff" stroke="#3b528b" stroke-width="1.1"/>

<path d="M503.30,470.60 L506.00,473.30 L503.30,476.00 L500.60,473.30 Z" fill="#fff" stroke="#3b528b" stroke-width="1.1"/>

<path d="M510.90,470.60 L513.60,473.30 L510.90,476.00 L508.20,473.30 Z" fill="#fff" stroke="#3b528b" stroke-width="1.1"/>
<path d="M639.50,454.15 V457.85 M637.50,454.15 H641.50 M637.50,457.85 H641.50" fill="none" stroke="#3b528b" stroke-width="1.1"/>
<path d="M639.50,453.30 L642.20,456.00 L639.50,458.70 L636.80,456.00 Z" fill="#fff" stroke="#3b528b" stroke-width="1.1"/>
<path d="M646.90,445.61 V450.19 M644.90,445.61 H648.90 M644.90,450.19 H648.90" fill="none" stroke="#3b528b" stroke-width="1.1"/>
<path d="M646.90,445.20 L649.60,447.90 L646.90,450.60 L644.20,447.90 Z" fill="#fff" stroke="#3b528b" stroke-width="1.1"/>
<path d="M654.30,444.87 V449.53 M652.30,444.87 H656.30 M652.30,449.53 H656.30" fill="none" stroke="#3b528b" stroke-width="1.1"/>
<path d="M654.30,444.50 L657.00,447.20 L654.30,449.90 L651.60,447.20 Z" fill="#fff" stroke="#3b528b" stroke-width="1.1"/>
<path d="M661.90,436.64 V442.16 M659.90,436.64 H663.90 M659.90,442.16 H663.90" fill="none" stroke="#3b528b" stroke-width="1.1"/>
<path d="M661.90,436.70 L664.60,439.40 L661.90,442.10 L659.20,439.40 Z" fill="#fff" stroke="#3b528b" stroke-width="1.1"/>
<path d="M669.30,434.64 V440.36 M667.30,434.64 H671.30 M667.30,440.36 H671.30" fill="none" stroke="#3b528b" stroke-width="1.1"/>
<path d="M669.30,434.80 L672.00,437.50 L669.30,440.20 L666.60,437.50 Z" fill="#fff" stroke="#3b528b" stroke-width="1.1"/>
<path d="M676.50,421.98 V429.02 M674.50,421.98 H678.50 M674.50,429.02 H678.50" fill="none" stroke="#3b528b" stroke-width="1.1"/>
<path d="M676.50,422.80 L679.20,425.50 L676.50,428.20 L673.80,425.50 Z" fill="#fff" stroke="#3b528b" stroke-width="1.1"/>

<path d="M489.50,471.80 L492.20,474.50 L489.50,477.20 L486.80,474.50 Z" fill="#fff" stroke="#440154" stroke-width="1.1"/>

<path d="M495.20,472.90 L497.90,475.60 L495.20,478.30 L492.50,475.60 Z" fill="#fff" stroke="#440154" stroke-width="1.1"/>

<path d="M503.30,473.60 L506.00,476.30 L503.30,479.00 L500.60,476.30 Z" fill="#fff" stroke="#440154" stroke-width="1.1"/>
<path d="M646.90,457.85 V461.15 M644.90,457.85 H648.90 M644.90,461.15 H648.90" fill="none" stroke="#440154" stroke-width="1.1"/>
<path d="M646.90,456.80 L649.60,459.50 L646.90,462.20 L644.20,459.50 Z" fill="#fff" stroke="#440154" stroke-width="1.1"/>
<path d="M654.30,452.99 V456.81 M652.30,452.99 H656.30 M652.30,456.81 H656.30" fill="none" stroke="#440154" stroke-width="1.1"/>
<path d="M654.30,452.20 L657.00,454.90 L654.30,457.60 L651.60,454.90 Z" fill="#fff" stroke="#440154" stroke-width="1.1"/>
<path d="M661.90,449.83 V453.97 M659.90,449.83 H663.90 M659.90,453.97 H663.90" fill="none" stroke="#440154" stroke-width="1.1"/>
<path d="M661.90,449.20 L664.60,451.90 L661.90,454.60 L659.20,451.90 Z" fill="#fff" stroke="#440154" stroke-width="1.1"/>
<path d="M669.30,448.04 V452.36 M667.30,448.04 H671.30 M667.30,452.36 H671.30" fill="none" stroke="#440154" stroke-width="1.1"/>
<path d="M669.30,447.50 L672.00,450.20 L669.30,452.90 L666.60,450.20 Z" fill="#fff" stroke="#440154" stroke-width="1.1"/>
<path d="M676.50,442.02 V446.98 M674.50,442.02 H678.50 M674.50,446.98 H678.50" fill="none" stroke="#440154" stroke-width="1.1"/>
<path d="M676.50,441.80 L679.20,444.50 L676.50,447.20 L673.80,444.50 Z" fill="#fff" stroke="#440154" stroke-width="1.1"/>
</g>
<polygon points="556.00,480.85 556.62,482.45 558.33,482.54 557.00,483.62 557.44,485.28 556.00,484.35 554.56,485.28 555.00,483.62 553.67,482.54 555.38,482.45" fill="#000" stroke="#000" stroke-width="0.4"/>
<path d="M488.39,384.50 H493.89 M677.07,384.50 H671.57 M488.39,417.70 H493.89 M677.07,417.70 H671.57 M488.39,450.90 H493.89 M677.07,450.90 H671.57 M526.13,368.80 V374.30 M526.13,483.60 V478.10 M563.86,368.80 V374.30 M563.86,483.60 V478.10 M601.60,368.80 V374.30 M601.60,483.60 V478.10 M639.33,368.80 V374.30 M639.33,483.60 V478.10 " stroke="#000" stroke-width="1.25" fill="none"/>
<text x="483.19" y="389.30" text-anchor="end" class="tk">0.6</text>
<text x="483.19" y="422.50" text-anchor="end" class="tk">0.4</text>
<text x="483.19" y="455.70" text-anchor="end" class="tk">0.2</text>
<text x="497.29" y="382.30" class="lt">l</text><g style="mix-blend-mode:darken"><rect x="49" y="248" width="192" height="1" fill="#f0f0f0"/>
<rect x="456" y="17" width="1" height="116" fill="#f0f0f0"/>
<rect x="459" y="17" width="1" height="116" fill="#f0f0f0"/>
<rect x="456" y="134" width="1" height="117" fill="#f0f0f0"/>
<rect x="459" y="134" width="1" height="117" fill="#f0f0f0"/>
<rect x="456" y="252" width="1" height="116" fill="#f0f0f0"/>
<rect x="459" y="252" width="1" height="116" fill="#f0f0f0"/>
<rect x="456" y="370" width="1" height="116" fill="#f0f0f0"/>
<rect x="459" y="370" width="1" height="116" fill="#f0f0f0"/>
<rect x="268" y="248" width="192" height="1" fill="#f0f0f0"/>
<rect x="487" y="18" width="191" height="1" fill="#f0f0f0"/>
<rect x="487" y="370" width="191" height="1" fill="#f0f0f0"/>
<rect x="49" y="131" width="192" height="1" fill="#ebebeb"/>
<rect x="270" y="17" width="1" height="116" fill="#ebebeb"/>
<rect x="270" y="134" width="1" height="117" fill="#ebebeb"/>
<rect x="270" y="252" width="1" height="116" fill="#ebebeb"/>
<rect x="270" y="370" width="1" height="116" fill="#ebebeb"/>
<rect x="268" y="131" width="192" height="1" fill="#ebebeb"/>
<rect x="240" y="17" width="1" height="116" fill="#e8e8e8"/>
<rect x="240" y="134" width="1" height="117" fill="#e8e8e8"/>
<rect x="240" y="252" width="1" height="116" fill="#e8e8e8"/>
<rect x="240" y="370" width="1" height="116" fill="#e8e8e8"/>
<rect x="49" y="366" width="192" height="1" fill="#e8e8e8"/>
<rect x="268" y="366" width="192" height="1" fill="#e8e8e8"/>
<rect x="49" y="136" width="192" height="1" fill="#e4e4e4"/>
<rect x="268" y="136" width="192" height="1" fill="#e4e4e4"/>
<rect x="487" y="133" width="191" height="1" fill="#e1e1e1"/>
<rect x="487" y="250" width="191" height="1" fill="#e1e1e1"/>
<rect x="49" y="18" width="192" height="1" fill="#e0e0e0"/>
<rect x="49" y="251" width="192" height="1" fill="#e0e0e0"/>
<rect x="49" y="371" width="192" height="1" fill="#e0e0e0"/>
<rect x="268" y="18" width="192" height="1" fill="#e0e0e0"/>
<rect x="268" y="251" width="192" height="1" fill="#e0e0e0"/>
<rect x="268" y="371" width="192" height="1" fill="#e0e0e0"/>
<rect x="51" y="17" width="1" height="116" fill="#d8d8d8"/>
<rect x="51" y="134" width="1" height="117" fill="#d8d8d8"/>
<rect x="51" y="252" width="1" height="116" fill="#d8d8d8"/>
<rect x="51" y="370" width="1" height="116" fill="#d8d8d8"/>
<rect x="49" y="486" width="192" height="1" fill="#d8d8d8"/>
<rect x="268" y="486" width="192" height="1" fill="#d8d8d8"/>
<rect x="489" y="17" width="1" height="116" fill="#d8d8d8"/>
<rect x="489" y="134" width="1" height="116" fill="#d8d8d8"/>
<rect x="489" y="251" width="1" height="116" fill="#d8d8d8"/>
<rect x="489" y="368" width="1" height="116" fill="#d8d8d8"/>
<rect x="487" y="365" width="191" height="1" fill="#c8c8c8"/>
<rect x="487" y="482" width="191" height="1" fill="#c8c8c8"/>
<rect x="268" y="17" width="1" height="116" fill="#c3c3c3"/>
<rect x="268" y="134" width="1" height="117" fill="#c3c3c3"/>
<rect x="268" y="252" width="1" height="116" fill="#c3c3c3"/>
<rect x="268" y="370" width="1" height="116" fill="#c3c3c3"/>
<rect x="49" y="253" width="192" height="1" fill="#c0c0c0"/>
<rect x="49" y="484" width="192" height="1" fill="#c0c0c0"/>
<rect x="268" y="253" width="192" height="1" fill="#c0c0c0"/>
<rect x="268" y="484" width="192" height="1" fill="#c0c0c0"/>
<rect x="487" y="367" width="191" height="1" fill="#b8b8b8"/>
<rect x="49" y="17" width="1" height="116" fill="#b0b0b0"/>
<rect x="49" y="134" width="1" height="117" fill="#b0b0b0"/>
<rect x="49" y="252" width="1" height="116" fill="#b0b0b0"/>
<rect x="49" y="370" width="1" height="116" fill="#b0b0b0"/>
<rect x="49" y="16" width="192" height="1" fill="#b0b0b0"/>
<rect x="268" y="16" width="192" height="1" fill="#b0b0b0"/>
<rect x="487" y="17" width="1" height="116" fill="#b0b0b0"/>
<rect x="487" y="134" width="1" height="116" fill="#b0b0b0"/>
<rect x="487" y="251" width="1" height="116" fill="#b0b0b0"/>
<rect x="487" y="368" width="1" height="116" fill="#b0b0b0"/>
<rect x="487" y="135" width="191" height="1" fill="#aaaaaa"/>
<rect x="487" y="252" width="191" height="1" fill="#aaaaaa"/>
<rect x="238" y="17" width="1" height="116" fill="#a0a0a0"/>
<rect x="238" y="134" width="1" height="117" fill="#a0a0a0"/>
<rect x="238" y="252" width="1" height="116" fill="#a0a0a0"/>
<rect x="238" y="370" width="1" height="116" fill="#a0a0a0"/>
<rect x="49" y="249" width="192" height="1" fill="#a0a0a0"/>
<rect x="268" y="249" width="192" height="1" fill="#a0a0a0"/>
<rect x="487" y="16" width="191" height="1" fill="#a0a0a0"/>
<rect x="457" y="17" width="1" height="116" fill="#909090"/>
<rect x="457" y="134" width="1" height="117" fill="#909090"/>
<rect x="457" y="252" width="1" height="116" fill="#909090"/>
<rect x="457" y="370" width="1" height="116" fill="#909090"/>
<rect x="49" y="369" width="192" height="1" fill="#8c8c8c"/>
<rect x="268" y="369" width="192" height="1" fill="#8c8c8c"/>
<rect x="49" y="133" width="192" height="1" fill="#8a8a8a"/>
<rect x="49" y="368" width="192" height="1" fill="#8a8a8a"/>
<rect x="268" y="133" width="192" height="1" fill="#8a8a8a"/>
<rect x="268" y="368" width="192" height="1" fill="#8a8a8a"/>
<rect x="487" y="369" width="191" height="1" fill="#8a8a8a"/>
<rect x="487" y="484" width="191" height="1" fill="#828282"/>
<rect x="487" y="131" width="191" height="1" fill="#6e6e6e"/>
<rect x="487" y="248" width="191" height="1" fill="#6e6e6e"/>
<rect x="676" y="17" width="1" height="116" fill="#6a6a6a"/>
<rect x="676" y="134" width="1" height="116" fill="#6a6a6a"/>
<rect x="676" y="251" width="1" height="116" fill="#6a6a6a"/>
<rect x="676" y="368" width="1" height="116" fill="#6a6a6a"/>
<rect x="49" y="134" width="192" height="1" fill="#646464"/>
<rect x="268" y="134" width="192" height="1" fill="#646464"/>
<rect x="49" y="135" width="192" height="1" fill="#444444"/>
<rect x="268" y="135" width="192" height="1" fill="#444444"/>
<rect x="677" y="17" width="1" height="116" fill="#383838"/>
<rect x="677" y="134" width="1" height="116" fill="#383838"/>
<rect x="677" y="251" width="1" height="116" fill="#383838"/>
<rect x="677" y="368" width="1" height="116" fill="#383838"/>
<rect x="487" y="368" width="191" height="1" fill="#303030"/>
<rect x="49" y="367" width="192" height="1" fill="#2c2c2c"/>
<rect x="268" y="367" width="192" height="1" fill="#2c2c2c"/>
<rect x="458" y="17" width="1" height="116" fill="#282828"/>
<rect x="458" y="134" width="1" height="117" fill="#282828"/>
<rect x="458" y="252" width="1" height="116" fill="#282828"/>
<rect x="458" y="370" width="1" height="116" fill="#282828"/>
<rect x="49" y="370" width="192" height="1" fill="#202020"/>
<rect x="268" y="370" width="192" height="1" fill="#202020"/>
<rect x="49" y="132" width="192" height="1" fill="#1e1e1e"/>
<rect x="268" y="132" width="192" height="1" fill="#1e1e1e"/>
<rect x="49" y="250" width="192" height="1" fill="#1a1a1a"/>
<rect x="268" y="250" width="192" height="1" fill="#1a1a1a"/>
<rect x="50" y="17" width="1" height="116" fill="#161616"/>
<rect x="239" y="17" width="1" height="116" fill="#161616"/>
<rect x="50" y="134" width="1" height="117" fill="#161616"/>
<rect x="239" y="134" width="1" height="117" fill="#161616"/>
<rect x="50" y="252" width="1" height="116" fill="#161616"/>
<rect x="239" y="252" width="1" height="116" fill="#161616"/>
<rect x="50" y="370" width="1" height="116" fill="#161616"/>
<rect x="239" y="370" width="1" height="116" fill="#161616"/>
<rect x="488" y="17" width="1" height="116" fill="#161616"/>
<rect x="488" y="134" width="1" height="116" fill="#161616"/>
<rect x="488" y="251" width="1" height="116" fill="#161616"/>
<rect x="488" y="368" width="1" height="116" fill="#161616"/>
<rect x="269" y="17" width="1" height="116" fill="#141414"/>
<rect x="269" y="134" width="1" height="117" fill="#141414"/>
<rect x="269" y="252" width="1" height="116" fill="#141414"/>
<rect x="269" y="370" width="1" height="116" fill="#141414"/>
<rect x="487" y="132" width="191" height="1" fill="#0f0f0f"/>
<rect x="487" y="134" width="191" height="1" fill="#0f0f0f"/>
<rect x="487" y="249" width="191" height="1" fill="#0f0f0f"/>
<rect x="487" y="251" width="191" height="1" fill="#0f0f0f"/>
<rect x="49" y="252" width="192" height="1" fill="#0e0e0e"/>
<rect x="268" y="252" width="192" height="1" fill="#0e0e0e"/>
<rect x="49" y="17" width="192" height="1" fill="#0c0c0c"/>
<rect x="268" y="17" width="192" height="1" fill="#0c0c0c"/>
<rect x="49" y="485" width="192" height="1" fill="#0a0a0a"/>
<rect x="268" y="485" width="192" height="1" fill="#0a0a0a"/>
<rect x="487" y="366" width="191" height="1" fill="#0a0a0a"/>
<rect x="487" y="17" width="191" height="1" fill="#050505"/>
<rect x="487" y="483" width="191" height="1" fill="#050505"/></g><text x="144.90" y="9.7" text-anchor="middle" class="ti"><tspan font-style="italic">ε</tspan><tspan class="ts" dy="1.8">1</tspan><tspan dy="-1.8"> = 0.9</tspan><tspan font-style="italic">ε</tspan><tspan class="ts" dy="1.8">2</tspan><tspan dy="-1.8">, </tspan><tspan font-style="italic">ξ</tspan><tspan class="ts" dy="1.8">12</tspan><tspan dy="-1.8"> = 1.2</tspan></text><text x="364.00" y="9.7" text-anchor="middle" class="ti"><tspan font-style="italic">ε</tspan><tspan class="ts" dy="1.8">1</tspan><tspan dy="-1.8"> = 0.5</tspan><tspan font-style="italic">ε</tspan><tspan class="ts" dy="1.8">2</tspan><tspan dy="-1.8">, </tspan><tspan font-style="italic">ξ</tspan><tspan class="ts" dy="1.8">12</tspan><tspan dy="-1.8"> = 1.0</tspan></text><text x="582.90" y="9.7" text-anchor="middle" class="ti"><tspan font-style="italic">ε</tspan><tspan class="ts" dy="1.8">1</tspan><tspan dy="-1.8"> = 0.5</tspan><tspan font-style="italic">ε</tspan><tspan class="ts" dy="1.8">2</tspan><tspan dy="-1.8">, </tspan><tspan font-style="italic">ξ</tspan><tspan class="ts" dy="1.8">12</tspan><tspan dy="-1.8"> = 0.85</tspan></text><g transform="translate(10.90,118.80) rotate(-90)"><text x="-0.37" y="0" class="yl" font-style="italic">D</text><text x="7.47" y="1.70" class="ys">1</text><text x="15.00" y="0" class="yl">/</text><text x="22.66" y="0" class="yl">(</text><text x="27.60" y="0" class="yl" font-style="italic">σ</text><text x="33.67" y="1.70" class="ys">1</text><text x="37.66" y="0" class="yl">(</text><text x="41.70" y="0" class="yl" font-style="italic">ε</text><text x="47.60" y="1.70" class="ys">1</text><text x="51.60" y="0" class="yl">/</text><text x="56.40" y="0" class="yl" font-style="italic">M</text><text x="65.97" y="1.70" class="ys">1</text><text x="70.63" y="0" class="yl">)</text><text x="75.17" y="-5.10" class="ys">1/2</text><text x="85.23" y="0" class="yl">)</text></g><g transform="translate(10.90,234.60) rotate(-90)"><text x="-0.37" y="0" class="yl" font-style="italic">D</text><text x="7.47" y="1.70" class="ys">2</text><text x="15.00" y="0" class="yl">/</text><text x="22.66" y="0" class="yl">(</text><text x="27.60" y="0" class="yl" font-style="italic">σ</text><text x="33.67" y="1.70" class="ys">1</text><text x="37.66" y="0" class="yl">(</text><text x="41.70" y="0" class="yl" font-style="italic">ε</text><text x="47.60" y="1.70" class="ys">1</text><text x="51.60" y="0" class="yl">/</text><text x="56.40" y="0" class="yl" font-style="italic">M</text><text x="65.97" y="1.70" class="ys">1</text><text x="70.63" y="0" class="yl">)</text><text x="75.17" y="-5.10" class="ys">1/2</text><text x="85.23" y="0" class="yl">)</text></g><g transform="translate(10.90,354.90) rotate(-90)"><text x="-0.37" y="0" class="yl" font-style="italic">Đ</text><text x="7.47" y="1.70" class="ys">12</text><text x="19.70" y="0" class="yl">/</text><text x="27.36" y="0" class="yl">(</text><text x="32.30" y="0" class="yl" font-style="italic">σ</text><text x="38.37" y="1.70" class="ys">1</text><text x="42.36" y="0" class="yl">(</text><text x="46.40" y="0" class="yl" font-style="italic">ε</text><text x="52.30" y="1.70" class="ys">1</text><text x="56.30" y="0" class="yl">/</text><text x="61.10" y="0" class="yl" font-style="italic">M</text><text x="70.67" y="1.70" class="ys">1</text><text x="75.33" y="0" class="yl">)</text><text x="79.87" y="-5.10" class="ys">1/2</text><text x="89.93" y="0" class="yl">)</text></g><g transform="translate(10.90,473.70) rotate(-90)"><text x="-0.37" y="0" class="yl" font-style="italic">D</text><text x="7.47" y="1.70" class="ys">12</text><text x="19.70" y="0" class="yl">/</text><text x="27.36" y="0" class="yl">(</text><text x="32.30" y="0" class="yl" font-style="italic">σ</text><text x="38.37" y="1.70" class="ys">1</text><text x="42.36" y="0" class="yl">(</text><text x="46.40" y="0" class="yl" font-style="italic">ε</text><text x="52.30" y="1.70" class="ys">1</text><text x="56.30" y="0" class="yl">/</text><text x="61.10" y="0" class="yl" font-style="italic">M</text><text x="70.67" y="1.70" class="ys">1</text><text x="75.33" y="0" class="yl">)</text><text x="79.87" y="-5.10" class="ys">1/2</text><text x="89.93" y="0" class="yl">)</text></g><text x="50.39" y="499.90" text-anchor="middle" class="tk">0.0</text><text x="88.16" y="499.90" text-anchor="middle" class="tk">0.2</text><text x="125.93" y="499.90" text-anchor="middle" class="tk">0.4</text><text x="163.70" y="499.90" text-anchor="middle" class="tk">0.6</text><text x="201.47" y="499.90" text-anchor="middle" class="tk">0.8</text><text x="239.24" y="499.90" text-anchor="middle" class="tk">1.0</text><text x="144.81" y="517.30" text-anchor="middle" class="tk"><tspan font-style="italic">x</tspan><tspan class="sb" dy="2.2">2</tspan><tspan dy="-2.2"> (mol mol</tspan><tspan class="sb" dy="-4.6">-1</tspan><tspan dy="4.6">)</tspan></text><text x="269.38" y="499.90" text-anchor="middle" class="tk">0.0</text><text x="307.13" y="499.90" text-anchor="middle" class="tk">0.2</text><text x="344.88" y="499.90" text-anchor="middle" class="tk">0.4</text><text x="382.64" y="499.90" text-anchor="middle" class="tk">0.6</text><text x="420.39" y="499.90" text-anchor="middle" class="tk">0.8</text><text x="458.14" y="499.90" text-anchor="middle" class="tk">1.0</text><text x="363.76" y="517.30" text-anchor="middle" class="tk"><tspan font-style="italic">x</tspan><tspan class="sb" dy="2.2">2</tspan><tspan dy="-2.2"> (mol mol</tspan><tspan class="sb" dy="-4.6">-1</tspan><tspan dy="4.6">)</tspan></text><text x="488.39" y="498.00" text-anchor="middle" class="tk">0.0</text><text x="526.13" y="498.00" text-anchor="middle" class="tk">0.2</text><text x="563.86" y="498.00" text-anchor="middle" class="tk">0.4</text><text x="601.60" y="498.00" text-anchor="middle" class="tk">0.6</text><text x="639.33" y="498.00" text-anchor="middle" class="tk">0.8</text><text x="677.07" y="498.00" text-anchor="middle" class="tk">1.0</text><text x="582.73" y="517.30" text-anchor="middle" class="tk"><tspan font-style="italic">x</tspan><tspan class="sb" dy="2.2">2</tspan><tspan dy="-2.2"> (mol mol</tspan><tspan class="sb" dy="-4.6">-1</tspan><tspan dy="4.6">)</tspan></text>
</svg>
</body></html>
